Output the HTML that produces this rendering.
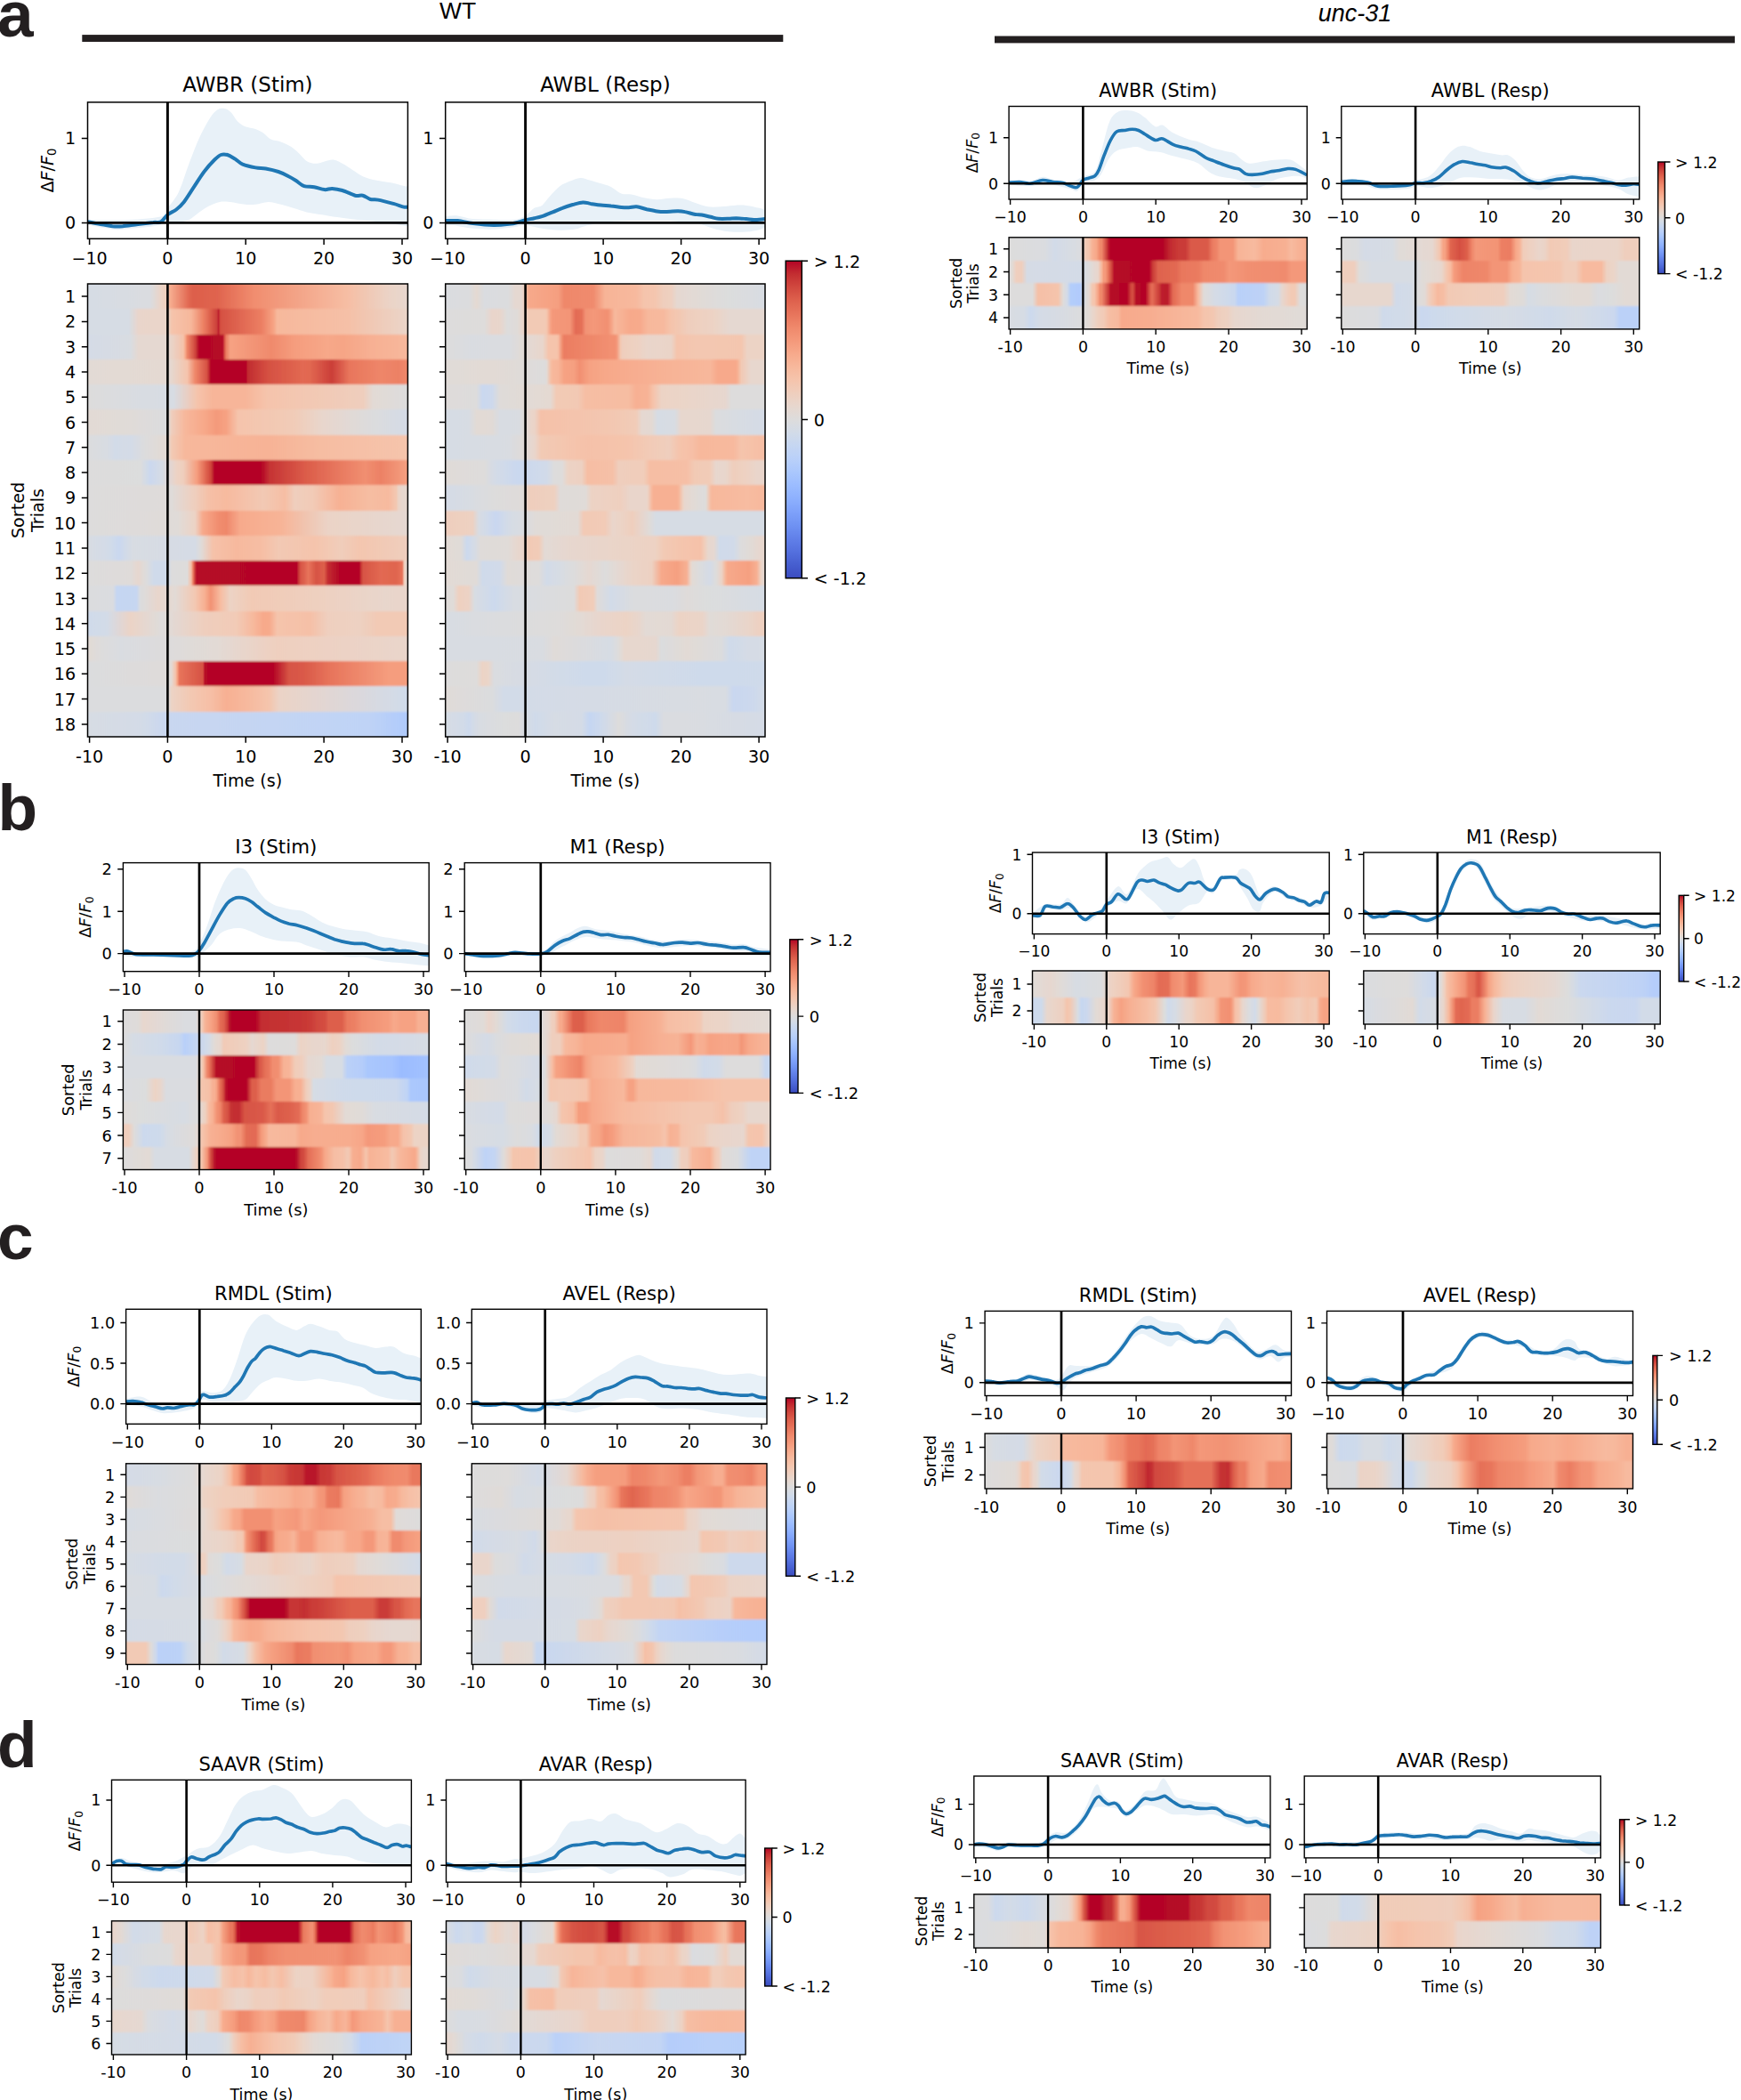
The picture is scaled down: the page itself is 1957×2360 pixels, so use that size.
<!DOCTYPE html><html><head><meta charset="utf-8"><title>Figure</title><style>html,body{margin:0;padding:0;background:#fff}svg{display:block}text{font-family:'DejaVu Sans','Liberation Sans',sans-serif;fill:#000}</style></head><body><svg width="1957" height="2360" viewBox="0 0 1957 2360"><defs><filter id="vb" x="-2%" y="-20%" width="104%" height="140%"><feGaussianBlur stdDeviation="0.7 1.2"/></filter><clipPath id="c0"><rect x="98.5" y="114.9" width="359.9" height="153.4"/></clipPath><clipPath id="h1"><rect x="98.5" y="319" width="359.9" height="509"/></clipPath><linearGradient id="g2" gradientUnits="userSpaceOnUse" x1="98.5" x2="458.4" y1="0" y2="0"><stop offset="0" stop-color="#d6dce4"/><stop offset="0.1953" stop-color="#dadce0"/><stop offset="0.2319" stop-color="#ecd3c5"/><stop offset="0.2502" stop-color="#f1cdba"/><stop offset="0.2563" stop-color="#f7af91"/><stop offset="0.3173" stop-color="#e16751"/><stop offset="0.3295" stop-color="#dd5f4b"/><stop offset="0.4089" stop-color="#e0654f"/><stop offset="0.5187" stop-color="#f18d6f"/><stop offset="0.8116" stop-color="#f6bea4"/><stop offset="0.9398" stop-color="#ebd3c6"/><stop offset="1" stop-color="#e7d7ce"/></linearGradient><linearGradient id="g3" gradientUnits="userSpaceOnUse" x1="98.5" x2="458.4" y1="0" y2="0"><stop offset="0" stop-color="#d6dce4"/><stop offset="0.1282" stop-color="#d6dce4"/><stop offset="0.1587" stop-color="#e9d5cb"/><stop offset="0.2502" stop-color="#ead5c9"/><stop offset="0.2624" stop-color="#f5c4ac"/><stop offset="0.3234" stop-color="#f7b79b"/><stop offset="0.36" stop-color="#ed8366"/><stop offset="0.3845" stop-color="#dc5d4a"/><stop offset="0.4028" stop-color="#cc403a"/><stop offset="0.4089" stop-color="#bd1f2d"/><stop offset="0.415" stop-color="#d55042"/><stop offset="0.5431" stop-color="#ec7f63"/><stop offset="0.5797" stop-color="#f6a283"/><stop offset="0.5919" stop-color="#f7b89c"/><stop offset="0.8116" stop-color="#f5c0a7"/><stop offset="1" stop-color="#ead5c9"/></linearGradient><linearGradient id="g4" gradientUnits="userSpaceOnUse" x1="98.5" x2="458.4" y1="0" y2="0"><stop offset="0" stop-color="#d4dbe6"/><stop offset="0.1343" stop-color="#d9dce1"/><stop offset="0.1587" stop-color="#e5d8d1"/><stop offset="0.2502" stop-color="#e5d8d1"/><stop offset="0.299" stop-color="#f5c2aa"/><stop offset="0.3051" stop-color="#f7a889"/><stop offset="0.3112" stop-color="#ee8669"/><stop offset="0.3356" stop-color="#d0473d"/><stop offset="0.3417" stop-color="#c12b30"/><stop offset="0.3478" stop-color="#b40426"/><stop offset="0.4211" stop-color="#b50927"/><stop offset="0.4272" stop-color="#d65244"/><stop offset="0.4333" stop-color="#ec7f63"/><stop offset="0.4455" stop-color="#f6a283"/><stop offset="0.5736" stop-color="#f08a6c"/><stop offset="0.6469" stop-color="#f59d7e"/><stop offset="0.7506" stop-color="#f7a889"/><stop offset="0.7994" stop-color="#f6a586"/><stop offset="0.8848" stop-color="#f7b093"/><stop offset="1" stop-color="#f7b89c"/></linearGradient><linearGradient id="g5" gradientUnits="userSpaceOnUse" x1="98.5" x2="458.4" y1="0" y2="0"><stop offset="0" stop-color="#e2dad5"/><stop offset="0.2563" stop-color="#e4d9d2"/><stop offset="0.3112" stop-color="#f5c4ac"/><stop offset="0.3356" stop-color="#ef886b"/><stop offset="0.3722" stop-color="#d65244"/><stop offset="0.3783" stop-color="#c53334"/><stop offset="0.3845" stop-color="#b40426"/><stop offset="0.4943" stop-color="#b40426"/><stop offset="0.5004" stop-color="#c12b30"/><stop offset="0.5614" stop-color="#d55042"/><stop offset="0.6713" stop-color="#e26952"/><stop offset="0.6957" stop-color="#e16751"/><stop offset="0.7628" stop-color="#cb3e38"/><stop offset="0.8177" stop-color="#e8765c"/><stop offset="0.9154" stop-color="#ee8669"/><stop offset="0.9703" stop-color="#ec8165"/><stop offset="1" stop-color="#ef886b"/></linearGradient><linearGradient id="g6" gradientUnits="userSpaceOnUse" x1="98.5" x2="458.4" y1="0" y2="0"><stop offset="0" stop-color="#dddcdc"/><stop offset="0.1404" stop-color="#d9dce1"/><stop offset="0.2685" stop-color="#d7dce3"/><stop offset="0.3417" stop-color="#f5c4ac"/><stop offset="0.3906" stop-color="#f7b599"/><stop offset="0.4943" stop-color="#f7b599"/><stop offset="0.5309" stop-color="#f6bea4"/><stop offset="0.5614" stop-color="#f5c4ac"/><stop offset="0.8604" stop-color="#efcebd"/><stop offset="0.8909" stop-color="#e2dad5"/><stop offset="1" stop-color="#dddcdc"/></linearGradient><linearGradient id="g7" gradientUnits="userSpaceOnUse" x1="98.5" x2="458.4" y1="0" y2="0"><stop offset="0" stop-color="#e2dad5"/><stop offset="0.1343" stop-color="#e0dbd8"/><stop offset="0.2441" stop-color="#dbdcde"/><stop offset="0.2502" stop-color="#dcdddd"/><stop offset="0.2624" stop-color="#efcebd"/><stop offset="0.3051" stop-color="#f7b79b"/><stop offset="0.3661" stop-color="#f7a889"/><stop offset="0.4028" stop-color="#f49a7b"/><stop offset="0.4333" stop-color="#f6a283"/><stop offset="0.4699" stop-color="#f5c4ac"/><stop offset="0.6469" stop-color="#f1ccb8"/><stop offset="0.7323" stop-color="#e8d6cc"/><stop offset="0.8971" stop-color="#dbdcde"/><stop offset="1" stop-color="#d4dbe6"/></linearGradient><linearGradient id="g8" gradientUnits="userSpaceOnUse" x1="98.5" x2="458.4" y1="0" y2="0"><stop offset="0" stop-color="#dbdcde"/><stop offset="0.061" stop-color="#d8dce2"/><stop offset="0.0854" stop-color="#d2dbe8"/><stop offset="0.1159" stop-color="#d4dbe6"/><stop offset="0.1343" stop-color="#d3dbe7"/><stop offset="0.1831" stop-color="#dddcdc"/><stop offset="0.2502" stop-color="#e3d9d3"/><stop offset="0.2624" stop-color="#f2cab5"/><stop offset="0.3051" stop-color="#f7b89c"/><stop offset="0.5675" stop-color="#f7b396"/><stop offset="0.7262" stop-color="#f6bda2"/><stop offset="1" stop-color="#f5c4ac"/></linearGradient><linearGradient id="g9" gradientUnits="userSpaceOnUse" x1="98.5" x2="458.4" y1="0" y2="0"><stop offset="0" stop-color="#dddcdc"/><stop offset="0.1648" stop-color="#dcdddd"/><stop offset="0.1953" stop-color="#cbd8ee"/><stop offset="0.2319" stop-color="#d5dbe5"/><stop offset="0.2807" stop-color="#edd2c3"/><stop offset="0.299" stop-color="#efcebd"/><stop offset="0.3417" stop-color="#f59d7e"/><stop offset="0.3722" stop-color="#dd5f4b"/><stop offset="0.3845" stop-color="#d0473d"/><stop offset="0.3906" stop-color="#c12b30"/><stop offset="0.3967" stop-color="#b40426"/><stop offset="0.5431" stop-color="#b40426"/><stop offset="0.5675" stop-color="#c53334"/><stop offset="0.6835" stop-color="#dc5d4a"/><stop offset="0.8665" stop-color="#f18f71"/><stop offset="0.9154" stop-color="#ec8165"/><stop offset="1" stop-color="#f5a081"/></linearGradient><linearGradient id="g10" gradientUnits="userSpaceOnUse" x1="98.5" x2="458.4" y1="0" y2="0"><stop offset="0" stop-color="#dddcdc"/><stop offset="0.2624" stop-color="#dfdbd9"/><stop offset="0.3356" stop-color="#efcebd"/><stop offset="0.3783" stop-color="#f5c0a7"/><stop offset="0.4333" stop-color="#f7ba9f"/><stop offset="0.5492" stop-color="#f2c9b4"/><stop offset="0.6163" stop-color="#f6bea4"/><stop offset="0.6469" stop-color="#efcebd"/><stop offset="0.7018" stop-color="#f2cbb7"/><stop offset="0.7872" stop-color="#f7b194"/><stop offset="0.8787" stop-color="#f6bda2"/><stop offset="0.9398" stop-color="#f7ba9f"/><stop offset="0.9642" stop-color="#f3c8b2"/><stop offset="0.9703" stop-color="#ebd3c6"/><stop offset="0.9825" stop-color="#e7d7ce"/><stop offset="1" stop-color="#e7d7ce"/></linearGradient><linearGradient id="g11" gradientUnits="userSpaceOnUse" x1="98.5" x2="458.4" y1="0" y2="0"><stop offset="0" stop-color="#dddcdc"/><stop offset="0.2807" stop-color="#e0dbd8"/><stop offset="0.3356" stop-color="#ecd3c5"/><stop offset="0.36" stop-color="#f7a98b"/><stop offset="0.4089" stop-color="#f18d6f"/><stop offset="0.4333" stop-color="#ef886b"/><stop offset="0.476" stop-color="#f7aa8c"/><stop offset="0.6041" stop-color="#f7b497"/><stop offset="0.7506" stop-color="#ebd3c6"/><stop offset="1" stop-color="#e5d8d1"/></linearGradient><linearGradient id="g12" gradientUnits="userSpaceOnUse" x1="98.5" x2="458.4" y1="0" y2="0"><stop offset="0" stop-color="#d8dce2"/><stop offset="0.0671" stop-color="#d2dbe8"/><stop offset="0.0976" stop-color="#cad8ef"/><stop offset="0.1404" stop-color="#d8dce2"/><stop offset="0.3356" stop-color="#d5dbe5"/><stop offset="0.3539" stop-color="#dfdbd9"/><stop offset="0.3906" stop-color="#f5c2aa"/><stop offset="0.4638" stop-color="#f7b99e"/><stop offset="0.5431" stop-color="#f6bea4"/><stop offset="0.598" stop-color="#f2c9b4"/><stop offset="0.7079" stop-color="#f5c4ac"/><stop offset="0.7689" stop-color="#f2cbb7"/><stop offset="0.7933" stop-color="#f0cdbb"/><stop offset="0.8482" stop-color="#f4c6af"/><stop offset="1" stop-color="#efcebd"/></linearGradient><linearGradient id="g13" gradientUnits="userSpaceOnUse" x1="98.5" x2="458.4" y1="0" y2="0"><stop offset="0" stop-color="#dddcdc"/><stop offset="0.1343" stop-color="#dfdbd9"/><stop offset="0.1587" stop-color="#e6d7cf"/><stop offset="0.1831" stop-color="#dddcdc"/><stop offset="0.2075" stop-color="#cfdaea"/><stop offset="0.2502" stop-color="#cfdaea"/><stop offset="0.2624" stop-color="#dddcdc"/><stop offset="0.3112" stop-color="#dedcdb"/><stop offset="0.3234" stop-color="#f5c0a7"/><stop offset="0.3295" stop-color="#ea7b60"/><stop offset="0.3356" stop-color="#ca3b37"/><stop offset="0.3417" stop-color="#b50927"/><stop offset="0.653" stop-color="#b40426"/><stop offset="0.6591" stop-color="#c83836"/><stop offset="0.6652" stop-color="#d75445"/><stop offset="0.6896" stop-color="#e7745b"/><stop offset="0.714" stop-color="#d75445"/><stop offset="0.7384" stop-color="#dd5f4b"/><stop offset="0.7506" stop-color="#c32e31"/><stop offset="0.7872" stop-color="#b40426"/><stop offset="0.8482" stop-color="#b40426"/><stop offset="0.8543" stop-color="#c83836"/><stop offset="0.8604" stop-color="#d75445"/><stop offset="0.9154" stop-color="#e26952"/><stop offset="0.9642" stop-color="#e0654f"/><stop offset="0.9825" stop-color="#e67259"/><stop offset="0.9886" stop-color="#f1cdba"/><stop offset="0.9947" stop-color="#e7d7ce"/><stop offset="1" stop-color="#e7d7ce"/></linearGradient><linearGradient id="g14" gradientUnits="userSpaceOnUse" x1="98.5" x2="458.4" y1="0" y2="0"><stop offset="0" stop-color="#dbdcde"/><stop offset="0.0793" stop-color="#dadce0"/><stop offset="0.0915" stop-color="#c5d6f2"/><stop offset="0.1526" stop-color="#c6d6f1"/><stop offset="0.1648" stop-color="#dbdcde"/><stop offset="0.2197" stop-color="#e8d6cc"/><stop offset="0.2746" stop-color="#e2dad5"/><stop offset="0.3356" stop-color="#f3c8b2"/><stop offset="0.3661" stop-color="#f7af91"/><stop offset="0.3845" stop-color="#f29274"/><stop offset="0.415" stop-color="#f7bca1"/><stop offset="0.4455" stop-color="#ecd3c5"/><stop offset="0.5126" stop-color="#f2cab5"/><stop offset="0.7262" stop-color="#eed0c0"/><stop offset="0.9276" stop-color="#e8d6cc"/><stop offset="1" stop-color="#e9d5cb"/></linearGradient><linearGradient id="g15" gradientUnits="userSpaceOnUse" x1="98.5" x2="458.4" y1="0" y2="0"><stop offset="0" stop-color="#cfdaea"/><stop offset="0.061" stop-color="#d3dbe7"/><stop offset="0.1343" stop-color="#ebd3c6"/><stop offset="0.2319" stop-color="#dedcdb"/><stop offset="0.3661" stop-color="#efcebd"/><stop offset="0.4638" stop-color="#f2cbb7"/><stop offset="0.5187" stop-color="#f7b89c"/><stop offset="0.5492" stop-color="#f7a98b"/><stop offset="0.5675" stop-color="#f7aa8c"/><stop offset="0.5919" stop-color="#f5c4ac"/><stop offset="0.6957" stop-color="#f5c0a7"/><stop offset="0.7506" stop-color="#efcfbf"/><stop offset="0.8482" stop-color="#edd1c2"/><stop offset="0.9032" stop-color="#f2cab5"/><stop offset="1" stop-color="#f2cab5"/></linearGradient><linearGradient id="g16" gradientUnits="userSpaceOnUse" x1="98.5" x2="458.4" y1="0" y2="0"><stop offset="0" stop-color="#e2dad5"/><stop offset="0.0427" stop-color="#dddcdc"/><stop offset="0.1037" stop-color="#d9dce1"/><stop offset="0.4028" stop-color="#e2dad5"/><stop offset="0.5919" stop-color="#efcfbf"/><stop offset="1" stop-color="#e9d5cb"/></linearGradient><linearGradient id="g17" gradientUnits="userSpaceOnUse" x1="98.5" x2="458.4" y1="0" y2="0"><stop offset="0" stop-color="#dbdcde"/><stop offset="0.2563" stop-color="#dfdbd9"/><stop offset="0.2624" stop-color="#e3d9d3"/><stop offset="0.2746" stop-color="#f5c2aa"/><stop offset="0.2807" stop-color="#f59f80"/><stop offset="0.2868" stop-color="#e7745b"/><stop offset="0.36" stop-color="#d65244"/><stop offset="0.3661" stop-color="#b70d28"/><stop offset="0.3783" stop-color="#b40426"/><stop offset="0.5797" stop-color="#b40426"/><stop offset="0.6163" stop-color="#cd423b"/><stop offset="0.6285" stop-color="#d75445"/><stop offset="0.6774" stop-color="#da5a49"/><stop offset="0.7567" stop-color="#e7745b"/><stop offset="0.9398" stop-color="#f59d7e"/><stop offset="1" stop-color="#f59d7e"/></linearGradient><linearGradient id="g18" gradientUnits="userSpaceOnUse" x1="98.5" x2="458.4" y1="0" y2="0"><stop offset="0" stop-color="#dbdcde"/><stop offset="0.2502" stop-color="#dbdcde"/><stop offset="0.2624" stop-color="#ecd3c5"/><stop offset="0.3234" stop-color="#f3c8b2"/><stop offset="0.3845" stop-color="#f6bfa6"/><stop offset="0.4333" stop-color="#f7b093"/><stop offset="0.5004" stop-color="#f7b99e"/><stop offset="0.5675" stop-color="#f4c5ad"/><stop offset="0.598" stop-color="#ebd3c6"/><stop offset="0.9764" stop-color="#d2dbe8"/><stop offset="1" stop-color="#cfdaea"/></linearGradient><linearGradient id="g19" gradientUnits="userSpaceOnUse" x1="98.5" x2="458.4" y1="0" y2="0"><stop offset="0" stop-color="#d7dce3"/><stop offset="0.1709" stop-color="#d3dbe7"/><stop offset="0.2441" stop-color="#c9d7f0"/><stop offset="0.8787" stop-color="#bfd3f6"/><stop offset="1" stop-color="#afcafc"/></linearGradient><clipPath id="c20"><rect x="500.7" y="114.9" width="359.3" height="153.4"/></clipPath><clipPath id="h21"><rect x="500.7" y="319" width="359.3" height="509"/></clipPath><linearGradient id="g22" gradientUnits="userSpaceOnUse" x1="500.7" x2="860" y1="0" y2="0"><stop offset="0" stop-color="#dadce0"/><stop offset="0.0731" stop-color="#dbdcde"/><stop offset="0.0974" stop-color="#e4d9d2"/><stop offset="0.1218" stop-color="#dadce0"/><stop offset="0.1948" stop-color="#dbdcde"/><stop offset="0.2192" stop-color="#e5d8d1"/><stop offset="0.2374" stop-color="#e5d8d1"/><stop offset="0.2435" stop-color="#ead5c9"/><stop offset="0.2557" stop-color="#f7b497"/><stop offset="0.2618" stop-color="#f7a98b"/><stop offset="0.3531" stop-color="#f59f80"/><stop offset="0.3714" stop-color="#ef886b"/><stop offset="0.4627" stop-color="#f08b6e"/><stop offset="0.4992" stop-color="#f7b497"/><stop offset="0.5966" stop-color="#f7b99e"/><stop offset="0.621" stop-color="#f5c4ac"/><stop offset="0.6575" stop-color="#f4c6af"/><stop offset="0.6819" stop-color="#efcebd"/><stop offset="0.7062" stop-color="#eed0c0"/><stop offset="0.7245" stop-color="#e5d8d1"/><stop offset="0.8828" stop-color="#dcdddd"/><stop offset="1" stop-color="#d8dce2"/></linearGradient><linearGradient id="g23" gradientUnits="userSpaceOnUse" x1="500.7" x2="860" y1="0" y2="0"><stop offset="0" stop-color="#dddcdc"/><stop offset="0.1218" stop-color="#dedcdb"/><stop offset="0.1461" stop-color="#e9d5cb"/><stop offset="0.1705" stop-color="#e8d6cc"/><stop offset="0.1948" stop-color="#dddcdc"/><stop offset="0.2253" stop-color="#e0dbd8"/><stop offset="0.2496" stop-color="#ecd3c5"/><stop offset="0.2618" stop-color="#f2cab5"/><stop offset="0.3105" stop-color="#f2cab5"/><stop offset="0.3166" stop-color="#f4c6af"/><stop offset="0.3288" stop-color="#f6a385"/><stop offset="0.3349" stop-color="#f4987a"/><stop offset="0.3896" stop-color="#f39577"/><stop offset="0.4079" stop-color="#e36b54"/><stop offset="0.4262" stop-color="#e57058"/><stop offset="0.4384" stop-color="#f29274"/><stop offset="0.4627" stop-color="#f4987a"/><stop offset="0.5053" stop-color="#f29072"/><stop offset="0.5114" stop-color="#f39577"/><stop offset="0.5297" stop-color="#f7b89c"/><stop offset="0.554" stop-color="#f7b194"/><stop offset="0.5784" stop-color="#f7a98b"/><stop offset="0.6088" stop-color="#f7aa8c"/><stop offset="0.6332" stop-color="#f7b89c"/><stop offset="0.6819" stop-color="#f7b99e"/><stop offset="0.7062" stop-color="#f5c4ac"/><stop offset="0.7367" stop-color="#f2c9b4"/><stop offset="0.761" stop-color="#efcebd"/><stop offset="0.8402" stop-color="#ecd3c5"/><stop offset="0.8889" stop-color="#e5d8d1"/><stop offset="1" stop-color="#e5d8d1"/></linearGradient><linearGradient id="g24" gradientUnits="userSpaceOnUse" x1="500.7" x2="860" y1="0" y2="0"><stop offset="0" stop-color="#dddcdc"/><stop offset="0.0791" stop-color="#d9dce1"/><stop offset="0.2009" stop-color="#dadce0"/><stop offset="0.2314" stop-color="#e0dbd8"/><stop offset="0.3044" stop-color="#e8d6cc"/><stop offset="0.3227" stop-color="#f5c4ac"/><stop offset="0.347" stop-color="#f5c4ac"/><stop offset="0.3531" stop-color="#f6bea4"/><stop offset="0.3653" stop-color="#f18d6f"/><stop offset="0.3714" stop-color="#eb7d62"/><stop offset="0.4201" stop-color="#ed8366"/><stop offset="0.5175" stop-color="#f29072"/><stop offset="0.5297" stop-color="#f29072"/><stop offset="0.5358" stop-color="#f4987a"/><stop offset="0.5479" stop-color="#f3c7b1"/><stop offset="0.554" stop-color="#efcebd"/><stop offset="0.6027" stop-color="#edd2c3"/><stop offset="0.6332" stop-color="#e9d5cb"/><stop offset="0.7062" stop-color="#ead4c8"/><stop offset="0.7245" stop-color="#f5c4ac"/><stop offset="0.7854" stop-color="#f3c7b1"/><stop offset="0.8341" stop-color="#f3c7b1"/><stop offset="0.9254" stop-color="#f4c6af"/><stop offset="0.9437" stop-color="#ecd3c5"/><stop offset="1" stop-color="#ecd3c5"/></linearGradient><linearGradient id="g25" gradientUnits="userSpaceOnUse" x1="500.7" x2="860" y1="0" y2="0"><stop offset="0" stop-color="#e0dbd8"/><stop offset="0.1279" stop-color="#e2dad5"/><stop offset="0.1826" stop-color="#e1dad6"/><stop offset="0.3105" stop-color="#dddcdc"/><stop offset="0.3166" stop-color="#e1dad6"/><stop offset="0.3288" stop-color="#f5c0a7"/><stop offset="0.3349" stop-color="#f7b89c"/><stop offset="0.3531" stop-color="#f7b599"/><stop offset="0.3714" stop-color="#f6a283"/><stop offset="0.4018" stop-color="#f5a081"/><stop offset="0.4201" stop-color="#f29072"/><stop offset="0.4505" stop-color="#f6a283"/><stop offset="0.4992" stop-color="#f7a889"/><stop offset="0.5906" stop-color="#f7ad90"/><stop offset="0.7123" stop-color="#f7b497"/><stop offset="0.828" stop-color="#f7b79b"/><stop offset="0.8524" stop-color="#f7a98b"/><stop offset="0.9071" stop-color="#f7a98b"/><stop offset="0.9132" stop-color="#f7af91"/><stop offset="0.9254" stop-color="#f2c9b4"/><stop offset="0.9559" stop-color="#e7d7ce"/><stop offset="1" stop-color="#e7d7ce"/></linearGradient><linearGradient id="g26" gradientUnits="userSpaceOnUse" x1="500.7" x2="860" y1="0" y2="0"><stop offset="0" stop-color="#dfdbd9"/><stop offset="0.0974" stop-color="#dddcdc"/><stop offset="0.1157" stop-color="#cad8ef"/><stop offset="0.1461" stop-color="#cdd9ec"/><stop offset="0.1705" stop-color="#dfdbd9"/><stop offset="0.3288" stop-color="#e4d9d2"/><stop offset="0.347" stop-color="#f2cab5"/><stop offset="0.414" stop-color="#f2c9b4"/><stop offset="0.4384" stop-color="#f6bea4"/><stop offset="0.5723" stop-color="#f6bda2"/><stop offset="0.5966" stop-color="#f7b093"/><stop offset="0.6332" stop-color="#f7b396"/><stop offset="0.6514" stop-color="#f5c4ac"/><stop offset="0.6758" stop-color="#ecd3c5"/><stop offset="0.761" stop-color="#ead5c9"/><stop offset="0.8767" stop-color="#e6d7cf"/><stop offset="0.895" stop-color="#dddcdc"/><stop offset="1" stop-color="#dddcdc"/></linearGradient><linearGradient id="g27" gradientUnits="userSpaceOnUse" x1="500.7" x2="860" y1="0" y2="0"><stop offset="0" stop-color="#d6dce4"/><stop offset="0.0731" stop-color="#d7dce3"/><stop offset="0.0974" stop-color="#e2dad5"/><stop offset="0.1461" stop-color="#e1dad6"/><stop offset="0.1705" stop-color="#d8dce2"/><stop offset="0.2314" stop-color="#d9dce1"/><stop offset="0.2496" stop-color="#e1dad6"/><stop offset="0.2679" stop-color="#e9d5cb"/><stop offset="0.2801" stop-color="#ebd3c6"/><stop offset="0.2983" stop-color="#f5c1a9"/><stop offset="0.5175" stop-color="#f3c7b1"/><stop offset="0.5966" stop-color="#f1ccb8"/><stop offset="0.6149" stop-color="#e5d8d1"/><stop offset="0.6454" stop-color="#e3d9d3"/><stop offset="0.6636" stop-color="#d6dce4"/><stop offset="0.7184" stop-color="#d8dce2"/><stop offset="0.7367" stop-color="#e7d7ce"/><stop offset="0.828" stop-color="#e6d7cf"/><stop offset="0.8463" stop-color="#dbdcde"/><stop offset="0.9071" stop-color="#d8dce2"/><stop offset="1" stop-color="#d4dbe6"/></linearGradient><linearGradient id="g28" gradientUnits="userSpaceOnUse" x1="500.7" x2="860" y1="0" y2="0"><stop offset="0" stop-color="#d6dce4"/><stop offset="0.2009" stop-color="#d9dce1"/><stop offset="0.2496" stop-color="#e1dad6"/><stop offset="0.2801" stop-color="#e9d5cb"/><stop offset="0.2983" stop-color="#f2cab5"/><stop offset="0.3714" stop-color="#f4c6af"/><stop offset="0.4444" stop-color="#f5c1a9"/><stop offset="0.5662" stop-color="#f5c4ac"/><stop offset="0.6393" stop-color="#f2cbb7"/><stop offset="0.7001" stop-color="#efcebd"/><stop offset="0.7306" stop-color="#f5c4ac"/><stop offset="0.7732" stop-color="#f6bfa6"/><stop offset="0.7976" stop-color="#f7b89c"/><stop offset="0.9011" stop-color="#f7b99e"/><stop offset="0.9254" stop-color="#f5c4ac"/><stop offset="1" stop-color="#f6bea4"/></linearGradient><linearGradient id="g29" gradientUnits="userSpaceOnUse" x1="500.7" x2="860" y1="0" y2="0"><stop offset="0" stop-color="#e0dbd8"/><stop offset="0.1218" stop-color="#dedcdb"/><stop offset="0.1522" stop-color="#d4dbe6"/><stop offset="0.2253" stop-color="#cad8ef"/><stop offset="0.3166" stop-color="#d1dae9"/><stop offset="0.3409" stop-color="#dddcdc"/><stop offset="0.3653" stop-color="#dedcdb"/><stop offset="0.3836" stop-color="#ecd3c5"/><stop offset="0.4262" stop-color="#edd1c2"/><stop offset="0.4444" stop-color="#f6bea4"/><stop offset="0.5236" stop-color="#f5c0a7"/><stop offset="0.5419" stop-color="#efcebd"/><stop offset="0.621" stop-color="#f1cdba"/><stop offset="0.6393" stop-color="#f6bea4"/><stop offset="0.7549" stop-color="#f6bfa6"/><stop offset="0.7793" stop-color="#f2cab5"/><stop offset="0.828" stop-color="#f1ccb8"/><stop offset="0.8463" stop-color="#e7d7ce"/><stop offset="0.8767" stop-color="#e8d6cc"/><stop offset="0.9011" stop-color="#efcebd"/><stop offset="0.9437" stop-color="#edd2c3"/><stop offset="0.9741" stop-color="#e9d5cb"/><stop offset="1" stop-color="#e9d5cb"/></linearGradient><linearGradient id="g30" gradientUnits="userSpaceOnUse" x1="500.7" x2="860" y1="0" y2="0"><stop offset="0" stop-color="#d4dbe6"/><stop offset="0.0791" stop-color="#d8dce2"/><stop offset="0.1522" stop-color="#dddcdc"/><stop offset="0.2435" stop-color="#dfdbd9"/><stop offset="0.2618" stop-color="#efcebd"/><stop offset="0.3409" stop-color="#eed0c0"/><stop offset="0.3592" stop-color="#dfdbd9"/><stop offset="0.4384" stop-color="#e0dbd8"/><stop offset="0.4566" stop-color="#ecd3c5"/><stop offset="0.5479" stop-color="#efcfbf"/><stop offset="0.5784" stop-color="#e9d5cb"/><stop offset="0.6271" stop-color="#e9d5cb"/><stop offset="0.6332" stop-color="#ecd3c5"/><stop offset="0.6454" stop-color="#f7b99e"/><stop offset="0.6514" stop-color="#f7b093"/><stop offset="0.7245" stop-color="#f7b093"/><stop offset="0.7306" stop-color="#f7b79b"/><stop offset="0.7428" stop-color="#edd2c3"/><stop offset="0.7489" stop-color="#e7d7ce"/><stop offset="0.7732" stop-color="#e2dad5"/><stop offset="0.8097" stop-color="#dddcdc"/><stop offset="0.8158" stop-color="#e1dad6"/><stop offset="0.828" stop-color="#f5c0a7"/><stop offset="0.8341" stop-color="#f7b89c"/><stop offset="0.9071" stop-color="#f7ba9f"/><stop offset="0.9437" stop-color="#f7bca1"/><stop offset="1" stop-color="#f7b89c"/></linearGradient><linearGradient id="g31" gradientUnits="userSpaceOnUse" x1="500.7" x2="860" y1="0" y2="0"><stop offset="0" stop-color="#efcebd"/><stop offset="0.0852" stop-color="#edd1c2"/><stop offset="0.1035" stop-color="#d8dce2"/><stop offset="0.1279" stop-color="#d1dae9"/><stop offset="0.1583" stop-color="#c9d7f0"/><stop offset="0.207" stop-color="#d6dce4"/><stop offset="0.2496" stop-color="#dadce0"/><stop offset="0.2801" stop-color="#e0dbd8"/><stop offset="0.414" stop-color="#e2dad5"/><stop offset="0.4323" stop-color="#f2cab5"/><stop offset="0.4992" stop-color="#f2cbb7"/><stop offset="0.5236" stop-color="#e9d5cb"/><stop offset="0.554" stop-color="#ecd3c5"/><stop offset="0.5845" stop-color="#efcebd"/><stop offset="0.6393" stop-color="#dfdbd9"/><stop offset="0.6575" stop-color="#d6dce4"/><stop offset="1" stop-color="#d6dce4"/></linearGradient><linearGradient id="g32" gradientUnits="userSpaceOnUse" x1="500.7" x2="860" y1="0" y2="0"><stop offset="0" stop-color="#e2dad5"/><stop offset="0.0487" stop-color="#e0dbd8"/><stop offset="0.067" stop-color="#ccd9ed"/><stop offset="0.0913" stop-color="#d5dbe5"/><stop offset="0.1096" stop-color="#dfdbd9"/><stop offset="0.1948" stop-color="#e0dbd8"/><stop offset="0.2253" stop-color="#e7d7ce"/><stop offset="0.2435" stop-color="#e9d5cb"/><stop offset="0.2618" stop-color="#f2cab5"/><stop offset="0.2922" stop-color="#f1ccb8"/><stop offset="0.3105" stop-color="#e2dad5"/><stop offset="0.3775" stop-color="#e6d7cf"/><stop offset="0.6575" stop-color="#edd2c3"/><stop offset="0.6819" stop-color="#f2cab5"/><stop offset="0.7245" stop-color="#f4c6af"/><stop offset="0.7976" stop-color="#f5c1a9"/><stop offset="0.8097" stop-color="#f1cdba"/><stop offset="0.8219" stop-color="#e7d7ce"/><stop offset="0.8402" stop-color="#e5d8d1"/><stop offset="0.8584" stop-color="#cfdaea"/><stop offset="0.9011" stop-color="#d1dae9"/><stop offset="0.9254" stop-color="#dddcdc"/><stop offset="0.9559" stop-color="#e1dad6"/><stop offset="0.9863" stop-color="#e7d7ce"/><stop offset="1" stop-color="#e7d7ce"/></linearGradient><linearGradient id="g33" gradientUnits="userSpaceOnUse" x1="500.7" x2="860" y1="0" y2="0"><stop offset="0" stop-color="#e2dad5"/><stop offset="0.0974" stop-color="#e0dbd8"/><stop offset="0.1157" stop-color="#cfdaea"/><stop offset="0.1705" stop-color="#d1dae9"/><stop offset="0.1948" stop-color="#e0dbd8"/><stop offset="0.2922" stop-color="#dedcdb"/><stop offset="0.3166" stop-color="#d2dbe8"/><stop offset="0.3592" stop-color="#d7dce3"/><stop offset="0.4018" stop-color="#dddcdc"/><stop offset="0.4505" stop-color="#e5d8d1"/><stop offset="0.4992" stop-color="#dddcdc"/><stop offset="0.5479" stop-color="#e5d8d1"/><stop offset="0.5845" stop-color="#ead4c8"/><stop offset="0.6454" stop-color="#edd1c2"/><stop offset="0.6758" stop-color="#f7a98b"/><stop offset="0.7245" stop-color="#f5a081"/><stop offset="0.7549" stop-color="#f7b093"/><stop offset="0.7671" stop-color="#ead5c9"/><stop offset="0.7732" stop-color="#e2dad5"/><stop offset="0.7976" stop-color="#dbdcde"/><stop offset="0.828" stop-color="#d4dbe6"/><stop offset="0.8463" stop-color="#dddcdc"/><stop offset="0.8645" stop-color="#ebd3c6"/><stop offset="0.8767" stop-color="#f7b497"/><stop offset="0.8828" stop-color="#f7a98b"/><stop offset="0.9498" stop-color="#f5a081"/><stop offset="0.9741" stop-color="#f7b093"/><stop offset="0.9863" stop-color="#edd1c2"/><stop offset="0.9924" stop-color="#e7d7ce"/><stop offset="1" stop-color="#e7d7ce"/></linearGradient><linearGradient id="g34" gradientUnits="userSpaceOnUse" x1="500.7" x2="860" y1="0" y2="0"><stop offset="0" stop-color="#dfdbd9"/><stop offset="0.0244" stop-color="#e0dbd8"/><stop offset="0.0426" stop-color="#eed0c0"/><stop offset="0.0731" stop-color="#ecd3c5"/><stop offset="0.0913" stop-color="#d8dce2"/><stop offset="0.1522" stop-color="#ccd9ed"/><stop offset="0.2131" stop-color="#d8dce2"/><stop offset="0.4018" stop-color="#dddcdc"/><stop offset="0.4201" stop-color="#f2cab5"/><stop offset="0.4627" stop-color="#f1cdba"/><stop offset="0.4749" stop-color="#dfdbd9"/><stop offset="0.5175" stop-color="#d2dbe8"/><stop offset="0.5906" stop-color="#dbdcde"/><stop offset="0.7123" stop-color="#dadce0"/><stop offset="0.7549" stop-color="#dfdbd9"/><stop offset="0.8097" stop-color="#dcdddd"/><stop offset="1" stop-color="#d6dce4"/></linearGradient><linearGradient id="g35" gradientUnits="userSpaceOnUse" x1="500.7" x2="860" y1="0" y2="0"><stop offset="0" stop-color="#d8dce2"/><stop offset="0.3531" stop-color="#dedcdb"/><stop offset="0.4201" stop-color="#e2dad5"/><stop offset="0.4931" stop-color="#e9d5cb"/><stop offset="0.5662" stop-color="#ecd3c5"/><stop offset="0.6027" stop-color="#e8d6cc"/><stop offset="0.6271" stop-color="#e2dad5"/><stop offset="0.7062" stop-color="#e3d9d3"/><stop offset="0.7306" stop-color="#ecd3c5"/><stop offset="0.8036" stop-color="#ead4c8"/><stop offset="0.828" stop-color="#e0dbd8"/><stop offset="0.8828" stop-color="#e3d9d3"/><stop offset="0.9559" stop-color="#ead4c8"/><stop offset="0.9863" stop-color="#eed0c0"/><stop offset="1" stop-color="#eed0c0"/></linearGradient><linearGradient id="g36" gradientUnits="userSpaceOnUse" x1="500.7" x2="860" y1="0" y2="0"><stop offset="0" stop-color="#d8dce2"/><stop offset="0.3044" stop-color="#d9dce1"/><stop offset="0.3409" stop-color="#e0dbd8"/><stop offset="0.5175" stop-color="#d6dce4"/><stop offset="0.5419" stop-color="#dedcdb"/><stop offset="0.5601" stop-color="#e7d7ce"/><stop offset="0.6575" stop-color="#e6d7cf"/><stop offset="0.6758" stop-color="#dbdcde"/><stop offset="0.7549" stop-color="#e2dad5"/><stop offset="0.8645" stop-color="#dbdcde"/><stop offset="0.8889" stop-color="#cfdaea"/><stop offset="0.9498" stop-color="#d5dbe5"/><stop offset="1" stop-color="#d6dce4"/></linearGradient><linearGradient id="g37" gradientUnits="userSpaceOnUse" x1="500.7" x2="860" y1="0" y2="0"><stop offset="0" stop-color="#dddcdc"/><stop offset="0.0974" stop-color="#dedcdb"/><stop offset="0.1157" stop-color="#ecd3c5"/><stop offset="0.1339" stop-color="#ead5c9"/><stop offset="0.1522" stop-color="#dadce0"/><stop offset="0.4444" stop-color="#cedaeb"/><stop offset="0.4931" stop-color="#cedaeb"/><stop offset="0.5662" stop-color="#d4dbe6"/><stop offset="0.8097" stop-color="#cedaeb"/><stop offset="1" stop-color="#cfdaea"/></linearGradient><linearGradient id="g38" gradientUnits="userSpaceOnUse" x1="500.7" x2="860" y1="0" y2="0"><stop offset="0" stop-color="#e0dbd8"/><stop offset="0.1461" stop-color="#dbdcde"/><stop offset="0.1826" stop-color="#d2dbe8"/><stop offset="0.7915" stop-color="#d9dce1"/><stop offset="0.8767" stop-color="#d8dce2"/><stop offset="0.9011" stop-color="#c9d7f0"/><stop offset="0.968" stop-color="#cdd9ec"/><stop offset="1" stop-color="#d4dbe6"/></linearGradient><linearGradient id="g39" gradientUnits="userSpaceOnUse" x1="500.7" x2="860" y1="0" y2="0"><stop offset="0" stop-color="#d6dce4"/><stop offset="0.0548" stop-color="#d2dbe8"/><stop offset="0.0731" stop-color="#cdd9ec"/><stop offset="0.1035" stop-color="#d8dce2"/><stop offset="0.1887" stop-color="#dcdddd"/><stop offset="0.2253" stop-color="#dddcdc"/><stop offset="0.2801" stop-color="#cfdaea"/><stop offset="0.3409" stop-color="#d6dce4"/><stop offset="0.4262" stop-color="#d4dbe6"/><stop offset="0.4505" stop-color="#c5d6f2"/><stop offset="0.481" stop-color="#ccd9ed"/><stop offset="0.5419" stop-color="#dddcdc"/><stop offset="0.5845" stop-color="#d4dbe6"/><stop offset="0.6575" stop-color="#cedaeb"/><stop offset="0.6819" stop-color="#dadce0"/><stop offset="0.8097" stop-color="#d9dce1"/><stop offset="1" stop-color="#d4dbe6"/></linearGradient><clipPath id="c40"><rect x="1134.1" y="119.5" width="335.1" height="104.5"/></clipPath><clipPath id="h41"><rect x="1134.1" y="266.8" width="335.1" height="103.1"/></clipPath><linearGradient id="g42" gradientUnits="userSpaceOnUse" x1="1134.1" x2="1469.2" y1="0" y2="0"><stop offset="0" stop-color="#dddcdc"/><stop offset="0.1221" stop-color="#dadce0"/><stop offset="0.1527" stop-color="#d2dbe8"/><stop offset="0.2015" stop-color="#d7dce3"/><stop offset="0.2381" stop-color="#dadce0"/><stop offset="0.2565" stop-color="#f2cbb7"/><stop offset="0.2687" stop-color="#f4c5ad"/><stop offset="0.2809" stop-color="#f7b194"/><stop offset="0.2931" stop-color="#f7a889"/><stop offset="0.3053" stop-color="#f08a6c"/><stop offset="0.3114" stop-color="#ef886b"/><stop offset="0.3297" stop-color="#c83836"/><stop offset="0.3359" stop-color="#b8122a"/><stop offset="0.342" stop-color="#b40426"/><stop offset="0.519" stop-color="#b40426"/><stop offset="0.5374" stop-color="#c0282f"/><stop offset="0.5679" stop-color="#ca3b37"/><stop offset="0.5923" stop-color="#ca3b37"/><stop offset="0.6106" stop-color="#da5a49"/><stop offset="0.6656" stop-color="#da5a49"/><stop offset="0.6839" stop-color="#eb7d62"/><stop offset="0.6961" stop-color="#ee8468"/><stop offset="0.7083" stop-color="#f39577"/><stop offset="0.7511" stop-color="#f39577"/><stop offset="0.7694" stop-color="#f7b497"/><stop offset="0.8244" stop-color="#f7ba9f"/><stop offset="0.8549" stop-color="#f7ac8e"/><stop offset="0.9282" stop-color="#f7b093"/><stop offset="0.9465" stop-color="#f7ba9f"/><stop offset="0.9709" stop-color="#f7b396"/><stop offset="1" stop-color="#f7ac8e"/></linearGradient><linearGradient id="g43" gradientUnits="userSpaceOnUse" x1="1134.1" x2="1469.2" y1="0" y2="0"><stop offset="0" stop-color="#dddcdc"/><stop offset="0.0122" stop-color="#e2dad5"/><stop offset="0.0244" stop-color="#efcfbf"/><stop offset="0.0427" stop-color="#efcebd"/><stop offset="0.0611" stop-color="#d5dbe5"/><stop offset="0.2443" stop-color="#d3dbe7"/><stop offset="0.2687" stop-color="#dddcdc"/><stop offset="0.2992" stop-color="#e9d5cb"/><stop offset="0.3114" stop-color="#f7b79b"/><stop offset="0.3175" stop-color="#f59c7d"/><stop offset="0.3236" stop-color="#f4987a"/><stop offset="0.3297" stop-color="#ee8669"/><stop offset="0.342" stop-color="#d55042"/><stop offset="0.3481" stop-color="#c53334"/><stop offset="0.3542" stop-color="#b50927"/><stop offset="0.4702" stop-color="#b40426"/><stop offset="0.4824" stop-color="#ca3b37"/><stop offset="0.5007" stop-color="#df634e"/><stop offset="0.5618" stop-color="#e26952"/><stop offset="0.5801" stop-color="#e9785d"/><stop offset="0.6351" stop-color="#ea7b60"/><stop offset="0.6534" stop-color="#ef886b"/><stop offset="0.7206" stop-color="#f08b6e"/><stop offset="0.7389" stop-color="#f4987a"/><stop offset="0.806" stop-color="#f18f71"/><stop offset="0.9282" stop-color="#f08b6e"/><stop offset="0.9465" stop-color="#f4987a"/><stop offset="1" stop-color="#f4987a"/></linearGradient><linearGradient id="g44" gradientUnits="userSpaceOnUse" x1="1134.1" x2="1469.2" y1="0" y2="0"><stop offset="0" stop-color="#dddcdc"/><stop offset="0.0794" stop-color="#dddcdc"/><stop offset="0.0977" stop-color="#f5c0a7"/><stop offset="0.1282" stop-color="#f5c1a9"/><stop offset="0.1649" stop-color="#f5c4ac"/><stop offset="0.1832" stop-color="#dedcdb"/><stop offset="0.1954" stop-color="#d3dbe7"/><stop offset="0.2076" stop-color="#b3cdfb"/><stop offset="0.2381" stop-color="#b1cbfc"/><stop offset="0.2565" stop-color="#dbdcde"/><stop offset="0.2687" stop-color="#e4d9d2"/><stop offset="0.2809" stop-color="#f4c6af"/><stop offset="0.287" stop-color="#f5c4ac"/><stop offset="0.2992" stop-color="#f6a385"/><stop offset="0.3053" stop-color="#f08a6c"/><stop offset="0.3114" stop-color="#ef886b"/><stop offset="0.3359" stop-color="#c32e31"/><stop offset="0.342" stop-color="#b50927"/><stop offset="0.3969" stop-color="#b40426"/><stop offset="0.4091" stop-color="#cf453c"/><stop offset="0.4152" stop-color="#d55042"/><stop offset="0.4213" stop-color="#c53334"/><stop offset="0.4274" stop-color="#b50927"/><stop offset="0.458" stop-color="#b40426"/><stop offset="0.4702" stop-color="#d24b40"/><stop offset="0.4763" stop-color="#e16751"/><stop offset="0.4824" stop-color="#e36b54"/><stop offset="0.5068" stop-color="#c73635"/><stop offset="0.5129" stop-color="#bd1f2d"/><stop offset="0.5313" stop-color="#bb1b2c"/><stop offset="0.5496" stop-color="#e26952"/><stop offset="0.5679" stop-color="#ea7b60"/><stop offset="0.5801" stop-color="#ef886b"/><stop offset="0.6167" stop-color="#ef886b"/><stop offset="0.6351" stop-color="#f7bca1"/><stop offset="0.6534" stop-color="#e0dbd8"/><stop offset="0.69" stop-color="#d5dbe5"/><stop offset="0.7267" stop-color="#cfdaea"/><stop offset="0.7572" stop-color="#cad8ef"/><stop offset="0.7694" stop-color="#b9d0f9"/><stop offset="0.8549" stop-color="#bed2f6"/><stop offset="0.8732" stop-color="#cfdaea"/><stop offset="0.9037" stop-color="#d5dbe5"/><stop offset="0.916" stop-color="#e6d7cf"/><stop offset="0.9343" stop-color="#efcfbf"/><stop offset="0.9465" stop-color="#f2cab5"/><stop offset="0.9587" stop-color="#f2cab5"/><stop offset="0.977" stop-color="#dedcdb"/><stop offset="1" stop-color="#dddcdc"/></linearGradient><linearGradient id="g45" gradientUnits="userSpaceOnUse" x1="1134.1" x2="1469.2" y1="0" y2="0"><stop offset="0" stop-color="#d9dce1"/><stop offset="0.0489" stop-color="#d6dce4"/><stop offset="0.0733" stop-color="#ccd9ed"/><stop offset="0.1038" stop-color="#d4dbe6"/><stop offset="0.2443" stop-color="#dbdcde"/><stop offset="0.2687" stop-color="#e2dad5"/><stop offset="0.287" stop-color="#ead4c8"/><stop offset="0.2992" stop-color="#efcebd"/><stop offset="0.3175" stop-color="#f2cbb7"/><stop offset="0.3359" stop-color="#f6bea4"/><stop offset="0.3664" stop-color="#f7b99e"/><stop offset="0.3786" stop-color="#f7aa8c"/><stop offset="0.4702" stop-color="#f7ad90"/><stop offset="0.5679" stop-color="#f7b599"/><stop offset="0.6351" stop-color="#f7ba9f"/><stop offset="0.6534" stop-color="#f5c4ac"/><stop offset="0.6839" stop-color="#f3c7b1"/><stop offset="0.7022" stop-color="#efcebd"/><stop offset="0.7328" stop-color="#edd1c2"/><stop offset="0.7572" stop-color="#e7d7ce"/><stop offset="0.8366" stop-color="#e3d9d3"/><stop offset="1" stop-color="#e0dbd8"/></linearGradient><clipPath id="c46"><rect x="1507.8" y="119.5" width="334.9" height="104.5"/></clipPath><clipPath id="h47"><rect x="1507.8" y="266.8" width="334.9" height="103.1"/></clipPath><linearGradient id="g48" gradientUnits="userSpaceOnUse" x1="1507.8" x2="1842.7" y1="0" y2="0"><stop offset="0" stop-color="#dddcdc"/><stop offset="0.0488" stop-color="#dbdcde"/><stop offset="0.0793" stop-color="#d4dbe6"/><stop offset="0.1709" stop-color="#d7dce3"/><stop offset="0.1953" stop-color="#e0dbd8"/><stop offset="0.3051" stop-color="#e5d8d1"/><stop offset="0.3295" stop-color="#f3c7b1"/><stop offset="0.3417" stop-color="#f6a586"/><stop offset="0.3478" stop-color="#f6a283"/><stop offset="0.3601" stop-color="#eb7d62"/><stop offset="0.3662" stop-color="#e0654f"/><stop offset="0.3967" stop-color="#d55042"/><stop offset="0.4211" stop-color="#dd5f4b"/><stop offset="0.4394" stop-color="#ef886b"/><stop offset="0.4516" stop-color="#f4987a"/><stop offset="0.5248" stop-color="#f39475"/><stop offset="0.537" stop-color="#ec7f63"/><stop offset="0.5675" stop-color="#eb7d62"/><stop offset="0.5858" stop-color="#f7a889"/><stop offset="0.5981" stop-color="#f7b396"/><stop offset="0.6103" stop-color="#f1cdba"/><stop offset="0.6652" stop-color="#e9d5cb"/><stop offset="0.6835" stop-color="#ebd3c6"/><stop offset="0.7018" stop-color="#f2cab5"/><stop offset="0.7567" stop-color="#f1cdba"/><stop offset="0.775" stop-color="#e9d5cb"/><stop offset="0.9276" stop-color="#ead5c9"/><stop offset="0.952" stop-color="#efcebd"/><stop offset="1" stop-color="#efcebd"/></linearGradient><linearGradient id="g49" gradientUnits="userSpaceOnUse" x1="1507.8" x2="1842.7" y1="0" y2="0"><stop offset="0" stop-color="#efcebd"/><stop offset="0.0427" stop-color="#efcebd"/><stop offset="0.061" stop-color="#dedcdb"/><stop offset="0.1037" stop-color="#d7dce3"/><stop offset="0.2441" stop-color="#d7dce3"/><stop offset="0.2685" stop-color="#e0dbd8"/><stop offset="0.3112" stop-color="#e4d9d2"/><stop offset="0.3356" stop-color="#e7d7ce"/><stop offset="0.3539" stop-color="#f4c6af"/><stop offset="0.3662" stop-color="#f7bca1"/><stop offset="0.3784" stop-color="#f59c7d"/><stop offset="0.4089" stop-color="#ee8468"/><stop offset="0.4882" stop-color="#ef886b"/><stop offset="0.5065" stop-color="#f39577"/><stop offset="0.5553" stop-color="#f39577"/><stop offset="0.5736" stop-color="#f7af91"/><stop offset="0.5981" stop-color="#f7b599"/><stop offset="0.6103" stop-color="#f5c4ac"/><stop offset="0.7323" stop-color="#f4c6af"/><stop offset="0.7506" stop-color="#f1cdba"/><stop offset="0.7872" stop-color="#f1cdba"/><stop offset="0.8116" stop-color="#f7ba9f"/><stop offset="0.8727" stop-color="#f7ba9f"/><stop offset="0.891" stop-color="#edd2c3"/><stop offset="0.9154" stop-color="#ead5c9"/><stop offset="0.9337" stop-color="#e2dad5"/><stop offset="1" stop-color="#e2dad5"/></linearGradient><linearGradient id="g50" gradientUnits="userSpaceOnUse" x1="1507.8" x2="1842.7" y1="0" y2="0"><stop offset="0" stop-color="#e7d7ce"/><stop offset="0.1648" stop-color="#e7d7ce"/><stop offset="0.1831" stop-color="#d1dae9"/><stop offset="0.2319" stop-color="#d3dbe7"/><stop offset="0.2563" stop-color="#dddcdc"/><stop offset="0.2807" stop-color="#e1dad6"/><stop offset="0.2929" stop-color="#efcfbf"/><stop offset="0.3112" stop-color="#f5c4ac"/><stop offset="0.3234" stop-color="#f7ba9f"/><stop offset="0.3417" stop-color="#f6bea4"/><stop offset="0.3601" stop-color="#f2cab5"/><stop offset="0.4455" stop-color="#f1cdba"/><stop offset="0.5431" stop-color="#efcebd"/><stop offset="0.5675" stop-color="#e2dad5"/><stop offset="0.6103" stop-color="#dfdbd9"/><stop offset="0.6286" stop-color="#d6dce4"/><stop offset="0.6774" stop-color="#dbdcde"/><stop offset="0.7872" stop-color="#e2dad5"/><stop offset="0.8299" stop-color="#e2dad5"/><stop offset="0.8605" stop-color="#dadce0"/><stop offset="0.9032" stop-color="#dcdddd"/><stop offset="0.952" stop-color="#e2dad5"/><stop offset="1" stop-color="#e2dad5"/></linearGradient><linearGradient id="g51" gradientUnits="userSpaceOnUse" x1="1507.8" x2="1842.7" y1="0" y2="0"><stop offset="0" stop-color="#dddcdc"/><stop offset="0.1221" stop-color="#dadce0"/><stop offset="0.1404" stop-color="#cfdaea"/><stop offset="0.2197" stop-color="#d2dbe8"/><stop offset="0.2441" stop-color="#d5dbe5"/><stop offset="0.2685" stop-color="#cad8ef"/><stop offset="0.3234" stop-color="#cedaeb"/><stop offset="0.5492" stop-color="#d6dce4"/><stop offset="0.7018" stop-color="#cfdaea"/><stop offset="0.7872" stop-color="#d6dce4"/><stop offset="0.9154" stop-color="#cbd8ee"/><stop offset="0.9337" stop-color="#bbd1f8"/><stop offset="1" stop-color="#bbd1f8"/></linearGradient><clipPath id="c52"><rect x="138.4" y="969.6" width="343.8" height="122.1"/></clipPath><clipPath id="h53"><rect x="138.4" y="1135" width="343.8" height="179.5"/></clipPath><linearGradient id="g54" gradientUnits="userSpaceOnUse" x1="138.4" x2="482.2" y1="0" y2="0"><stop offset="0" stop-color="#dddcdc"/><stop offset="0.0489" stop-color="#dfdbd9"/><stop offset="0.0672" stop-color="#e7d7ce"/><stop offset="0.2016" stop-color="#dadce0"/><stop offset="0.2382" stop-color="#dadce0"/><stop offset="0.2565" stop-color="#f0cdbb"/><stop offset="0.2688" stop-color="#f7b396"/><stop offset="0.2871" stop-color="#f6a385"/><stop offset="0.3054" stop-color="#f18f71"/><stop offset="0.3176" stop-color="#e36c55"/><stop offset="0.3298" stop-color="#de614d"/><stop offset="0.3421" stop-color="#c83836"/><stop offset="0.3482" stop-color="#b8122a"/><stop offset="0.3543" stop-color="#b40426"/><stop offset="0.4337" stop-color="#b40426"/><stop offset="0.452" stop-color="#c32e31"/><stop offset="0.5803" stop-color="#c73635"/><stop offset="0.6108" stop-color="#ca3b37"/><stop offset="0.6353" stop-color="#d1493f"/><stop offset="0.6597" stop-color="#d44e41"/><stop offset="0.6719" stop-color="#dd5f4b"/><stop offset="0.7147" stop-color="#dd5f4b"/><stop offset="0.733" stop-color="#ea7b60"/><stop offset="0.7574" stop-color="#ec8165"/><stop offset="0.7818" stop-color="#f18f71"/><stop offset="0.8674" stop-color="#f59d7e"/><stop offset="0.8857" stop-color="#f7a98b"/><stop offset="0.9101" stop-color="#f6a283"/><stop offset="0.9529" stop-color="#f6a283"/><stop offset="0.9651" stop-color="#f7b093"/><stop offset="1" stop-color="#f7b093"/></linearGradient><linearGradient id="g55" gradientUnits="userSpaceOnUse" x1="138.4" x2="482.2" y1="0" y2="0"><stop offset="0" stop-color="#dddcdc"/><stop offset="0.0305" stop-color="#d6dce4"/><stop offset="0.1283" stop-color="#cfdaea"/><stop offset="0.1832" stop-color="#c7d7f0"/><stop offset="0.2016" stop-color="#b9d0f9"/><stop offset="0.226" stop-color="#c0d4f5"/><stop offset="0.281" stop-color="#d4dbe6"/><stop offset="0.2993" stop-color="#e2dad5"/><stop offset="0.3176" stop-color="#e7d7ce"/><stop offset="0.3298" stop-color="#f2cbb7"/><stop offset="0.4031" stop-color="#edd1c2"/><stop offset="0.4215" stop-color="#e5d8d1"/><stop offset="0.4581" stop-color="#ecd3c5"/><stop offset="0.4764" stop-color="#dddcdc"/><stop offset="0.562" stop-color="#dedcdb"/><stop offset="0.5803" stop-color="#ecd3c5"/><stop offset="0.6169" stop-color="#e8d6cc"/><stop offset="0.6597" stop-color="#e7d7ce"/><stop offset="0.6841" stop-color="#eed0c0"/><stop offset="0.7086" stop-color="#ecd3c5"/><stop offset="0.7269" stop-color="#e2dad5"/><stop offset="0.7513" stop-color="#dcdddd"/><stop offset="0.8368" stop-color="#d3dbe7"/><stop offset="0.8979" stop-color="#d4dbe6"/><stop offset="1" stop-color="#d7dce3"/></linearGradient><linearGradient id="g56" gradientUnits="userSpaceOnUse" x1="138.4" x2="482.2" y1="0" y2="0"><stop offset="0" stop-color="#d9dce1"/><stop offset="0.2382" stop-color="#d9dce1"/><stop offset="0.2565" stop-color="#efcebd"/><stop offset="0.2627" stop-color="#f5c0a7"/><stop offset="0.2749" stop-color="#ef886b"/><stop offset="0.281" stop-color="#e9785d"/><stop offset="0.2993" stop-color="#c32e31"/><stop offset="0.3054" stop-color="#b50927"/><stop offset="0.4276" stop-color="#b40426"/><stop offset="0.4337" stop-color="#c12b30"/><stop offset="0.4459" stop-color="#d85646"/><stop offset="0.4642" stop-color="#e57058"/><stop offset="0.4764" stop-color="#e9785d"/><stop offset="0.4887" stop-color="#f18d6f"/><stop offset="0.507" stop-color="#f18f71"/><stop offset="0.5253" stop-color="#f7b396"/><stop offset="0.5436" stop-color="#f7b599"/><stop offset="0.562" stop-color="#f1ccb8"/><stop offset="0.5864" stop-color="#efcfbf"/><stop offset="0.6047" stop-color="#e5d8d1"/><stop offset="0.6475" stop-color="#e2dad5"/><stop offset="0.6658" stop-color="#d7dce3"/><stop offset="0.7147" stop-color="#d7dce3"/><stop offset="0.733" stop-color="#bad0f8"/><stop offset="0.7818" stop-color="#b5cdfa"/><stop offset="0.8002" stop-color="#aac7fd"/><stop offset="0.8796" stop-color="#a6c4fe"/><stop offset="0.9101" stop-color="#9bbcff"/><stop offset="1" stop-color="#a3c2fe"/></linearGradient><linearGradient id="g57" gradientUnits="userSpaceOnUse" x1="138.4" x2="482.2" y1="0" y2="0"><stop offset="0" stop-color="#dadce0"/><stop offset="0.0733" stop-color="#dcdddd"/><stop offset="0.1038" stop-color="#ecd3c5"/><stop offset="0.1222" stop-color="#e8d6cc"/><stop offset="0.1405" stop-color="#dadce0"/><stop offset="0.2382" stop-color="#dadce0"/><stop offset="0.2504" stop-color="#edd2c3"/><stop offset="0.2565" stop-color="#f4c6af"/><stop offset="0.281" stop-color="#f5c0a7"/><stop offset="0.2932" stop-color="#f7b194"/><stop offset="0.2993" stop-color="#f7b093"/><stop offset="0.3054" stop-color="#f6a385"/><stop offset="0.3176" stop-color="#e46e56"/><stop offset="0.3237" stop-color="#dd5f4b"/><stop offset="0.3298" stop-color="#cd423b"/><stop offset="0.336" stop-color="#ba162b"/><stop offset="0.3421" stop-color="#b40426"/><stop offset="0.4031" stop-color="#b40426"/><stop offset="0.4154" stop-color="#d1493f"/><stop offset="0.4215" stop-color="#dd5f4b"/><stop offset="0.4337" stop-color="#dd5f4b"/><stop offset="0.452" stop-color="#ea7b60"/><stop offset="0.4825" stop-color="#ea7b60"/><stop offset="0.5009" stop-color="#f39577"/><stop offset="0.5436" stop-color="#f39577"/><stop offset="0.562" stop-color="#f7af91"/><stop offset="0.5803" stop-color="#f7b093"/><stop offset="0.5986" stop-color="#f0cdbb"/><stop offset="0.6108" stop-color="#ead4c8"/><stop offset="0.623" stop-color="#d6dce4"/><stop offset="0.7147" stop-color="#cfdaea"/><stop offset="0.8918" stop-color="#cdd9ec"/><stop offset="0.9284" stop-color="#bfd3f6"/><stop offset="0.9407" stop-color="#abc8fd"/><stop offset="1" stop-color="#aac7fd"/></linearGradient><linearGradient id="g58" gradientUnits="userSpaceOnUse" x1="138.4" x2="482.2" y1="0" y2="0"><stop offset="0" stop-color="#e0dbd8"/><stop offset="0.055" stop-color="#dcdddd"/><stop offset="0.2016" stop-color="#d7dce3"/><stop offset="0.2443" stop-color="#dddcdc"/><stop offset="0.2688" stop-color="#eed0c0"/><stop offset="0.281" stop-color="#f7ba9f"/><stop offset="0.2932" stop-color="#f7b093"/><stop offset="0.3054" stop-color="#f39475"/><stop offset="0.3176" stop-color="#ee8669"/><stop offset="0.3298" stop-color="#dd5f4b"/><stop offset="0.3421" stop-color="#d65244"/><stop offset="0.3543" stop-color="#c43032"/><stop offset="0.3787" stop-color="#c32e31"/><stop offset="0.397" stop-color="#d75445"/><stop offset="0.4581" stop-color="#da5a49"/><stop offset="0.4825" stop-color="#e57058"/><stop offset="0.507" stop-color="#da5a49"/><stop offset="0.5436" stop-color="#de614d"/><stop offset="0.5742" stop-color="#e36c55"/><stop offset="0.5864" stop-color="#ee8669"/><stop offset="0.5986" stop-color="#f29274"/><stop offset="0.6108" stop-color="#f7af91"/><stop offset="0.6475" stop-color="#f7b599"/><stop offset="0.6597" stop-color="#f5c4ac"/><stop offset="0.6841" stop-color="#f3c7b1"/><stop offset="0.7269" stop-color="#e2dad5"/><stop offset="0.7818" stop-color="#e0dbd8"/><stop offset="0.8185" stop-color="#d9dce1"/><stop offset="1" stop-color="#d4dbe6"/></linearGradient><linearGradient id="g59" gradientUnits="userSpaceOnUse" x1="138.4" x2="482.2" y1="0" y2="0"><stop offset="0" stop-color="#efcebd"/><stop offset="0.0183" stop-color="#efcebd"/><stop offset="0.0366" stop-color="#dedcdb"/><stop offset="0.0672" stop-color="#ccd9ed"/><stop offset="0.1222" stop-color="#cedaeb"/><stop offset="0.1466" stop-color="#d7dce3"/><stop offset="0.2321" stop-color="#dfdbd9"/><stop offset="0.2443" stop-color="#e5d8d1"/><stop offset="0.2565" stop-color="#f4c6af"/><stop offset="0.2749" stop-color="#f7b99e"/><stop offset="0.2871" stop-color="#f7b093"/><stop offset="0.3237" stop-color="#f7aa8c"/><stop offset="0.3543" stop-color="#f6a283"/><stop offset="0.3726" stop-color="#f29274"/><stop offset="0.3848" stop-color="#f29274"/><stop offset="0.4031" stop-color="#e36c55"/><stop offset="0.4337" stop-color="#e36b54"/><stop offset="0.452" stop-color="#f49a7b"/><stop offset="0.4703" stop-color="#f7af91"/><stop offset="0.4764" stop-color="#f7b99e"/><stop offset="0.562" stop-color="#f7b79b"/><stop offset="0.5803" stop-color="#f7a98b"/><stop offset="0.6291" stop-color="#f7ad90"/><stop offset="0.7391" stop-color="#f7ac8e"/><stop offset="0.7818" stop-color="#f7a688"/><stop offset="0.8002" stop-color="#f4987a"/><stop offset="0.8551" stop-color="#f59d7e"/><stop offset="0.8735" stop-color="#f7a98b"/><stop offset="0.8979" stop-color="#f7a98b"/><stop offset="0.9162" stop-color="#f5c2aa"/><stop offset="0.9407" stop-color="#f3c8b2"/><stop offset="0.9529" stop-color="#ecd3c5"/><stop offset="1" stop-color="#ecd3c5"/></linearGradient><linearGradient id="g60" gradientUnits="userSpaceOnUse" x1="138.4" x2="482.2" y1="0" y2="0"><stop offset="0" stop-color="#dddcdc"/><stop offset="0.0672" stop-color="#e1dad6"/><stop offset="0.0855" stop-color="#e2dad5"/><stop offset="0.1038" stop-color="#d7dce3"/><stop offset="0.2138" stop-color="#d7dce3"/><stop offset="0.2382" stop-color="#ecd3c5"/><stop offset="0.2565" stop-color="#f4c5ad"/><stop offset="0.2749" stop-color="#f39577"/><stop offset="0.2871" stop-color="#d1493f"/><stop offset="0.2932" stop-color="#c53334"/><stop offset="0.2993" stop-color="#b8122a"/><stop offset="0.3054" stop-color="#b40426"/><stop offset="0.562" stop-color="#b40426"/><stop offset="0.5681" stop-color="#b8122a"/><stop offset="0.5803" stop-color="#cd423b"/><stop offset="0.5925" stop-color="#d55042"/><stop offset="0.6047" stop-color="#e46e56"/><stop offset="0.6475" stop-color="#f29072"/><stop offset="0.6597" stop-color="#f7a889"/><stop offset="0.6902" stop-color="#f6bea4"/><stop offset="0.7208" stop-color="#f5c1a9"/><stop offset="0.733" stop-color="#f2c9b4"/><stop offset="0.7391" stop-color="#f4c6af"/><stop offset="0.7513" stop-color="#f7af91"/><stop offset="0.7757" stop-color="#f7a98b"/><stop offset="0.7941" stop-color="#f5c4ac"/><stop offset="0.8063" stop-color="#f7b396"/><stop offset="0.8674" stop-color="#f7bca1"/><stop offset="0.8796" stop-color="#f2c9b4"/><stop offset="0.904" stop-color="#f7b89c"/><stop offset="0.9529" stop-color="#f7a98b"/><stop offset="0.959" stop-color="#f7b396"/><stop offset="0.9712" stop-color="#ecd3c5"/><stop offset="0.9834" stop-color="#e7d7ce"/><stop offset="1" stop-color="#e7d7ce"/></linearGradient><clipPath id="c61"><rect x="522.2" y="969.6" width="343.8" height="122.1"/></clipPath><clipPath id="h62"><rect x="522.2" y="1135" width="343.8" height="179.5"/></clipPath><linearGradient id="g63" gradientUnits="userSpaceOnUse" x1="522.2" x2="866" y1="0" y2="0"><stop offset="0" stop-color="#dddcdc"/><stop offset="0.0612" stop-color="#e0dbd8"/><stop offset="0.0795" stop-color="#e9d5cb"/><stop offset="0.104" stop-color="#e2dad5"/><stop offset="0.1407" stop-color="#d2dbe8"/><stop offset="0.1773" stop-color="#ccd9ed"/><stop offset="0.2385" stop-color="#c7d7f0"/><stop offset="0.2568" stop-color="#e1dad6"/><stop offset="0.2752" stop-color="#e7d7ce"/><stop offset="0.2874" stop-color="#efcebd"/><stop offset="0.2935" stop-color="#efcebd"/><stop offset="0.3119" stop-color="#f7a98b"/><stop offset="0.318" stop-color="#f7a98b"/><stop offset="0.3486" stop-color="#e57058"/><stop offset="0.3547" stop-color="#de614d"/><stop offset="0.3853" stop-color="#dd5f4b"/><stop offset="0.4036" stop-color="#e9785d"/><stop offset="0.4464" stop-color="#ef886b"/><stop offset="0.5198" stop-color="#ee8468"/><stop offset="0.5382" stop-color="#f5a081"/><stop offset="0.636" stop-color="#f7b093"/><stop offset="0.6666" stop-color="#f6bea4"/><stop offset="0.7461" stop-color="#f5c4ac"/><stop offset="0.7705" stop-color="#f3c8b2"/><stop offset="0.7828" stop-color="#ecd3c5"/><stop offset="0.8562" stop-color="#ead4c8"/><stop offset="0.8806" stop-color="#e5d8d1"/><stop offset="1" stop-color="#e2dad5"/></linearGradient><linearGradient id="g64" gradientUnits="userSpaceOnUse" x1="522.2" x2="866" y1="0" y2="0"><stop offset="0" stop-color="#dddcdc"/><stop offset="0.0734" stop-color="#d4dbe6"/><stop offset="0.104" stop-color="#dadce0"/><stop offset="0.1468" stop-color="#dfdbd9"/><stop offset="0.263" stop-color="#e2dad5"/><stop offset="0.2874" stop-color="#efcebd"/><stop offset="0.3119" stop-color="#efcebd"/><stop offset="0.3302" stop-color="#f7b99e"/><stop offset="0.3669" stop-color="#f7b497"/><stop offset="0.3914" stop-color="#f7a98b"/><stop offset="0.5259" stop-color="#f7ad90"/><stop offset="0.5443" stop-color="#f6a283"/><stop offset="0.6421" stop-color="#f7b093"/><stop offset="0.6972" stop-color="#f7b396"/><stop offset="0.74" stop-color="#f4987a"/><stop offset="0.7583" stop-color="#f7b093"/><stop offset="0.7828" stop-color="#f7ad90"/><stop offset="0.8011" stop-color="#f6a283"/><stop offset="0.8501" stop-color="#f7a688"/><stop offset="0.8929" stop-color="#f6a586"/><stop offset="0.9051" stop-color="#f39778"/><stop offset="0.9296" stop-color="#f7a98b"/><stop offset="0.9601" stop-color="#f7b093"/><stop offset="1" stop-color="#f7b599"/></linearGradient><linearGradient id="g65" gradientUnits="userSpaceOnUse" x1="522.2" x2="866" y1="0" y2="0"><stop offset="0" stop-color="#cfdaea"/><stop offset="0.0978" stop-color="#d3dbe7"/><stop offset="0.1223" stop-color="#dddcdc"/><stop offset="0.1712" stop-color="#dadce0"/><stop offset="0.2385" stop-color="#d4dbe6"/><stop offset="0.263" stop-color="#dddcdc"/><stop offset="0.2874" stop-color="#f7bca1"/><stop offset="0.2997" stop-color="#f6a283"/><stop offset="0.318" stop-color="#f59d7e"/><stop offset="0.3425" stop-color="#f29072"/><stop offset="0.3792" stop-color="#ee8468"/><stop offset="0.3975" stop-color="#f6a283"/><stop offset="0.422" stop-color="#f7b093"/><stop offset="0.4954" stop-color="#f7ba9f"/><stop offset="0.5504" stop-color="#edd2c3"/><stop offset="0.5626" stop-color="#e2dad5"/><stop offset="0.7339" stop-color="#dddcdc"/><stop offset="0.7583" stop-color="#d9dce1"/><stop offset="0.7828" stop-color="#cfdaea"/><stop offset="0.8317" stop-color="#d3dbe7"/><stop offset="0.8562" stop-color="#dddcdc"/><stop offset="0.9601" stop-color="#dddcdc"/><stop offset="0.9846" stop-color="#c7d7f0"/><stop offset="1" stop-color="#c7d7f0"/></linearGradient><linearGradient id="g66" gradientUnits="userSpaceOnUse" x1="522.2" x2="866" y1="0" y2="0"><stop offset="0" stop-color="#e2dad5"/><stop offset="0.1712" stop-color="#dadce0"/><stop offset="0.2018" stop-color="#d2dbe8"/><stop offset="0.2507" stop-color="#d8dce2"/><stop offset="0.2691" stop-color="#e4d9d2"/><stop offset="0.2813" stop-color="#f4c6af"/><stop offset="0.3119" stop-color="#f3c8b2"/><stop offset="0.3608" stop-color="#f3c7b1"/><stop offset="0.3975" stop-color="#f5c4ac"/><stop offset="0.4159" stop-color="#f7aa8c"/><stop offset="0.4831" stop-color="#f7b599"/><stop offset="0.5198" stop-color="#f7b89c"/><stop offset="0.5382" stop-color="#f6a283"/><stop offset="0.5504" stop-color="#f6a283"/><stop offset="0.5687" stop-color="#f7b89c"/><stop offset="0.7216" stop-color="#f7b99e"/><stop offset="0.8501" stop-color="#f5c4ac"/><stop offset="1" stop-color="#f5c4ac"/></linearGradient><linearGradient id="g67" gradientUnits="userSpaceOnUse" x1="522.2" x2="866" y1="0" y2="0"><stop offset="0" stop-color="#d9dce1"/><stop offset="0.0795" stop-color="#d4dbe6"/><stop offset="0.1223" stop-color="#d3dbe7"/><stop offset="0.1468" stop-color="#dddcdc"/><stop offset="0.2691" stop-color="#dfdbd9"/><stop offset="0.2997" stop-color="#e5d8d1"/><stop offset="0.318" stop-color="#f4c5ad"/><stop offset="0.3547" stop-color="#f6bea4"/><stop offset="0.3669" stop-color="#f7ac8e"/><stop offset="0.373" stop-color="#f59d7e"/><stop offset="0.3975" stop-color="#f59c7d"/><stop offset="0.4159" stop-color="#f7a98b"/><stop offset="0.5137" stop-color="#f7ba9f"/><stop offset="0.74" stop-color="#f3c8b2"/><stop offset="0.8072" stop-color="#f3c8b2"/><stop offset="0.8439" stop-color="#f5c1a9"/><stop offset="0.8745" stop-color="#efcebd"/><stop offset="0.9051" stop-color="#edd1c2"/><stop offset="0.9296" stop-color="#e7d7ce"/><stop offset="1" stop-color="#e7d7ce"/></linearGradient><linearGradient id="g68" gradientUnits="userSpaceOnUse" x1="522.2" x2="866" y1="0" y2="0"><stop offset="0" stop-color="#dadce0"/><stop offset="0.1223" stop-color="#d6dce4"/><stop offset="0.1712" stop-color="#dddcdc"/><stop offset="0.2202" stop-color="#d9dce1"/><stop offset="0.2446" stop-color="#cfdaea"/><stop offset="0.2813" stop-color="#d6dce4"/><stop offset="0.2997" stop-color="#e2dad5"/><stop offset="0.3669" stop-color="#ecd3c5"/><stop offset="0.3792" stop-color="#f2cab5"/><stop offset="0.3975" stop-color="#f2cab5"/><stop offset="0.4159" stop-color="#f7aa8c"/><stop offset="0.4403" stop-color="#f6a586"/><stop offset="0.4587" stop-color="#f39577"/><stop offset="0.4831" stop-color="#f59d7e"/><stop offset="0.5198" stop-color="#f7b599"/><stop offset="0.636" stop-color="#f6bda2"/><stop offset="0.6544" stop-color="#f5c4ac"/><stop offset="0.6727" stop-color="#f7b194"/><stop offset="0.6972" stop-color="#f7b599"/><stop offset="0.7094" stop-color="#f5c4ac"/><stop offset="0.7828" stop-color="#f1ccb8"/><stop offset="0.8011" stop-color="#ecd3c5"/><stop offset="0.8501" stop-color="#e9d5cb"/><stop offset="0.9112" stop-color="#e7d7ce"/><stop offset="0.9296" stop-color="#f4c5ad"/><stop offset="0.9724" stop-color="#f5c4ac"/><stop offset="0.9907" stop-color="#ecd3c5"/><stop offset="1" stop-color="#ecd3c5"/></linearGradient><linearGradient id="g69" gradientUnits="userSpaceOnUse" x1="522.2" x2="866" y1="0" y2="0"><stop offset="0" stop-color="#dddcdc"/><stop offset="0.0245" stop-color="#d9dce1"/><stop offset="0.0673" stop-color="#bfd3f6"/><stop offset="0.0978" stop-color="#c4d5f3"/><stop offset="0.1284" stop-color="#dfdbd9"/><stop offset="0.1529" stop-color="#f1cdba"/><stop offset="0.159" stop-color="#f4c5ad"/><stop offset="0.2263" stop-color="#f5c4ac"/><stop offset="0.263" stop-color="#e7d7ce"/><stop offset="0.2997" stop-color="#eed0c0"/><stop offset="0.3547" stop-color="#f2cab5"/><stop offset="0.4097" stop-color="#f5c4ac"/><stop offset="0.4281" stop-color="#ecd3c5"/><stop offset="0.4525" stop-color="#e9d5cb"/><stop offset="0.4648" stop-color="#dddcdc"/><stop offset="0.5749" stop-color="#dfdbd9"/><stop offset="0.6054" stop-color="#e5d8d1"/><stop offset="0.6238" stop-color="#d1dae9"/><stop offset="0.6727" stop-color="#d3dbe7"/><stop offset="0.6972" stop-color="#e2dad5"/><stop offset="0.7094" stop-color="#efcfbf"/><stop offset="0.7277" stop-color="#efcebd"/><stop offset="0.7461" stop-color="#f7b99e"/><stop offset="0.795" stop-color="#f7b093"/><stop offset="0.8011" stop-color="#f7af91"/><stop offset="0.8195" stop-color="#f2c9b4"/><stop offset="0.8317" stop-color="#efcfbf"/><stop offset="0.8439" stop-color="#e0dbd8"/><stop offset="0.8929" stop-color="#dbdcde"/><stop offset="0.9357" stop-color="#bfd3f6"/><stop offset="1" stop-color="#bfd3f6"/></linearGradient><clipPath id="c70"><rect x="1160.5" y="958" width="333.7" height="91.6"/></clipPath><clipPath id="h71"><rect x="1160.5" y="1091" width="333.7" height="60"/></clipPath><linearGradient id="g72" gradientUnits="userSpaceOnUse" x1="1160.5" x2="1494.2" y1="0" y2="0"><stop offset="0" stop-color="#e0dbd8"/><stop offset="0.061" stop-color="#e6d7cf"/><stop offset="0.0976" stop-color="#e0dbd8"/><stop offset="0.1464" stop-color="#d7dce3"/><stop offset="0.2317" stop-color="#dbdcde"/><stop offset="0.2622" stop-color="#ecd3c5"/><stop offset="0.3232" stop-color="#f3c7b1"/><stop offset="0.3415" stop-color="#f7a98b"/><stop offset="0.3537" stop-color="#f59f80"/><stop offset="0.372" stop-color="#f29072"/><stop offset="0.4086" stop-color="#ee8468"/><stop offset="0.4269" stop-color="#e36c55"/><stop offset="0.4574" stop-color="#e46e56"/><stop offset="0.4696" stop-color="#f08a6c"/><stop offset="0.5062" stop-color="#f4987a"/><stop offset="0.5184" stop-color="#ee8669"/><stop offset="0.5306" stop-color="#e7745b"/><stop offset="0.5488" stop-color="#ea7b60"/><stop offset="0.561" stop-color="#f39577"/><stop offset="0.5793" stop-color="#f7a98b"/><stop offset="0.5976" stop-color="#f7b599"/><stop offset="0.6586" stop-color="#f7b599"/><stop offset="0.7013" stop-color="#f39577"/><stop offset="0.7196" stop-color="#f4987a"/><stop offset="0.7379" stop-color="#f7a98b"/><stop offset="0.7867" stop-color="#f7b599"/><stop offset="0.8416" stop-color="#f7b194"/><stop offset="0.9086" stop-color="#f5c1a9"/><stop offset="0.9452" stop-color="#f6bda2"/><stop offset="1" stop-color="#f7b89c"/></linearGradient><linearGradient id="g73" gradientUnits="userSpaceOnUse" x1="1160.5" x2="1494.2" y1="0" y2="0"><stop offset="0" stop-color="#ccd9ed"/><stop offset="0.0305" stop-color="#cedaeb"/><stop offset="0.0488" stop-color="#e7d7ce"/><stop offset="0.1037" stop-color="#eed0c0"/><stop offset="0.1159" stop-color="#f4c5ad"/><stop offset="0.1281" stop-color="#f2c9b4"/><stop offset="0.1525" stop-color="#d9dce1"/><stop offset="0.1647" stop-color="#c7d7f0"/><stop offset="0.1829" stop-color="#cbd8ee"/><stop offset="0.2134" stop-color="#e1dad6"/><stop offset="0.2378" stop-color="#e7d7ce"/><stop offset="0.2561" stop-color="#ebd3c6"/><stop offset="0.2744" stop-color="#f7b396"/><stop offset="0.2988" stop-color="#f6a283"/><stop offset="0.3293" stop-color="#f7b093"/><stop offset="0.3842" stop-color="#f6bea4"/><stop offset="0.4147" stop-color="#f3c8b2"/><stop offset="0.4452" stop-color="#dcdddd"/><stop offset="0.4574" stop-color="#cfdaea"/><stop offset="0.4818" stop-color="#d6dce4"/><stop offset="0.5184" stop-color="#e9d5cb"/><stop offset="0.5366" stop-color="#ebd3c6"/><stop offset="0.5549" stop-color="#f2cab5"/><stop offset="0.6098" stop-color="#f5c0a7"/><stop offset="0.6281" stop-color="#f6a586"/><stop offset="0.6342" stop-color="#f39577"/><stop offset="0.6647" stop-color="#f29072"/><stop offset="0.6708" stop-color="#f49a7b"/><stop offset="0.683" stop-color="#f6bfa6"/><stop offset="0.6952" stop-color="#f3c8b2"/><stop offset="0.7074" stop-color="#e8d6cc"/><stop offset="0.7318" stop-color="#dadce0"/><stop offset="0.7501" stop-color="#d2dbe8"/><stop offset="0.7623" stop-color="#e0dbd8"/><stop offset="0.7867" stop-color="#f3c7b1"/><stop offset="0.7928" stop-color="#f7bca1"/><stop offset="0.8294" stop-color="#f7ba9f"/><stop offset="0.8538" stop-color="#f5c4ac"/><stop offset="0.8964" stop-color="#f1cdba"/><stop offset="0.9269" stop-color="#f4c5ad"/><stop offset="0.9513" stop-color="#f2cab5"/><stop offset="0.9574" stop-color="#f3c7b1"/><stop offset="0.9696" stop-color="#f7aa8c"/><stop offset="0.9818" stop-color="#f6a283"/><stop offset="1" stop-color="#f6a283"/></linearGradient><clipPath id="c74"><rect x="1532.8" y="958" width="333.4" height="91.6"/></clipPath><clipPath id="h75"><rect x="1532.8" y="1091" width="333.4" height="60"/></clipPath><linearGradient id="g76" gradientUnits="userSpaceOnUse" x1="1532.8" x2="1866.2" y1="0" y2="0"><stop offset="0" stop-color="#dadce0"/><stop offset="0.0793" stop-color="#dddcdc"/><stop offset="0.1465" stop-color="#dedcdb"/><stop offset="0.2014" stop-color="#d1dae9"/><stop offset="0.238" stop-color="#cad8ef"/><stop offset="0.2625" stop-color="#e2dad5"/><stop offset="0.2747" stop-color="#f1cdba"/><stop offset="0.2808" stop-color="#f5c0a7"/><stop offset="0.2991" stop-color="#f7b396"/><stop offset="0.3113" stop-color="#f7a98b"/><stop offset="0.3418" stop-color="#f29274"/><stop offset="0.354" stop-color="#e9785d"/><stop offset="0.3723" stop-color="#e57058"/><stop offset="0.3845" stop-color="#d95847"/><stop offset="0.3906" stop-color="#da5a49"/><stop offset="0.4151" stop-color="#f29274"/><stop offset="0.4212" stop-color="#f6a283"/><stop offset="0.4395" stop-color="#f7b79b"/><stop offset="0.4578" stop-color="#f5c2aa"/><stop offset="0.47" stop-color="#f2cab5"/><stop offset="0.4944" stop-color="#efcfbf"/><stop offset="0.531" stop-color="#ecd3c5"/><stop offset="0.6409" stop-color="#e5d8d1"/><stop offset="0.6897" stop-color="#dcdddd"/><stop offset="0.7325" stop-color="#cad8ef"/><stop offset="0.94" stop-color="#bed2f6"/><stop offset="0.9766" stop-color="#b5cdfa"/><stop offset="1" stop-color="#b5cdfa"/></linearGradient><linearGradient id="g77" gradientUnits="userSpaceOnUse" x1="1532.8" x2="1866.2" y1="0" y2="0"><stop offset="0" stop-color="#d6dce4"/><stop offset="0.1648" stop-color="#e2dad5"/><stop offset="0.1892" stop-color="#d2dbe8"/><stop offset="0.2442" stop-color="#d8dce2"/><stop offset="0.2686" stop-color="#e8d6cc"/><stop offset="0.2869" stop-color="#f7b99e"/><stop offset="0.3052" stop-color="#ed8366"/><stop offset="0.3113" stop-color="#e36c55"/><stop offset="0.3296" stop-color="#e0654f"/><stop offset="0.354" stop-color="#e36b54"/><stop offset="0.3662" stop-color="#eb7d62"/><stop offset="0.3845" stop-color="#eb7d62"/><stop offset="0.409" stop-color="#f7b194"/><stop offset="0.4395" stop-color="#e9d5cb"/><stop offset="0.47" stop-color="#d8dce2"/><stop offset="0.5432" stop-color="#d7dce3"/><stop offset="0.5921" stop-color="#e2dad5"/><stop offset="0.6897" stop-color="#dcdddd"/><stop offset="0.8362" stop-color="#cad8ef"/><stop offset="0.9156" stop-color="#c9d7f0"/><stop offset="0.94" stop-color="#d2dbe8"/><stop offset="1" stop-color="#d2dbe8"/></linearGradient><clipPath id="c78"><rect x="141.6" y="1471.3" width="331.7" height="129"/></clipPath><clipPath id="h79"><rect x="141.6" y="1644.8" width="331.7" height="225.7"/></clipPath><linearGradient id="g80" gradientUnits="userSpaceOnUse" x1="141.6" x2="473.3" y1="0" y2="0"><stop offset="0" stop-color="#d4dbe6"/><stop offset="0.1038" stop-color="#d7dce3"/><stop offset="0.2259" stop-color="#dddcdc"/><stop offset="0.2686" stop-color="#e7d7ce"/><stop offset="0.3236" stop-color="#ecd3c5"/><stop offset="0.3541" stop-color="#f6bea4"/><stop offset="0.3663" stop-color="#f6a586"/><stop offset="0.3785" stop-color="#f59c7d"/><stop offset="0.4029" stop-color="#e16751"/><stop offset="0.409" stop-color="#d65244"/><stop offset="0.4212" stop-color="#d1493f"/><stop offset="0.4518" stop-color="#d44e41"/><stop offset="0.464" stop-color="#dd5f4b"/><stop offset="0.5067" stop-color="#da5a49"/><stop offset="0.5372" stop-color="#d55042"/><stop offset="0.5555" stop-color="#ca3b37"/><stop offset="0.5983" stop-color="#c73635"/><stop offset="0.6105" stop-color="#ba162b"/><stop offset="0.641" stop-color="#b8122a"/><stop offset="0.6593" stop-color="#c83836"/><stop offset="0.6899" stop-color="#ca3b37"/><stop offset="0.7143" stop-color="#d75445"/><stop offset="0.7692" stop-color="#dd5f4b"/><stop offset="0.8181" stop-color="#e36b54"/><stop offset="0.8364" stop-color="#e8765c"/><stop offset="0.8791" stop-color="#ee8468"/><stop offset="0.9096" stop-color="#f08a6c"/><stop offset="0.9524" stop-color="#f08b6e"/><stop offset="0.9707" stop-color="#e9785d"/><stop offset="1" stop-color="#e9785d"/></linearGradient><linearGradient id="g81" gradientUnits="userSpaceOnUse" x1="141.6" x2="473.3" y1="0" y2="0"><stop offset="0" stop-color="#e0dbd8"/><stop offset="0.1099" stop-color="#dadce0"/><stop offset="0.2442" stop-color="#dedcdb"/><stop offset="0.2625" stop-color="#ecd3c5"/><stop offset="0.3297" stop-color="#f1cdba"/><stop offset="0.4273" stop-color="#f2cab5"/><stop offset="0.4457" stop-color="#f6bea4"/><stop offset="0.4823" stop-color="#f7b99e"/><stop offset="0.5494" stop-color="#f7b396"/><stop offset="0.5739" stop-color="#f7a98b"/><stop offset="0.6288" stop-color="#f7b093"/><stop offset="0.6532" stop-color="#f4987a"/><stop offset="0.6715" stop-color="#f39475"/><stop offset="0.6838" stop-color="#ea7b60"/><stop offset="0.7204" stop-color="#e9785d"/><stop offset="0.7387" stop-color="#f5a081"/><stop offset="0.7631" stop-color="#f7aa8c"/><stop offset="0.7814" stop-color="#f7b093"/><stop offset="0.8058" stop-color="#f7b497"/><stop offset="0.8303" stop-color="#f6bea4"/><stop offset="0.8669" stop-color="#f7ba9f"/><stop offset="0.8852" stop-color="#f7a98b"/><stop offset="0.9157" stop-color="#f7ac8e"/><stop offset="0.9341" stop-color="#f7b89c"/><stop offset="0.9585" stop-color="#f6bfa6"/><stop offset="0.9951" stop-color="#f5c4ac"/><stop offset="1" stop-color="#f5c4ac"/></linearGradient><linearGradient id="g82" gradientUnits="userSpaceOnUse" x1="141.6" x2="473.3" y1="0" y2="0"><stop offset="0" stop-color="#d7dce3"/><stop offset="0.1282" stop-color="#dadce0"/><stop offset="0.2442" stop-color="#dfdbd9"/><stop offset="0.2686" stop-color="#e7d7ce"/><stop offset="0.3052" stop-color="#efcebd"/><stop offset="0.3236" stop-color="#f4c6af"/><stop offset="0.348" stop-color="#f7bca1"/><stop offset="0.3663" stop-color="#f7a98b"/><stop offset="0.3846" stop-color="#f7a688"/><stop offset="0.4029" stop-color="#f29072"/><stop offset="0.4884" stop-color="#f29072"/><stop offset="0.5067" stop-color="#f6a283"/><stop offset="0.58" stop-color="#f4987a"/><stop offset="0.6044" stop-color="#f7a98b"/><stop offset="0.6288" stop-color="#f5a081"/><stop offset="0.6593" stop-color="#f4987a"/><stop offset="0.7265" stop-color="#f6a385"/><stop offset="0.8303" stop-color="#f7b093"/><stop offset="0.8669" stop-color="#f6bea4"/><stop offset="0.8974" stop-color="#f6bea4"/><stop offset="0.9157" stop-color="#e0dbd8"/><stop offset="1" stop-color="#dddcdc"/></linearGradient><linearGradient id="g83" gradientUnits="userSpaceOnUse" x1="141.6" x2="473.3" y1="0" y2="0"><stop offset="0" stop-color="#d9dce1"/><stop offset="0.2442" stop-color="#dcdddd"/><stop offset="0.2625" stop-color="#e7d7ce"/><stop offset="0.3236" stop-color="#ead5c9"/><stop offset="0.3602" stop-color="#edd1c2"/><stop offset="0.3785" stop-color="#f2cab5"/><stop offset="0.3907" stop-color="#f2cab5"/><stop offset="0.3968" stop-color="#f5c4ac"/><stop offset="0.409" stop-color="#f39475"/><stop offset="0.4334" stop-color="#e46e56"/><stop offset="0.4518" stop-color="#d85646"/><stop offset="0.4579" stop-color="#d1493f"/><stop offset="0.4701" stop-color="#d55042"/><stop offset="0.4823" stop-color="#e46e56"/><stop offset="0.4945" stop-color="#ea7b60"/><stop offset="0.5067" stop-color="#f6a283"/><stop offset="0.5189" stop-color="#f7a98b"/><stop offset="0.5494" stop-color="#f7ac8e"/><stop offset="0.5678" stop-color="#f7b599"/><stop offset="0.5922" stop-color="#f4987a"/><stop offset="0.6288" stop-color="#f4987a"/><stop offset="0.6532" stop-color="#f7b093"/><stop offset="0.7143" stop-color="#f7ba9f"/><stop offset="0.7326" stop-color="#f7b79b"/><stop offset="0.7509" stop-color="#f7a98b"/><stop offset="0.7936" stop-color="#f7a688"/><stop offset="0.812" stop-color="#f4987a"/><stop offset="0.8364" stop-color="#f4987a"/><stop offset="0.8547" stop-color="#f7b396"/><stop offset="0.8852" stop-color="#f7b599"/><stop offset="0.8974" stop-color="#f59d7e"/><stop offset="0.9035" stop-color="#f08b6e"/><stop offset="0.9279" stop-color="#f08b6e"/><stop offset="0.9463" stop-color="#f4987a"/><stop offset="1" stop-color="#f6a283"/></linearGradient><linearGradient id="g84" gradientUnits="userSpaceOnUse" x1="141.6" x2="473.3" y1="0" y2="0"><stop offset="0" stop-color="#d7dce3"/><stop offset="0.1038" stop-color="#d3dbe7"/><stop offset="0.1954" stop-color="#d2dbe8"/><stop offset="0.2381" stop-color="#dadce0"/><stop offset="0.2564" stop-color="#eed0c0"/><stop offset="0.2686" stop-color="#edd2c3"/><stop offset="0.2808" stop-color="#e0dbd8"/><stop offset="0.3175" stop-color="#dcdddd"/><stop offset="0.3419" stop-color="#d2dbe8"/><stop offset="0.3907" stop-color="#d7dce3"/><stop offset="0.409" stop-color="#e9d5cb"/><stop offset="0.4762" stop-color="#ead4c8"/><stop offset="0.5067" stop-color="#efcebd"/><stop offset="0.6227" stop-color="#e8d6cc"/><stop offset="0.641" stop-color="#ecd3c5"/><stop offset="0.6715" stop-color="#efcebd"/><stop offset="0.7692" stop-color="#edd1c2"/><stop offset="0.7875" stop-color="#e5d8d1"/><stop offset="0.8669" stop-color="#dfdbd9"/><stop offset="1" stop-color="#d2dbe8"/></linearGradient><linearGradient id="g85" gradientUnits="userSpaceOnUse" x1="141.6" x2="473.3" y1="0" y2="0"><stop offset="0" stop-color="#d9dce1"/><stop offset="0.0977" stop-color="#d7dce3"/><stop offset="0.1221" stop-color="#ccd9ed"/><stop offset="0.177" stop-color="#d2dbe8"/><stop offset="0.3236" stop-color="#dddcdc"/><stop offset="0.4701" stop-color="#e5d8d1"/><stop offset="0.5433" stop-color="#ead5c9"/><stop offset="0.696" stop-color="#f1cdba"/><stop offset="0.7143" stop-color="#f5c4ac"/><stop offset="0.812" stop-color="#f3c7b1"/><stop offset="1" stop-color="#f1cdba"/></linearGradient><linearGradient id="g86" gradientUnits="userSpaceOnUse" x1="141.6" x2="473.3" y1="0" y2="0"><stop offset="0" stop-color="#d7dce3"/><stop offset="0.2442" stop-color="#d7dce3"/><stop offset="0.2625" stop-color="#e2dad5"/><stop offset="0.293" stop-color="#e5d8d1"/><stop offset="0.3114" stop-color="#efcebd"/><stop offset="0.3236" stop-color="#f1ccb8"/><stop offset="0.3419" stop-color="#f7b89c"/><stop offset="0.3541" stop-color="#f7b396"/><stop offset="0.3663" stop-color="#f59c7d"/><stop offset="0.3785" stop-color="#f29072"/><stop offset="0.4029" stop-color="#d44e41"/><stop offset="0.4151" stop-color="#be242e"/><stop offset="0.4212" stop-color="#b40426"/><stop offset="0.5372" stop-color="#b40426"/><stop offset="0.5433" stop-color="#b70d28"/><stop offset="0.5555" stop-color="#c73635"/><stop offset="0.58" stop-color="#c73635"/><stop offset="0.6044" stop-color="#c32e31"/><stop offset="0.6288" stop-color="#ca3b37"/><stop offset="0.6654" stop-color="#cd423b"/><stop offset="0.7204" stop-color="#d75445"/><stop offset="0.7631" stop-color="#dd5f4b"/><stop offset="0.8364" stop-color="#dd5f4b"/><stop offset="0.8608" stop-color="#ca3b37"/><stop offset="0.8852" stop-color="#ca3b37"/><stop offset="0.9096" stop-color="#d75445"/><stop offset="0.9279" stop-color="#d95847"/><stop offset="0.9463" stop-color="#e26952"/><stop offset="0.9768" stop-color="#e7745b"/><stop offset="1" stop-color="#e7745b"/></linearGradient><linearGradient id="g87" gradientUnits="userSpaceOnUse" x1="141.6" x2="473.3" y1="0" y2="0"><stop offset="0" stop-color="#d4dbe6"/><stop offset="0.2503" stop-color="#d7dce3"/><stop offset="0.3114" stop-color="#dfdbd9"/><stop offset="0.3358" stop-color="#ead4c8"/><stop offset="0.3541" stop-color="#f2cbb7"/><stop offset="0.3663" stop-color="#f7ba9f"/><stop offset="0.3968" stop-color="#f7b093"/><stop offset="0.4212" stop-color="#f7a98b"/><stop offset="0.4518" stop-color="#f7ac8e"/><stop offset="0.4823" stop-color="#f7b599"/><stop offset="0.5189" stop-color="#f7ba9f"/><stop offset="0.6227" stop-color="#f5c4ac"/><stop offset="0.7326" stop-color="#f3c7b1"/><stop offset="0.757" stop-color="#efcebd"/><stop offset="0.8058" stop-color="#eed0c0"/><stop offset="0.8364" stop-color="#e9d5cb"/><stop offset="0.8974" stop-color="#e5d8d1"/><stop offset="0.9585" stop-color="#e5d8d1"/><stop offset="1" stop-color="#e7d7ce"/></linearGradient><linearGradient id="g88" gradientUnits="userSpaceOnUse" x1="141.6" x2="473.3" y1="0" y2="0"><stop offset="0" stop-color="#f2cab5"/><stop offset="0.0672" stop-color="#f2cab5"/><stop offset="0.0855" stop-color="#dfdbd9"/><stop offset="0.1038" stop-color="#cad8ef"/><stop offset="0.1099" stop-color="#bbd1f8"/><stop offset="0.1831" stop-color="#bcd2f7"/><stop offset="0.2076" stop-color="#cedaeb"/><stop offset="0.2747" stop-color="#dfdbd9"/><stop offset="0.3052" stop-color="#dcdddd"/><stop offset="0.3297" stop-color="#d2dbe8"/><stop offset="0.3968" stop-color="#d7dce3"/><stop offset="0.4212" stop-color="#ecd3c5"/><stop offset="0.4396" stop-color="#f5c0a7"/><stop offset="0.4701" stop-color="#f7a98b"/><stop offset="0.4945" stop-color="#f5a081"/><stop offset="0.5617" stop-color="#f08b6e"/><stop offset="0.58" stop-color="#e9785d"/><stop offset="0.6227" stop-color="#eb7d62"/><stop offset="0.6349" stop-color="#f18f71"/><stop offset="0.7204" stop-color="#f39778"/><stop offset="0.7509" stop-color="#f29072"/><stop offset="0.7753" stop-color="#f6a283"/><stop offset="0.8486" stop-color="#f7a98b"/><stop offset="0.873" stop-color="#f4987a"/><stop offset="0.8974" stop-color="#f4987a"/><stop offset="0.9218" stop-color="#f7b093"/><stop offset="0.9524" stop-color="#f7b497"/><stop offset="0.9768" stop-color="#f6bea4"/><stop offset="1" stop-color="#f6bea4"/></linearGradient><clipPath id="c89"><rect x="530.3" y="1471.3" width="331.7" height="129"/></clipPath><clipPath id="h90"><rect x="530.3" y="1644.8" width="331.7" height="225.7"/></clipPath><linearGradient id="g91" gradientUnits="userSpaceOnUse" x1="530.3" x2="862" y1="0" y2="0"><stop offset="0" stop-color="#dddcdc"/><stop offset="0.1222" stop-color="#dedcdb"/><stop offset="0.2262" stop-color="#d3dbe7"/><stop offset="0.324" stop-color="#e5d8d1"/><stop offset="0.379" stop-color="#f7b79b"/><stop offset="0.3912" stop-color="#f7ad90"/><stop offset="0.4218" stop-color="#f59f80"/><stop offset="0.4951" stop-color="#f59d7e"/><stop offset="0.5196" stop-color="#f59c7d"/><stop offset="0.544" stop-color="#ee8468"/><stop offset="0.5868" stop-color="#ef886b"/><stop offset="0.6418" stop-color="#f39778"/><stop offset="0.6968" stop-color="#f18d6f"/><stop offset="0.7213" stop-color="#ec7f63"/><stop offset="0.7396" stop-color="#ec7f63"/><stop offset="0.7641" stop-color="#f39778"/><stop offset="0.8068" stop-color="#f6a283"/><stop offset="0.8252" stop-color="#f7ad90"/><stop offset="0.8496" stop-color="#f7ad90"/><stop offset="0.868" stop-color="#f18f71"/><stop offset="0.9169" stop-color="#f08b6e"/><stop offset="0.9474" stop-color="#ee8468"/><stop offset="0.9719" stop-color="#f59c7d"/><stop offset="1" stop-color="#f59c7d"/></linearGradient><linearGradient id="g92" gradientUnits="userSpaceOnUse" x1="530.3" x2="862" y1="0" y2="0"><stop offset="0" stop-color="#dddcdc"/><stop offset="0.0978" stop-color="#e0dbd8"/><stop offset="0.1528" stop-color="#d7dce3"/><stop offset="0.3301" stop-color="#dcdddd"/><stop offset="0.3729" stop-color="#dddcdc"/><stop offset="0.3973" stop-color="#ebd3c6"/><stop offset="0.4156" stop-color="#efcfbf"/><stop offset="0.4279" stop-color="#f5c0a7"/><stop offset="0.4462" stop-color="#f6bda2"/><stop offset="0.4645" stop-color="#f7ad90"/><stop offset="0.4951" stop-color="#f29072"/><stop offset="0.5073" stop-color="#e8765c"/><stop offset="0.544" stop-color="#e0654f"/><stop offset="0.5685" stop-color="#e46e56"/><stop offset="0.599" stop-color="#e9785d"/><stop offset="0.6174" stop-color="#ee8468"/><stop offset="0.6601" stop-color="#ef886b"/><stop offset="0.6968" stop-color="#f29274"/><stop offset="0.7152" stop-color="#f59f80"/><stop offset="0.7274" stop-color="#f7a688"/><stop offset="0.8252" stop-color="#f39577"/><stop offset="0.8435" stop-color="#f39778"/><stop offset="0.8557" stop-color="#f7a688"/><stop offset="0.8802" stop-color="#f7aa8c"/><stop offset="0.8985" stop-color="#f7b497"/><stop offset="1" stop-color="#f5c0a7"/></linearGradient><linearGradient id="g93" gradientUnits="userSpaceOnUse" x1="530.3" x2="862" y1="0" y2="0"><stop offset="0" stop-color="#d8dce2"/><stop offset="0.2934" stop-color="#e1dad6"/><stop offset="0.324" stop-color="#e7d7ce"/><stop offset="0.3362" stop-color="#e7d7ce"/><stop offset="0.3545" stop-color="#f4c6af"/><stop offset="0.434" stop-color="#f5c0a7"/><stop offset="0.6174" stop-color="#f5c4ac"/><stop offset="0.7152" stop-color="#f4c6af"/><stop offset="0.7335" stop-color="#ebd3c6"/><stop offset="0.7579" stop-color="#e9d5cb"/><stop offset="0.7824" stop-color="#e2dad5"/><stop offset="0.8557" stop-color="#e0dbd8"/><stop offset="1" stop-color="#dddcdc"/></linearGradient><linearGradient id="g94" gradientUnits="userSpaceOnUse" x1="530.3" x2="862" y1="0" y2="0"><stop offset="0" stop-color="#d1dae9"/><stop offset="0.1528" stop-color="#d8dce2"/><stop offset="0.2139" stop-color="#d1dae9"/><stop offset="0.2445" stop-color="#dddcdc"/><stop offset="0.2628" stop-color="#e9d5cb"/><stop offset="0.324" stop-color="#ebd3c6"/><stop offset="0.5318" stop-color="#edd1c2"/><stop offset="0.7641" stop-color="#e7d7ce"/><stop offset="0.7824" stop-color="#f4c6af"/><stop offset="0.8557" stop-color="#f2c9b4"/><stop offset="0.8741" stop-color="#efcfbf"/><stop offset="0.9474" stop-color="#f2cbb7"/><stop offset="0.9963" stop-color="#efcfbf"/><stop offset="1" stop-color="#efcfbf"/></linearGradient><linearGradient id="g95" gradientUnits="userSpaceOnUse" x1="530.3" x2="862" y1="0" y2="0"><stop offset="0" stop-color="#e9d5cb"/><stop offset="0.055" stop-color="#e9d5cb"/><stop offset="0.0795" stop-color="#dddcdc"/><stop offset="0.1467" stop-color="#d9dce1"/><stop offset="0.1773" stop-color="#d1dae9"/><stop offset="0.2506" stop-color="#d6dce4"/><stop offset="0.3423" stop-color="#d3dbe7"/><stop offset="0.4095" stop-color="#cdd9ec"/><stop offset="0.4401" stop-color="#d8dce2"/><stop offset="0.4523" stop-color="#dedcdb"/><stop offset="0.4707" stop-color="#ebd3c6"/><stop offset="0.489" stop-color="#eed0c0"/><stop offset="0.5012" stop-color="#f4c6af"/><stop offset="0.5623" stop-color="#f3c8b2"/><stop offset="0.5868" stop-color="#f0cdbb"/><stop offset="0.6235" stop-color="#eed0c0"/><stop offset="0.6418" stop-color="#e9d5cb"/><stop offset="0.7579" stop-color="#e2dad5"/><stop offset="0.8007" stop-color="#dddcdc"/><stop offset="0.8557" stop-color="#d9dce1"/><stop offset="0.8741" stop-color="#cdd9ec"/><stop offset="1" stop-color="#cdd9ec"/></linearGradient><linearGradient id="g96" gradientUnits="userSpaceOnUse" x1="530.3" x2="862" y1="0" y2="0"><stop offset="0" stop-color="#dbdcde"/><stop offset="0.1284" stop-color="#d7dce3"/><stop offset="0.4951" stop-color="#dadce0"/><stop offset="0.5196" stop-color="#e7d7ce"/><stop offset="0.5318" stop-color="#e7d7ce"/><stop offset="0.5501" stop-color="#f3c8b2"/><stop offset="0.5929" stop-color="#f3c8b2"/><stop offset="0.6174" stop-color="#dcdddd"/><stop offset="0.6296" stop-color="#d3dbe7"/><stop offset="0.709" stop-color="#d7dce3"/><stop offset="0.7335" stop-color="#e8d6cc"/><stop offset="0.7457" stop-color="#f4c6af"/><stop offset="0.813" stop-color="#f2c9b4"/><stop offset="0.8557" stop-color="#f0cdbb"/><stop offset="0.8741" stop-color="#ebd3c6"/><stop offset="1" stop-color="#e9d5cb"/></linearGradient><linearGradient id="g97" gradientUnits="userSpaceOnUse" x1="530.3" x2="862" y1="0" y2="0"><stop offset="0" stop-color="#efcfbf"/><stop offset="0.0428" stop-color="#efcfbf"/><stop offset="0.0611" stop-color="#e2dad5"/><stop offset="0.0917" stop-color="#d1dae9"/><stop offset="0.2751" stop-color="#d5dbe5"/><stop offset="0.3912" stop-color="#d8dce2"/><stop offset="0.4279" stop-color="#dfdbd9"/><stop offset="0.4401" stop-color="#e3d9d3"/><stop offset="0.4523" stop-color="#eed0c0"/><stop offset="0.489" stop-color="#f0cdbb"/><stop offset="0.5134" stop-color="#f3c8b2"/><stop offset="0.5929" stop-color="#f3c8b2"/><stop offset="0.6418" stop-color="#f2c9b4"/><stop offset="0.6846" stop-color="#f3c8b2"/><stop offset="0.7029" stop-color="#f5c0a7"/><stop offset="0.7824" stop-color="#f2c9b4"/><stop offset="0.8007" stop-color="#efcfbf"/><stop offset="0.8741" stop-color="#ebd3c6"/><stop offset="0.8924" stop-color="#f7b89c"/><stop offset="0.9474" stop-color="#f7b396"/><stop offset="1" stop-color="#f7b093"/></linearGradient><linearGradient id="g98" gradientUnits="userSpaceOnUse" x1="530.3" x2="862" y1="0" y2="0"><stop offset="0" stop-color="#dddcdc"/><stop offset="0.0795" stop-color="#d5dbe5"/><stop offset="0.3484" stop-color="#d6dce4"/><stop offset="0.3667" stop-color="#e8d6cc"/><stop offset="0.434" stop-color="#edd1c2"/><stop offset="0.4645" stop-color="#e7d7ce"/><stop offset="0.5379" stop-color="#dfdbd9"/><stop offset="0.5746" stop-color="#d8dce2"/><stop offset="0.6112" stop-color="#ccd9ed"/><stop offset="0.6357" stop-color="#c3d5f4"/><stop offset="0.8619" stop-color="#b6cefa"/><stop offset="1" stop-color="#b3cdfb"/></linearGradient><linearGradient id="g99" gradientUnits="userSpaceOnUse" x1="530.3" x2="862" y1="0" y2="0"><stop offset="0" stop-color="#d8dce2"/><stop offset="0.0917" stop-color="#d6dce4"/><stop offset="0.1161" stop-color="#e7d7ce"/><stop offset="0.2017" stop-color="#e2dad5"/><stop offset="0.22" stop-color="#c7d7f0"/><stop offset="0.4768" stop-color="#d5dbe5"/><stop offset="0.544" stop-color="#dadce0"/><stop offset="0.5807" stop-color="#f2c9b4"/><stop offset="0.5868" stop-color="#f5c0a7"/><stop offset="0.6112" stop-color="#f4c5ad"/><stop offset="0.6235" stop-color="#efcfbf"/><stop offset="0.6418" stop-color="#e7d7ce"/><stop offset="0.6601" stop-color="#e2dad5"/><stop offset="0.6907" stop-color="#dddcdc"/><stop offset="0.9169" stop-color="#d9dce1"/><stop offset="1" stop-color="#d3dbe7"/></linearGradient><clipPath id="c100"><rect x="1107.1" y="1473.4" width="344.4" height="95.1"/></clipPath><clipPath id="h101"><rect x="1107.1" y="1611" width="344.4" height="62"/></clipPath><linearGradient id="g102" gradientUnits="userSpaceOnUse" x1="1107.1" x2="1451.5" y1="0" y2="0"><stop offset="0" stop-color="#dddcdc"/><stop offset="0.0305" stop-color="#d7dce3"/><stop offset="0.1221" stop-color="#d4dbe6"/><stop offset="0.1526" stop-color="#e5d8d1"/><stop offset="0.1709" stop-color="#ecd3c5"/><stop offset="0.2442" stop-color="#f2cbb7"/><stop offset="0.2564" stop-color="#f7ba9f"/><stop offset="0.3846" stop-color="#f7b599"/><stop offset="0.409" stop-color="#f4987a"/><stop offset="0.4518" stop-color="#f08b6e"/><stop offset="0.4701" stop-color="#e9785d"/><stop offset="0.5006" stop-color="#e8765c"/><stop offset="0.525" stop-color="#e36b54"/><stop offset="0.5494" stop-color="#e57058"/><stop offset="0.5677" stop-color="#ee8468"/><stop offset="0.5983" stop-color="#ef886b"/><stop offset="0.6166" stop-color="#f39577"/><stop offset="0.6532" stop-color="#f18f71"/><stop offset="0.6776" stop-color="#ef886b"/><stop offset="0.7021" stop-color="#f4987a"/><stop offset="0.7814" stop-color="#f29274"/><stop offset="0.9218" stop-color="#f7a98b"/><stop offset="0.9646" stop-color="#f7ad90"/><stop offset="0.989" stop-color="#f6a283"/><stop offset="1" stop-color="#f6a283"/></linearGradient><linearGradient id="g103" gradientUnits="userSpaceOnUse" x1="1107.1" x2="1451.5" y1="0" y2="0"><stop offset="0" stop-color="#dddcdc"/><stop offset="0.0977" stop-color="#e1dad6"/><stop offset="0.1099" stop-color="#e8d6cc"/><stop offset="0.1221" stop-color="#f3c7b1"/><stop offset="0.1404" stop-color="#f5c4ac"/><stop offset="0.1587" stop-color="#e9d5cb"/><stop offset="0.1709" stop-color="#e3d9d3"/><stop offset="0.1831" stop-color="#d2dbe8"/><stop offset="0.2503" stop-color="#cad8ef"/><stop offset="0.2808" stop-color="#d2dbe8"/><stop offset="0.293" stop-color="#e5d8d1"/><stop offset="0.3052" stop-color="#ead4c8"/><stop offset="0.3175" stop-color="#f4c6af"/><stop offset="0.4151" stop-color="#f4c5ad"/><stop offset="0.4395" stop-color="#f7b497"/><stop offset="0.4579" stop-color="#f18d6f"/><stop offset="0.4701" stop-color="#de614d"/><stop offset="0.4945" stop-color="#d75445"/><stop offset="0.5067" stop-color="#d1493f"/><stop offset="0.5189" stop-color="#cc403a"/><stop offset="0.5311" stop-color="#c0282f"/><stop offset="0.5433" stop-color="#c32e31"/><stop offset="0.5555" stop-color="#d1493f"/><stop offset="0.6166" stop-color="#d75445"/><stop offset="0.6532" stop-color="#e57058"/><stop offset="0.7143" stop-color="#e57058"/><stop offset="0.7387" stop-color="#e57058"/><stop offset="0.7692" stop-color="#c53334"/><stop offset="0.7936" stop-color="#c32e31"/><stop offset="0.8119" stop-color="#dd5f4b"/><stop offset="0.8303" stop-color="#ea7b60"/><stop offset="0.8486" stop-color="#eb7d62"/><stop offset="0.8669" stop-color="#f59f80"/><stop offset="0.9096" stop-color="#f7a98b"/><stop offset="0.9279" stop-color="#f08b6e"/><stop offset="0.9585" stop-color="#f18d6f"/><stop offset="1" stop-color="#f29072"/></linearGradient><clipPath id="c104"><rect x="1491.5" y="1473.4" width="344" height="95.1"/></clipPath><clipPath id="h105"><rect x="1491.5" y="1611" width="344" height="62"/></clipPath><linearGradient id="g106" gradientUnits="userSpaceOnUse" x1="1491.5" x2="1835.5" y1="0" y2="0"><stop offset="0" stop-color="#dfdbd9"/><stop offset="0.0183" stop-color="#dfdbd9"/><stop offset="0.0428" stop-color="#ccd9ed"/><stop offset="0.0978" stop-color="#cedaeb"/><stop offset="0.1222" stop-color="#d7dce3"/><stop offset="0.1711" stop-color="#d7dce3"/><stop offset="0.2017" stop-color="#cfdaea"/><stop offset="0.2445" stop-color="#d4dbe6"/><stop offset="0.2628" stop-color="#e2dad5"/><stop offset="0.33" stop-color="#ebd3c6"/><stop offset="0.3545" stop-color="#efcebd"/><stop offset="0.3789" stop-color="#f1ccb8"/><stop offset="0.4034" stop-color="#f6bea4"/><stop offset="0.4156" stop-color="#f7aa8c"/><stop offset="0.4584" stop-color="#ef886b"/><stop offset="0.4706" stop-color="#eb7d62"/><stop offset="0.5073" stop-color="#ee8468"/><stop offset="0.5562" stop-color="#f29072"/><stop offset="0.6479" stop-color="#f59d7e"/><stop offset="0.6662" stop-color="#f7a98b"/><stop offset="0.7395" stop-color="#f7b093"/><stop offset="0.7884" stop-color="#f7a98b"/><stop offset="0.9107" stop-color="#f7ba9f"/><stop offset="0.9412" stop-color="#f7b89c"/><stop offset="0.9779" stop-color="#f7b093"/><stop offset="1" stop-color="#f7b093"/></linearGradient><linearGradient id="g107" gradientUnits="userSpaceOnUse" x1="1491.5" x2="1835.5" y1="0" y2="0"><stop offset="0" stop-color="#dddcdc"/><stop offset="0.0917" stop-color="#dadce0"/><stop offset="0.11" stop-color="#ebd3c6"/><stop offset="0.1589" stop-color="#ead4c8"/><stop offset="0.1834" stop-color="#e5d8d1"/><stop offset="0.22" stop-color="#d5dbe5"/><stop offset="0.275" stop-color="#ccd9ed"/><stop offset="0.2995" stop-color="#d9dce1"/><stop offset="0.3178" stop-color="#dddcdc"/><stop offset="0.3362" stop-color="#e7d7ce"/><stop offset="0.4034" stop-color="#edd1c2"/><stop offset="0.4278" stop-color="#f5c4ac"/><stop offset="0.4523" stop-color="#f6a586"/><stop offset="0.5012" stop-color="#e57058"/><stop offset="0.5378" stop-color="#e8765c"/><stop offset="0.5623" stop-color="#ee8669"/><stop offset="0.6356" stop-color="#f18f71"/><stop offset="0.6601" stop-color="#f4987a"/><stop offset="0.7395" stop-color="#f7a98b"/><stop offset="0.7579" stop-color="#f08b6e"/><stop offset="0.7945" stop-color="#eb7d62"/><stop offset="0.8312" stop-color="#f29274"/><stop offset="0.8618" stop-color="#f39577"/><stop offset="0.8862" stop-color="#f7a98b"/><stop offset="0.9535" stop-color="#f7b396"/><stop offset="0.9779" stop-color="#f7ba9f"/><stop offset="1" stop-color="#f7ba9f"/></linearGradient><clipPath id="c108"><rect x="125.5" y="2000.3" width="336.9" height="114.9"/></clipPath><clipPath id="h109"><rect x="125.5" y="2158.8" width="336.9" height="150.2"/></clipPath><linearGradient id="g110" gradientUnits="userSpaceOnUse" x1="125.5" x2="462.4" y1="0" y2="0"><stop offset="0" stop-color="#e9d5cb"/><stop offset="0.0305" stop-color="#e3d9d3"/><stop offset="0.0732" stop-color="#d2dbe8"/><stop offset="0.1585" stop-color="#d6dce4"/><stop offset="0.1768" stop-color="#e7d7ce"/><stop offset="0.2438" stop-color="#e8d6cc"/><stop offset="0.2621" stop-color="#f2cab5"/><stop offset="0.2865" stop-color="#efcebd"/><stop offset="0.3048" stop-color="#ecd3c5"/><stop offset="0.3231" stop-color="#f6bfa6"/><stop offset="0.3536" stop-color="#f5c4ac"/><stop offset="0.3597" stop-color="#f5c0a7"/><stop offset="0.3719" stop-color="#f5a081"/><stop offset="0.3962" stop-color="#e9785d"/><stop offset="0.4023" stop-color="#e9785d"/><stop offset="0.4084" stop-color="#e0654f"/><stop offset="0.4145" stop-color="#cd423b"/><stop offset="0.4206" stop-color="#b70d28"/><stop offset="0.4328" stop-color="#b40426"/><stop offset="0.6218" stop-color="#b40426"/><stop offset="0.634" stop-color="#d95847"/><stop offset="0.6401" stop-color="#e97a5f"/><stop offset="0.6645" stop-color="#f29072"/><stop offset="0.6706" stop-color="#f29072"/><stop offset="0.6767" stop-color="#e97a5f"/><stop offset="0.6828" stop-color="#d55042"/><stop offset="0.6889" stop-color="#b8122a"/><stop offset="0.6949" stop-color="#b40426"/><stop offset="0.7925" stop-color="#b40426"/><stop offset="0.8047" stop-color="#d65244"/><stop offset="0.8108" stop-color="#e57058"/><stop offset="0.8352" stop-color="#f08b6e"/><stop offset="0.8595" stop-color="#ee8468"/><stop offset="0.8717" stop-color="#ea7b60"/><stop offset="0.89" stop-color="#f39475"/><stop offset="0.9327" stop-color="#ee8468"/><stop offset="0.9449" stop-color="#ea7b60"/><stop offset="0.9693" stop-color="#f39475"/><stop offset="0.9815" stop-color="#f7b79b"/><stop offset="0.9937" stop-color="#f6bea4"/><stop offset="1" stop-color="#f6bea4"/></linearGradient><linearGradient id="g111" gradientUnits="userSpaceOnUse" x1="125.5" x2="462.4" y1="0" y2="0"><stop offset="0" stop-color="#d2dbe8"/><stop offset="0.128" stop-color="#dbdcde"/><stop offset="0.1951" stop-color="#dddcdc"/><stop offset="0.2134" stop-color="#e7d7ce"/><stop offset="0.2743" stop-color="#edd1c2"/><stop offset="0.2987" stop-color="#edd1c2"/><stop offset="0.3292" stop-color="#edd1c2"/><stop offset="0.3475" stop-color="#f5c4ac"/><stop offset="0.3597" stop-color="#f6bfa6"/><stop offset="0.3719" stop-color="#f7ad90"/><stop offset="0.3962" stop-color="#f6a385"/><stop offset="0.4145" stop-color="#f4987a"/><stop offset="0.445" stop-color="#f39778"/><stop offset="0.4633" stop-color="#e7745b"/><stop offset="0.4999" stop-color="#e9785d"/><stop offset="0.5243" stop-color="#ee8468"/><stop offset="0.5791" stop-color="#f18f71"/><stop offset="0.7498" stop-color="#f29274"/><stop offset="0.7864" stop-color="#ee8468"/><stop offset="0.8413" stop-color="#f29274"/><stop offset="0.8656" stop-color="#f6a283"/><stop offset="0.951" stop-color="#f7a889"/><stop offset="1" stop-color="#f6a283"/></linearGradient><linearGradient id="g112" gradientUnits="userSpaceOnUse" x1="125.5" x2="462.4" y1="0" y2="0"><stop offset="0" stop-color="#e2dad5"/><stop offset="0.0427" stop-color="#dddcdc"/><stop offset="0.1036" stop-color="#d2dbe8"/><stop offset="0.1646" stop-color="#ccd9ed"/><stop offset="0.3353" stop-color="#d1dae9"/><stop offset="0.3597" stop-color="#e3d9d3"/><stop offset="0.3719" stop-color="#f2cbb7"/><stop offset="0.4084" stop-color="#f6bea4"/><stop offset="0.4389" stop-color="#f5c2aa"/><stop offset="0.4572" stop-color="#f7b89c"/><stop offset="0.4816" stop-color="#f5c4ac"/><stop offset="0.5121" stop-color="#f6bda2"/><stop offset="0.5364" stop-color="#f3c7b1"/><stop offset="0.5669" stop-color="#f6bea4"/><stop offset="0.6157" stop-color="#ecd3c5"/><stop offset="0.6706" stop-color="#edd2c3"/><stop offset="0.7315" stop-color="#f7b396"/><stop offset="0.7437" stop-color="#f7a98b"/><stop offset="0.7742" stop-color="#f6a283"/><stop offset="0.7986" stop-color="#f7b89c"/><stop offset="0.8291" stop-color="#f5c4ac"/><stop offset="0.8717" stop-color="#f7b89c"/><stop offset="0.9022" stop-color="#f5c4ac"/><stop offset="0.9205" stop-color="#f6bea4"/><stop offset="0.9449" stop-color="#efcebd"/><stop offset="0.9754" stop-color="#f5c4ac"/><stop offset="1" stop-color="#f5c4ac"/></linearGradient><linearGradient id="g113" gradientUnits="userSpaceOnUse" x1="125.5" x2="462.4" y1="0" y2="0"><stop offset="0" stop-color="#dddcdc"/><stop offset="0.2377" stop-color="#e0dbd8"/><stop offset="0.2621" stop-color="#f2cab5"/><stop offset="0.3475" stop-color="#f5c4ac"/><stop offset="0.378" stop-color="#efcebd"/><stop offset="0.4206" stop-color="#e9d5cb"/><stop offset="0.4511" stop-color="#ead4c8"/><stop offset="0.4816" stop-color="#efcebd"/><stop offset="0.5364" stop-color="#efcfbf"/><stop offset="0.573" stop-color="#f2cab5"/><stop offset="0.6767" stop-color="#ecd3c5"/><stop offset="0.7132" stop-color="#f1cdba"/><stop offset="0.762" stop-color="#f1cdba"/><stop offset="0.8413" stop-color="#efcebd"/><stop offset="0.8595" stop-color="#f5c1a9"/><stop offset="0.9205" stop-color="#efcebd"/><stop offset="0.9815" stop-color="#e5d8d1"/><stop offset="1" stop-color="#e5d8d1"/></linearGradient><linearGradient id="g114" gradientUnits="userSpaceOnUse" x1="125.5" x2="462.4" y1="0" y2="0"><stop offset="0" stop-color="#e7d7ce"/><stop offset="0.0975" stop-color="#e5d8d1"/><stop offset="0.1219" stop-color="#dadce0"/><stop offset="0.2073" stop-color="#d3dbe7"/><stop offset="0.2438" stop-color="#d8dce2"/><stop offset="0.2621" stop-color="#e7d7ce"/><stop offset="0.2865" stop-color="#e2dad5"/><stop offset="0.3048" stop-color="#dfdbd9"/><stop offset="0.3231" stop-color="#ecd3c5"/><stop offset="0.3536" stop-color="#efcebd"/><stop offset="0.3658" stop-color="#f7ba9f"/><stop offset="0.3719" stop-color="#f7ac8e"/><stop offset="0.4084" stop-color="#f59c7d"/><stop offset="0.4267" stop-color="#ef886b"/><stop offset="0.4572" stop-color="#f08b6e"/><stop offset="0.4755" stop-color="#f4987a"/><stop offset="0.5121" stop-color="#f7a98b"/><stop offset="0.5425" stop-color="#f5a081"/><stop offset="0.5608" stop-color="#f08b6e"/><stop offset="0.6401" stop-color="#ee8669"/><stop offset="0.6584" stop-color="#f6a283"/><stop offset="0.6889" stop-color="#f7b599"/><stop offset="0.7254" stop-color="#f6bea4"/><stop offset="0.7498" stop-color="#f7a98b"/><stop offset="0.7803" stop-color="#f7b599"/><stop offset="0.7925" stop-color="#f7a98b"/><stop offset="0.8047" stop-color="#f4987a"/><stop offset="0.8352" stop-color="#f7a98b"/><stop offset="0.9022" stop-color="#f7b497"/><stop offset="0.9205" stop-color="#f5c4ac"/><stop offset="0.9449" stop-color="#f7b093"/><stop offset="1" stop-color="#f7b093"/></linearGradient><linearGradient id="g115" gradientUnits="userSpaceOnUse" x1="125.5" x2="462.4" y1="0" y2="0"><stop offset="0" stop-color="#d6dce4"/><stop offset="0.3475" stop-color="#d2dbe8"/><stop offset="0.3901" stop-color="#dedcdb"/><stop offset="0.4084" stop-color="#efcebd"/><stop offset="0.4328" stop-color="#f6bea4"/><stop offset="0.4633" stop-color="#f7b093"/><stop offset="0.5425" stop-color="#f5c4ac"/><stop offset="0.6096" stop-color="#f1ccb8"/><stop offset="0.634" stop-color="#ecd3c5"/><stop offset="0.6767" stop-color="#e2dad5"/><stop offset="0.762" stop-color="#dbdcde"/><stop offset="0.7986" stop-color="#d2dbe8"/><stop offset="0.8352" stop-color="#bbd1f8"/><stop offset="1" stop-color="#c0d4f5"/></linearGradient><clipPath id="c116"><rect x="501.5" y="2000.3" width="336.6" height="114.9"/></clipPath><clipPath id="h117"><rect x="501.5" y="2158.8" width="336.6" height="150.2"/></clipPath><linearGradient id="g118" gradientUnits="userSpaceOnUse" x1="501.5" x2="838.1" y1="0" y2="0"><stop offset="0" stop-color="#dadce0"/><stop offset="0.0366" stop-color="#ccd9ed"/><stop offset="0.0732" stop-color="#d2dbe8"/><stop offset="0.1037" stop-color="#c9d7f0"/><stop offset="0.122" stop-color="#cdd9ec"/><stop offset="0.1403" stop-color="#e2dad5"/><stop offset="0.1647" stop-color="#ecd3c5"/><stop offset="0.1891" stop-color="#e7d7ce"/><stop offset="0.2074" stop-color="#e3d9d3"/><stop offset="0.238" stop-color="#e9d5cb"/><stop offset="0.2563" stop-color="#d4dbe6"/><stop offset="0.2929" stop-color="#dadce0"/><stop offset="0.3234" stop-color="#e0dbd8"/><stop offset="0.3478" stop-color="#e3d9d3"/><stop offset="0.3539" stop-color="#e2dad5"/><stop offset="0.36" stop-color="#eed0c0"/><stop offset="0.3661" stop-color="#f7b99e"/><stop offset="0.3722" stop-color="#f5a081"/><stop offset="0.3844" stop-color="#e8765c"/><stop offset="0.3905" stop-color="#e36b54"/><stop offset="0.4088" stop-color="#dd5f4b"/><stop offset="0.421" stop-color="#d75445"/><stop offset="0.4576" stop-color="#d44e41"/><stop offset="0.4881" stop-color="#d24b40"/><stop offset="0.5125" stop-color="#d75445"/><stop offset="0.5247" stop-color="#d75445"/><stop offset="0.5369" stop-color="#c43032"/><stop offset="0.543" stop-color="#b70d28"/><stop offset="0.5735" stop-color="#b70d28"/><stop offset="0.5918" stop-color="#d0473d"/><stop offset="0.6101" stop-color="#d44e41"/><stop offset="0.6223" stop-color="#dd5f4b"/><stop offset="0.6529" stop-color="#e7745b"/><stop offset="0.6712" stop-color="#e9785d"/><stop offset="0.6895" stop-color="#ef886b"/><stop offset="0.7078" stop-color="#ee8468"/><stop offset="0.7261" stop-color="#e7745b"/><stop offset="0.7383" stop-color="#e57058"/><stop offset="0.7566" stop-color="#d75445"/><stop offset="0.7871" stop-color="#d95847"/><stop offset="0.7993" stop-color="#e57058"/><stop offset="0.8176" stop-color="#e97a5f"/><stop offset="0.8298" stop-color="#f18f71"/><stop offset="0.8847" stop-color="#f4987a"/><stop offset="0.9091" stop-color="#f7b093"/><stop offset="0.9274" stop-color="#f6bda2"/><stop offset="0.9335" stop-color="#f7ba9f"/><stop offset="0.964" stop-color="#e9785d"/><stop offset="1" stop-color="#e7745b"/></linearGradient><linearGradient id="g119" gradientUnits="userSpaceOnUse" x1="501.5" x2="838.1" y1="0" y2="0"><stop offset="0" stop-color="#e0dbd8"/><stop offset="0.1281" stop-color="#dddcdc"/><stop offset="0.2929" stop-color="#e5d8d1"/><stop offset="0.3112" stop-color="#efcebd"/><stop offset="0.4393" stop-color="#f4c5ad"/><stop offset="0.4881" stop-color="#f4c5ad"/><stop offset="0.5125" stop-color="#f7ba9f"/><stop offset="0.543" stop-color="#f5c0a7"/><stop offset="0.5674" stop-color="#f5c1a9"/><stop offset="0.5979" stop-color="#f6bea4"/><stop offset="0.6162" stop-color="#ecd3c5"/><stop offset="0.6346" stop-color="#eed0c0"/><stop offset="0.6529" stop-color="#f5c1a9"/><stop offset="0.6895" stop-color="#f4c6af"/><stop offset="0.72" stop-color="#f3c8b2"/><stop offset="0.7566" stop-color="#f5c1a9"/><stop offset="0.7749" stop-color="#f1ccb8"/><stop offset="0.7871" stop-color="#ecd3c5"/><stop offset="0.8054" stop-color="#e9d5cb"/><stop offset="0.8237" stop-color="#dadce0"/><stop offset="0.8908" stop-color="#dddcdc"/><stop offset="0.9335" stop-color="#eed0c0"/><stop offset="0.9518" stop-color="#e2dad5"/><stop offset="1" stop-color="#e2dad5"/></linearGradient><linearGradient id="g120" gradientUnits="userSpaceOnUse" x1="501.5" x2="838.1" y1="0" y2="0"><stop offset="0" stop-color="#dddcdc"/><stop offset="0.0488" stop-color="#dadce0"/><stop offset="0.0793" stop-color="#cfdaea"/><stop offset="0.1586" stop-color="#d8dce2"/><stop offset="0.3295" stop-color="#d7dce3"/><stop offset="0.3722" stop-color="#e2dad5"/><stop offset="0.3844" stop-color="#f2c9b4"/><stop offset="0.421" stop-color="#f7b599"/><stop offset="0.4576" stop-color="#f7ba9f"/><stop offset="0.5247" stop-color="#f5c1a9"/><stop offset="0.5491" stop-color="#f7b89c"/><stop offset="0.6101" stop-color="#f7b89c"/><stop offset="0.6346" stop-color="#f7ac8e"/><stop offset="0.6529" stop-color="#f7b093"/><stop offset="0.6712" stop-color="#f7ba9f"/><stop offset="0.7017" stop-color="#f5c0a7"/><stop offset="0.7749" stop-color="#f5c1a9"/><stop offset="0.8054" stop-color="#f7b599"/><stop offset="0.8725" stop-color="#f7b89c"/><stop offset="0.8908" stop-color="#f1cdba"/><stop offset="0.9152" stop-color="#f1cdba"/><stop offset="0.9396" stop-color="#f3c7b1"/><stop offset="1" stop-color="#f5c4ac"/></linearGradient><linearGradient id="g121" gradientUnits="userSpaceOnUse" x1="501.5" x2="838.1" y1="0" y2="0"><stop offset="0" stop-color="#e2dad5"/><stop offset="0.0976" stop-color="#e0dbd8"/><stop offset="0.2197" stop-color="#d8dce2"/><stop offset="0.2441" stop-color="#dcdddd"/><stop offset="0.2624" stop-color="#ecd3c5"/><stop offset="0.2807" stop-color="#f5c0a7"/><stop offset="0.3539" stop-color="#f6bea4"/><stop offset="0.3722" stop-color="#f1cdba"/><stop offset="0.4698" stop-color="#efcebd"/><stop offset="0.5003" stop-color="#efcfbf"/><stop offset="0.5186" stop-color="#e5d8d1"/><stop offset="0.6223" stop-color="#eed0c0"/><stop offset="0.6468" stop-color="#f1cdba"/><stop offset="0.6712" stop-color="#e9d5cb"/><stop offset="0.6956" stop-color="#e2dad5"/><stop offset="0.72" stop-color="#dbdcde"/><stop offset="1" stop-color="#dfdbd9"/></linearGradient><linearGradient id="g122" gradientUnits="userSpaceOnUse" x1="501.5" x2="838.1" y1="0" y2="0"><stop offset="0" stop-color="#dddcdc"/><stop offset="0.0427" stop-color="#d8dce2"/><stop offset="0.1281" stop-color="#d9dce1"/><stop offset="0.2502" stop-color="#e1dad6"/><stop offset="0.4393" stop-color="#e9d5cb"/><stop offset="0.482" stop-color="#efcebd"/><stop offset="0.5552" stop-color="#efcebd"/><stop offset="0.5979" stop-color="#efcfbf"/><stop offset="0.6346" stop-color="#f2cab5"/><stop offset="0.6956" stop-color="#eed0c0"/><stop offset="0.7566" stop-color="#e2dad5"/><stop offset="0.7871" stop-color="#edd1c2"/><stop offset="0.8054" stop-color="#f6bea4"/><stop offset="0.8603" stop-color="#f7b99e"/><stop offset="0.9213" stop-color="#f7b89c"/><stop offset="1" stop-color="#f7ba9f"/></linearGradient><linearGradient id="g123" gradientUnits="userSpaceOnUse" x1="501.5" x2="838.1" y1="0" y2="0"><stop offset="0" stop-color="#e7d7ce"/><stop offset="0.0305" stop-color="#e1dad6"/><stop offset="0.0671" stop-color="#d5dbe5"/><stop offset="0.1159" stop-color="#cfdaea"/><stop offset="0.1769" stop-color="#d5dbe5"/><stop offset="0.2136" stop-color="#cdd9ec"/><stop offset="0.3356" stop-color="#cad8ef"/><stop offset="0.3661" stop-color="#bbd1f8"/><stop offset="0.5064" stop-color="#c9d7f0"/><stop offset="0.7139" stop-color="#c3d5f4"/><stop offset="0.7444" stop-color="#b5cdfa"/><stop offset="0.8847" stop-color="#b9d0f9"/><stop offset="1" stop-color="#b7cff9"/></linearGradient><clipPath id="c124"><rect x="1094.8" y="1996" width="333.1" height="91.9"/></clipPath><clipPath id="h125"><rect x="1094.8" y="2128.8" width="333.1" height="60.3"/></clipPath><linearGradient id="g126" gradientUnits="userSpaceOnUse" x1="1094.8" x2="1427.9" y1="0" y2="0"><stop offset="0" stop-color="#dddcdc"/><stop offset="0.0488" stop-color="#dadce0"/><stop offset="0.0732" stop-color="#ccd9ed"/><stop offset="0.122" stop-color="#d3dbe7"/><stop offset="0.177" stop-color="#ccd9ed"/><stop offset="0.2502" stop-color="#dadce0"/><stop offset="0.2807" stop-color="#e0dbd8"/><stop offset="0.3173" stop-color="#e6d7cf"/><stop offset="0.3295" stop-color="#efcfbf"/><stop offset="0.3478" stop-color="#f7b497"/><stop offset="0.36" stop-color="#f39475"/><stop offset="0.3722" stop-color="#d75445"/><stop offset="0.3783" stop-color="#cc403a"/><stop offset="0.3905" stop-color="#b40426"/><stop offset="0.4271" stop-color="#b40426"/><stop offset="0.4454" stop-color="#c12b30"/><stop offset="0.4637" stop-color="#c32e31"/><stop offset="0.482" stop-color="#e46e56"/><stop offset="0.4942" stop-color="#f7ac8e"/><stop offset="0.5064" stop-color="#f7ad90"/><stop offset="0.5248" stop-color="#f4987a"/><stop offset="0.537" stop-color="#e36b54"/><stop offset="0.5492" stop-color="#cd423b"/><stop offset="0.5614" stop-color="#b40426"/><stop offset="0.72" stop-color="#b50927"/><stop offset="0.7322" stop-color="#c43032"/><stop offset="0.7688" stop-color="#c83836"/><stop offset="0.7871" stop-color="#d1493f"/><stop offset="0.8176" stop-color="#d24b40"/><stop offset="0.8359" stop-color="#dd5f4b"/><stop offset="0.8665" stop-color="#df634e"/><stop offset="0.8848" stop-color="#e7745b"/><stop offset="0.9031" stop-color="#e9785d"/><stop offset="0.9275" stop-color="#ef886b"/><stop offset="1" stop-color="#ee8468"/></linearGradient><linearGradient id="g127" gradientUnits="userSpaceOnUse" x1="1094.8" x2="1427.9" y1="0" y2="0"><stop offset="0" stop-color="#dadce0"/><stop offset="0.1037" stop-color="#dedcdb"/><stop offset="0.1708" stop-color="#e2dad5"/><stop offset="0.238" stop-color="#e0dbd8"/><stop offset="0.2441" stop-color="#e5d8d1"/><stop offset="0.2563" stop-color="#f5c4ac"/><stop offset="0.2868" stop-color="#f7b89c"/><stop offset="0.3661" stop-color="#f7b396"/><stop offset="0.3905" stop-color="#f7a688"/><stop offset="0.4149" stop-color="#f08a6c"/><stop offset="0.4332" stop-color="#eb7d62"/><stop offset="0.537" stop-color="#e57058"/><stop offset="0.5553" stop-color="#d85646"/><stop offset="0.7383" stop-color="#e0654f"/><stop offset="0.7932" stop-color="#e36c55"/><stop offset="0.8115" stop-color="#ec8165"/><stop offset="0.842" stop-color="#f29274"/><stop offset="0.9153" stop-color="#f59d7e"/><stop offset="0.9458" stop-color="#f6a586"/><stop offset="0.9763" stop-color="#f7ac8e"/><stop offset="1" stop-color="#f7ac8e"/></linearGradient><clipPath id="c128"><rect x="1466.2" y="1996" width="333.1" height="91.9"/></clipPath><clipPath id="h129"><rect x="1466.2" y="2128.8" width="333.1" height="60.3"/></clipPath><linearGradient id="g130" gradientUnits="userSpaceOnUse" x1="1466.2" x2="1799.3" y1="0" y2="0"><stop offset="0" stop-color="#dddcdc"/><stop offset="0.1098" stop-color="#dcdddd"/><stop offset="0.1281" stop-color="#cfdaea"/><stop offset="0.1831" stop-color="#d2dbe8"/><stop offset="0.2441" stop-color="#e4d9d2"/><stop offset="0.2563" stop-color="#f1ccb8"/><stop offset="0.4393" stop-color="#f0cdbb"/><stop offset="0.4942" stop-color="#efcebd"/><stop offset="0.5309" stop-color="#f3c8b2"/><stop offset="0.5553" stop-color="#f5c0a7"/><stop offset="0.5858" stop-color="#f6a283"/><stop offset="0.6285" stop-color="#f7a889"/><stop offset="0.6773" stop-color="#f7b599"/><stop offset="0.7139" stop-color="#f6bda2"/><stop offset="0.7383" stop-color="#f7b093"/><stop offset="0.8481" stop-color="#f7ba9f"/><stop offset="0.9214" stop-color="#f7ba9f"/><stop offset="1" stop-color="#f7b89c"/></linearGradient><linearGradient id="g131" gradientUnits="userSpaceOnUse" x1="1466.2" x2="1799.3" y1="0" y2="0"><stop offset="0" stop-color="#dadce0"/><stop offset="0.0732" stop-color="#dddcdc"/><stop offset="0.0915" stop-color="#e7d7ce"/><stop offset="0.2441" stop-color="#ebd3c6"/><stop offset="0.2624" stop-color="#f2cab5"/><stop offset="0.2868" stop-color="#f5c4ac"/><stop offset="0.3173" stop-color="#f6bea4"/><stop offset="0.3783" stop-color="#f5c4ac"/><stop offset="0.4576" stop-color="#f3c7b1"/><stop offset="0.5003" stop-color="#f1cdba"/><stop offset="0.5187" stop-color="#e9d5cb"/><stop offset="0.6163" stop-color="#e4d9d2"/><stop offset="0.8054" stop-color="#dadce0"/><stop offset="0.8542" stop-color="#d2dbe8"/><stop offset="0.9153" stop-color="#cfdaea"/><stop offset="0.9641" stop-color="#bed2f6"/><stop offset="1" stop-color="#bed2f6"/></linearGradient><linearGradient id="cb132" x1="0" y1="0" x2="0" y2="1"><stop offset="0.0000" stop-color="#b40426"/><stop offset="0.0417" stop-color="#c32e31"/><stop offset="0.0833" stop-color="#d1493f"/><stop offset="0.1250" stop-color="#de614d"/><stop offset="0.1667" stop-color="#e7745b"/><stop offset="0.2083" stop-color="#ef886b"/><stop offset="0.2500" stop-color="#f4987a"/><stop offset="0.2917" stop-color="#f7a98b"/><stop offset="0.3333" stop-color="#f7b89c"/><stop offset="0.3750" stop-color="#f5c4ac"/><stop offset="0.4167" stop-color="#efcebd"/><stop offset="0.4583" stop-color="#e7d7ce"/><stop offset="0.5000" stop-color="#dddcdc"/><stop offset="0.5417" stop-color="#d2dbe8"/><stop offset="0.5833" stop-color="#c5d6f2"/><stop offset="0.6250" stop-color="#b9d0f9"/><stop offset="0.6667" stop-color="#aac7fd"/><stop offset="0.7083" stop-color="#9bbcff"/><stop offset="0.7500" stop-color="#8db0fe"/><stop offset="0.7917" stop-color="#7ea1fa"/><stop offset="0.8333" stop-color="#6f92f3"/><stop offset="0.8750" stop-color="#6180e9"/><stop offset="0.9167" stop-color="#5470de"/><stop offset="0.9583" stop-color="#465ecf"/><stop offset="1.0000" stop-color="#3b4cc0"/></linearGradient><linearGradient id="cb133" x1="0" y1="0" x2="0" y2="1"><stop offset="0.0000" stop-color="#b40426"/><stop offset="0.0417" stop-color="#c32e31"/><stop offset="0.0833" stop-color="#d1493f"/><stop offset="0.1250" stop-color="#de614d"/><stop offset="0.1667" stop-color="#e7745b"/><stop offset="0.2083" stop-color="#ef886b"/><stop offset="0.2500" stop-color="#f4987a"/><stop offset="0.2917" stop-color="#f7a98b"/><stop offset="0.3333" stop-color="#f7b89c"/><stop offset="0.3750" stop-color="#f5c4ac"/><stop offset="0.4167" stop-color="#efcebd"/><stop offset="0.4583" stop-color="#e7d7ce"/><stop offset="0.5000" stop-color="#dddcdc"/><stop offset="0.5417" stop-color="#d2dbe8"/><stop offset="0.5833" stop-color="#c5d6f2"/><stop offset="0.6250" stop-color="#b9d0f9"/><stop offset="0.6667" stop-color="#aac7fd"/><stop offset="0.7083" stop-color="#9bbcff"/><stop offset="0.7500" stop-color="#8db0fe"/><stop offset="0.7917" stop-color="#7ea1fa"/><stop offset="0.8333" stop-color="#6f92f3"/><stop offset="0.8750" stop-color="#6180e9"/><stop offset="0.9167" stop-color="#5470de"/><stop offset="0.9583" stop-color="#465ecf"/><stop offset="1.0000" stop-color="#3b4cc0"/></linearGradient><linearGradient id="cb134" x1="0" y1="0" x2="0" y2="1"><stop offset="0.0000" stop-color="#b40426"/><stop offset="0.0417" stop-color="#c32e31"/><stop offset="0.0833" stop-color="#d1493f"/><stop offset="0.1250" stop-color="#de614d"/><stop offset="0.1667" stop-color="#e7745b"/><stop offset="0.2083" stop-color="#ef886b"/><stop offset="0.2500" stop-color="#f4987a"/><stop offset="0.2917" stop-color="#f7a98b"/><stop offset="0.3333" stop-color="#f7b89c"/><stop offset="0.3750" stop-color="#f5c4ac"/><stop offset="0.4167" stop-color="#efcebd"/><stop offset="0.4583" stop-color="#e7d7ce"/><stop offset="0.5000" stop-color="#dddcdc"/><stop offset="0.5417" stop-color="#d2dbe8"/><stop offset="0.5833" stop-color="#c5d6f2"/><stop offset="0.6250" stop-color="#b9d0f9"/><stop offset="0.6667" stop-color="#aac7fd"/><stop offset="0.7083" stop-color="#9bbcff"/><stop offset="0.7500" stop-color="#8db0fe"/><stop offset="0.7917" stop-color="#7ea1fa"/><stop offset="0.8333" stop-color="#6f92f3"/><stop offset="0.8750" stop-color="#6180e9"/><stop offset="0.9167" stop-color="#5470de"/><stop offset="0.9583" stop-color="#465ecf"/><stop offset="1.0000" stop-color="#3b4cc0"/></linearGradient><linearGradient id="cb135" x1="0" y1="0" x2="0" y2="1"><stop offset="0.0000" stop-color="#b40426"/><stop offset="0.0417" stop-color="#c32e31"/><stop offset="0.0833" stop-color="#d1493f"/><stop offset="0.1250" stop-color="#de614d"/><stop offset="0.1667" stop-color="#e7745b"/><stop offset="0.2083" stop-color="#ef886b"/><stop offset="0.2500" stop-color="#f4987a"/><stop offset="0.2917" stop-color="#f7a98b"/><stop offset="0.3333" stop-color="#f7b89c"/><stop offset="0.3750" stop-color="#f5c4ac"/><stop offset="0.4167" stop-color="#efcebd"/><stop offset="0.4583" stop-color="#e7d7ce"/><stop offset="0.5000" stop-color="#dddcdc"/><stop offset="0.5417" stop-color="#d2dbe8"/><stop offset="0.5833" stop-color="#c5d6f2"/><stop offset="0.6250" stop-color="#b9d0f9"/><stop offset="0.6667" stop-color="#aac7fd"/><stop offset="0.7083" stop-color="#9bbcff"/><stop offset="0.7500" stop-color="#8db0fe"/><stop offset="0.7917" stop-color="#7ea1fa"/><stop offset="0.8333" stop-color="#6f92f3"/><stop offset="0.8750" stop-color="#6180e9"/><stop offset="0.9167" stop-color="#5470de"/><stop offset="0.9583" stop-color="#465ecf"/><stop offset="1.0000" stop-color="#3b4cc0"/></linearGradient><linearGradient id="cb136" x1="0" y1="0" x2="0" y2="1"><stop offset="0.0000" stop-color="#b40426"/><stop offset="0.0417" stop-color="#c32e31"/><stop offset="0.0833" stop-color="#d1493f"/><stop offset="0.1250" stop-color="#de614d"/><stop offset="0.1667" stop-color="#e7745b"/><stop offset="0.2083" stop-color="#ef886b"/><stop offset="0.2500" stop-color="#f4987a"/><stop offset="0.2917" stop-color="#f7a98b"/><stop offset="0.3333" stop-color="#f7b89c"/><stop offset="0.3750" stop-color="#f5c4ac"/><stop offset="0.4167" stop-color="#efcebd"/><stop offset="0.4583" stop-color="#e7d7ce"/><stop offset="0.5000" stop-color="#dddcdc"/><stop offset="0.5417" stop-color="#d2dbe8"/><stop offset="0.5833" stop-color="#c5d6f2"/><stop offset="0.6250" stop-color="#b9d0f9"/><stop offset="0.6667" stop-color="#aac7fd"/><stop offset="0.7083" stop-color="#9bbcff"/><stop offset="0.7500" stop-color="#8db0fe"/><stop offset="0.7917" stop-color="#7ea1fa"/><stop offset="0.8333" stop-color="#6f92f3"/><stop offset="0.8750" stop-color="#6180e9"/><stop offset="0.9167" stop-color="#5470de"/><stop offset="0.9583" stop-color="#465ecf"/><stop offset="1.0000" stop-color="#3b4cc0"/></linearGradient><linearGradient id="cb137" x1="0" y1="0" x2="0" y2="1"><stop offset="0.0000" stop-color="#b40426"/><stop offset="0.0417" stop-color="#c32e31"/><stop offset="0.0833" stop-color="#d1493f"/><stop offset="0.1250" stop-color="#de614d"/><stop offset="0.1667" stop-color="#e7745b"/><stop offset="0.2083" stop-color="#ef886b"/><stop offset="0.2500" stop-color="#f4987a"/><stop offset="0.2917" stop-color="#f7a98b"/><stop offset="0.3333" stop-color="#f7b89c"/><stop offset="0.3750" stop-color="#f5c4ac"/><stop offset="0.4167" stop-color="#efcebd"/><stop offset="0.4583" stop-color="#e7d7ce"/><stop offset="0.5000" stop-color="#dddcdc"/><stop offset="0.5417" stop-color="#d2dbe8"/><stop offset="0.5833" stop-color="#c5d6f2"/><stop offset="0.6250" stop-color="#b9d0f9"/><stop offset="0.6667" stop-color="#aac7fd"/><stop offset="0.7083" stop-color="#9bbcff"/><stop offset="0.7500" stop-color="#8db0fe"/><stop offset="0.7917" stop-color="#7ea1fa"/><stop offset="0.8333" stop-color="#6f92f3"/><stop offset="0.8750" stop-color="#6180e9"/><stop offset="0.9167" stop-color="#5470de"/><stop offset="0.9583" stop-color="#465ecf"/><stop offset="1.0000" stop-color="#3b4cc0"/></linearGradient><linearGradient id="cb138" x1="0" y1="0" x2="0" y2="1"><stop offset="0.0000" stop-color="#b40426"/><stop offset="0.0417" stop-color="#c32e31"/><stop offset="0.0833" stop-color="#d1493f"/><stop offset="0.1250" stop-color="#de614d"/><stop offset="0.1667" stop-color="#e7745b"/><stop offset="0.2083" stop-color="#ef886b"/><stop offset="0.2500" stop-color="#f4987a"/><stop offset="0.2917" stop-color="#f7a98b"/><stop offset="0.3333" stop-color="#f7b89c"/><stop offset="0.3750" stop-color="#f5c4ac"/><stop offset="0.4167" stop-color="#efcebd"/><stop offset="0.4583" stop-color="#e7d7ce"/><stop offset="0.5000" stop-color="#dddcdc"/><stop offset="0.5417" stop-color="#d2dbe8"/><stop offset="0.5833" stop-color="#c5d6f2"/><stop offset="0.6250" stop-color="#b9d0f9"/><stop offset="0.6667" stop-color="#aac7fd"/><stop offset="0.7083" stop-color="#9bbcff"/><stop offset="0.7500" stop-color="#8db0fe"/><stop offset="0.7917" stop-color="#7ea1fa"/><stop offset="0.8333" stop-color="#6f92f3"/><stop offset="0.8750" stop-color="#6180e9"/><stop offset="0.9167" stop-color="#5470de"/><stop offset="0.9583" stop-color="#465ecf"/><stop offset="1.0000" stop-color="#3b4cc0"/></linearGradient><linearGradient id="cb139" x1="0" y1="0" x2="0" y2="1"><stop offset="0.0000" stop-color="#b40426"/><stop offset="0.0417" stop-color="#c32e31"/><stop offset="0.0833" stop-color="#d1493f"/><stop offset="0.1250" stop-color="#de614d"/><stop offset="0.1667" stop-color="#e7745b"/><stop offset="0.2083" stop-color="#ef886b"/><stop offset="0.2500" stop-color="#f4987a"/><stop offset="0.2917" stop-color="#f7a98b"/><stop offset="0.3333" stop-color="#f7b89c"/><stop offset="0.3750" stop-color="#f5c4ac"/><stop offset="0.4167" stop-color="#efcebd"/><stop offset="0.4583" stop-color="#e7d7ce"/><stop offset="0.5000" stop-color="#dddcdc"/><stop offset="0.5417" stop-color="#d2dbe8"/><stop offset="0.5833" stop-color="#c5d6f2"/><stop offset="0.6250" stop-color="#b9d0f9"/><stop offset="0.6667" stop-color="#aac7fd"/><stop offset="0.7083" stop-color="#9bbcff"/><stop offset="0.7500" stop-color="#8db0fe"/><stop offset="0.7917" stop-color="#7ea1fa"/><stop offset="0.8333" stop-color="#6f92f3"/><stop offset="0.8750" stop-color="#6180e9"/><stop offset="0.9167" stop-color="#5470de"/><stop offset="0.9583" stop-color="#465ecf"/><stop offset="1.0000" stop-color="#3b4cc0"/></linearGradient></defs><rect width="1957" height="2360" fill="#fff"/><g clip-path="url(#c0)"><path d="M98.5 247C106 247 129.4 247.7 143.6 247C157.8 246.3 176.1 245.1 183.8 242.7C191.5 240.3 186.7 237.2 189.5 232.6C192.4 228.1 197.2 223.5 201 215.4C204.9 207.3 208.7 193.9 212.5 183.8C216.4 173.8 220.2 163.5 224 155.1C227.8 146.7 232.1 138.8 235.5 133.5C238.8 128.3 241.2 125.4 244.1 123.5C247 121.6 250.1 121.6 252.7 122.1C255.4 122.5 257.5 124 259.9 126.4C262.3 128.8 264.5 133.8 267.1 136.4C269.7 139 272.4 140.7 275.7 142.2C279.1 143.6 283.8 143.8 287.2 145C290.5 146.2 292.9 147.4 295.8 149.3C298.7 151.3 301.1 154.8 304.4 156.5C307.8 158.2 312.1 158 315.9 159.4C319.7 160.8 324 163 327.4 165.1C330.7 167.3 333.1 169.7 336 172.3C338.9 174.9 341.3 179 344.6 180.9C348 182.8 351.3 184 356.1 183.8C360.9 183.6 368.6 179.5 373.3 179.5C378.1 179.5 381 181.9 384.8 183.8C388.7 185.7 392.5 188.6 396.3 191C400.2 193.4 403.5 196.2 407.8 198.2C412.1 200.1 416.9 201.3 422.2 202.5C427.4 203.7 434.6 204.4 439.4 205.3C444.2 206.3 447.7 207.5 450.9 208.2C454 208.9 457.1 209.4 458.4 209.6L458.4 254.2C453.8 253.4 440.2 251.1 430.8 249.9C421.4 248.7 410.7 247.9 402.1 247C393.5 246 385.8 245.1 379.1 244.1C372.4 243.2 367.6 242.2 361.9 241.2C356.1 240.3 349.9 239.6 344.6 238.4C339.4 237.2 335.1 235.5 330.3 234.1C325.5 232.6 320.7 230.9 315.9 229.8C311.1 228.6 306.3 226.9 301.6 226.9C296.8 226.9 291.5 229.3 287.2 229.8C282.9 230.2 280.5 230.2 275.7 229.8C270.9 229.3 263.3 227.4 258.5 226.9C253.7 226.4 250.8 226.2 247 226.9C243.2 227.6 239.3 229.3 235.5 231.2C231.7 233.1 227.8 235.7 224 238.4C220.2 241 216.4 245.2 212.5 247C208.7 248.8 205.1 248.8 201 249.3C197 249.8 193.2 249 188.4 249.9C183.6 250.7 179.8 253 172.3 254.2C164.8 255.4 150.8 256.4 143.6 257C136.4 257.7 136.8 258.6 129.2 257.9C121.7 257.2 103.6 253.6 98.5 252.7Z" fill="#e8f1f8"/><path d="M98.5 249.3C101.2 249.8 110.2 251.3 114.9 252.2C119.5 253 122.5 253.8 126.4 254.2C130.2 254.5 133.1 254.5 137.9 254.2C142.6 253.8 149.3 252.6 155.1 251.9C160.8 251.1 168 250.3 172.3 249.9C176.6 249.4 178.3 250.7 180.9 249.3C183.6 247.8 185.5 243.5 188.4 241.2C191.3 238.9 195.1 237.9 198.2 235.5C201.2 233.1 203.4 231.2 206.8 226.9C210.1 222.6 214.4 215.4 218.3 209.6C222.1 203.9 225.9 197.4 229.8 192.4C233.6 187.4 238.1 182.6 241.2 179.5C244.4 176.4 246 174.9 248.4 174C250.8 173.1 253 173.3 255.6 174C258.2 174.8 261.3 176.9 264.2 178.6C267.1 180.4 269 183 272.8 184.7C276.7 186.3 282.9 187.6 287.2 188.4C291.5 189.2 294.4 188.8 298.7 189.5C303 190.3 308.7 191.6 313 193C317.3 194.4 321.2 196.4 324.5 198.2C327.9 199.9 330.3 201.5 333.1 203.3C336 205.2 338.4 207.9 341.8 209.1C345.1 210.2 349.4 209.6 353.2 210.2C357.1 210.9 361.4 212.8 364.7 213.1C368.1 213.4 370 211.8 373.3 211.9C376.7 212.1 380.5 212.7 384.8 214C389.1 215.2 395.4 218.7 399.2 219.7C403 220.7 404.9 219 407.8 219.7C410.7 220.4 413.6 223.2 416.4 224C419.3 224.8 420.7 223.8 425 224.6C429.4 225.4 437.5 227.6 442.3 228.9C447.1 230.2 451.1 232 453.8 232.6C456.4 233.2 457.6 232.6 458.4 232.6" fill="none" stroke="#1f77b4" stroke-width="4" stroke-linejoin="round" stroke-linecap="butt"/></g>
<path d="M98.5 250.4H458.4 M188.4 114.9V268.3" stroke="#000" stroke-width="2.9" fill="none"/>
<rect x="98.5" y="114.9" width="359.9" height="153.4" fill="none" stroke="#000" stroke-width="1.5"/>
<path d="M100.6 268.3v6.7M188.4 268.3v6.7M276.2 268.3v6.7M364.1 268.3v6.7M452 268.3v6.7M98.5 250.4h-6.7M98.5 155.4h-6.7" stroke="#000" stroke-width="1.5" fill="none"/>
<text x="100.6" y="296.8" font-size="19.13" text-anchor="middle">−10</text>
<text x="188.4" y="296.8" font-size="19.13" text-anchor="middle">0</text>
<text x="276.2" y="296.8" font-size="19.13" text-anchor="middle">10</text>
<text x="364.1" y="296.8" font-size="19.13" text-anchor="middle">20</text>
<text x="452" y="296.8" font-size="19.13" text-anchor="middle">30</text>
<text x="85.1" y="257.4" font-size="19.13" text-anchor="end">0</text>
<text x="85.1" y="162.4" font-size="19.13" text-anchor="end">1</text>
<text x="278.4" y="103.4" font-size="22.96" text-anchor="middle">AWBR (Stim)</text>
<text transform="translate(59.5 191.6) rotate(-90)" font-size="19.13" text-anchor="middle">Δ<tspan font-style="italic">F</tspan>/<tspan font-style="italic">F</tspan><tspan font-size="13.39" dy="3.1">0</tspan></text>
<g clip-path="url(#h1)"><g filter="url(#vb)">
<rect x="92.5" y="313" width="371.9" height="34" fill="url(#g2)"/>
<rect x="92.5" y="347" width="371.9" height="29" fill="url(#g3)"/>
<rect x="92.5" y="376" width="371.9" height="28" fill="url(#g4)"/>
<rect x="92.5" y="404" width="371.9" height="28" fill="url(#g5)"/>
<rect x="92.5" y="432" width="371.9" height="28" fill="url(#g6)"/>
<rect x="92.5" y="460" width="371.9" height="29" fill="url(#g7)"/>
<rect x="92.5" y="489" width="371.9" height="28" fill="url(#g8)"/>
<rect x="92.5" y="517" width="371.9" height="28" fill="url(#g9)"/>
<rect x="92.5" y="545" width="371.9" height="29" fill="url(#g10)"/>
<rect x="92.5" y="574" width="371.9" height="28" fill="url(#g11)"/>
<rect x="92.5" y="602" width="371.9" height="28" fill="url(#g12)"/>
<rect x="92.5" y="630" width="371.9" height="28" fill="url(#g13)"/>
<rect x="92.5" y="658" width="371.9" height="29" fill="url(#g14)"/>
<rect x="92.5" y="687" width="371.9" height="28" fill="url(#g15)"/>
<rect x="92.5" y="715" width="371.9" height="28" fill="url(#g16)"/>
<rect x="92.5" y="743" width="371.9" height="28" fill="url(#g17)"/>
<rect x="92.5" y="771" width="371.9" height="29" fill="url(#g18)"/>
<rect x="92.5" y="800" width="371.9" height="34" fill="url(#g19)"/>
</g></g>
<path d="M188.4 319V828" stroke="#000" stroke-width="2.6" fill="none"/>
<rect x="98.5" y="319" width="359.9" height="509" fill="none" stroke="#000" stroke-width="1.5"/>
<path d="M100.6 828v6.7M188.4 828v6.7M276.2 828v6.7M364.1 828v6.7M452 828v6.7M98.5 333.1h-6.7M98.5 361.4h-6.7M98.5 389.7h-6.7M98.5 418h-6.7M98.5 446.2h-6.7M98.5 474.5h-6.7M98.5 502.8h-6.7M98.5 531.1h-6.7M98.5 559.4h-6.7M98.5 587.6h-6.7M98.5 615.9h-6.7M98.5 644.2h-6.7M98.5 672.5h-6.7M98.5 700.8h-6.7M98.5 729h-6.7M98.5 757.3h-6.7M98.5 785.6h-6.7M98.5 813.9h-6.7" stroke="#000" stroke-width="1.5" fill="none"/>
<text x="100.6" y="856.9" font-size="19.13" text-anchor="middle">-10</text>
<text x="188.4" y="856.9" font-size="19.13" text-anchor="middle">0</text>
<text x="276.2" y="856.9" font-size="19.13" text-anchor="middle">10</text>
<text x="364.1" y="856.9" font-size="19.13" text-anchor="middle">20</text>
<text x="452" y="856.9" font-size="19.13" text-anchor="middle">30</text>
<text x="278.4" y="883.5" font-size="19.13" text-anchor="middle">Time (s)</text>
<text x="85.1" y="340.1" font-size="19.13" text-anchor="end">1</text>
<text x="85.1" y="368.4" font-size="19.13" text-anchor="end">2</text>
<text x="85.1" y="396.7" font-size="19.13" text-anchor="end">3</text>
<text x="85.1" y="425" font-size="19.13" text-anchor="end">4</text>
<text x="85.1" y="453.2" font-size="19.13" text-anchor="end">5</text>
<text x="85.1" y="481.5" font-size="19.13" text-anchor="end">6</text>
<text x="85.1" y="509.8" font-size="19.13" text-anchor="end">7</text>
<text x="85.1" y="538.1" font-size="19.13" text-anchor="end">8</text>
<text x="85.1" y="566.3" font-size="19.13" text-anchor="end">9</text>
<text x="85.1" y="594.6" font-size="19.13" text-anchor="end">10</text>
<text x="85.1" y="622.9" font-size="19.13" text-anchor="end">11</text>
<text x="85.1" y="651.2" font-size="19.13" text-anchor="end">12</text>
<text x="85.1" y="679.5" font-size="19.13" text-anchor="end">13</text>
<text x="85.1" y="707.7" font-size="19.13" text-anchor="end">14</text>
<text x="85.1" y="736" font-size="19.13" text-anchor="end">15</text>
<text x="85.1" y="764.3" font-size="19.13" text-anchor="end">16</text>
<text x="85.1" y="792.6" font-size="19.13" text-anchor="end">17</text>
<text x="85.1" y="820.8" font-size="19.13" text-anchor="end">18</text>
<text transform="translate(48.6 573.5) rotate(-90)" font-size="19.13" text-anchor="middle"><tspan x="0" y="-21.4">Sorted</tspan><tspan x="0" y="0">Trials</tspan></text>
<g clip-path="url(#c20)"><path d="M500.7 243.2C503 243.1 509.3 241.9 514.5 242.4C519.6 242.8 525 245.4 531.7 246.1C538.4 246.8 547 246.6 554.7 246.7C562.3 246.8 571.7 247.4 577.6 246.7C583.6 246 586.7 244.5 590.6 242.4C594.4 240.2 597.5 235.7 600.6 233.8C603.7 231.8 606.4 233 609.2 230.9C612.1 228.7 614.5 224.4 617.9 220.8C621.2 217.2 625.5 212.2 629.3 209.3C633.2 206.5 637 205.2 640.8 203.6C644.7 202 648.5 200 652.3 199.9C656.1 199.7 659.5 201.5 663.8 202.7C668.1 203.9 674.3 205.8 678.2 207C682 208.2 683.4 208.2 686.8 209.9C690.1 211.6 694.4 215.9 698.3 217.4C702.1 218.8 705.4 217.7 709.8 218.5C714.1 219.3 719.3 221.3 724.1 222.3C728.9 223.2 733.7 224.2 738.5 224.3C743.3 224.4 748 223 752.8 222.8C757.6 222.6 762.4 222.3 767.2 223.1C772 224 776.8 226.5 781.6 228C786.3 229.5 791.1 231.6 795.9 232.3C800.7 233 805.5 232.6 810.3 232.3C815.1 232.1 819.8 231.1 824.6 230.9C829.4 230.6 834.2 230.4 839 230.9C843.8 231.4 849.9 232.9 853.3 233.8C856.8 234.6 858.9 235.4 860 235.8L860 255.3C858.9 255.8 856.8 257.3 853.3 258.2C849.9 259 844.7 260.1 839 260.5C833.2 260.8 825.1 260.8 818.9 260.2C812.7 259.6 807.4 258.3 801.7 256.7C795.9 255.2 790.2 252.2 784.4 251C778.7 249.8 772.5 250 767.2 249.5C761.9 249.1 759.5 248.3 752.8 248.1C746.1 247.9 734.2 248.1 727 248.1C719.8 248.1 717.4 247.9 709.8 248.1C702.1 248.3 689.6 248.6 681 249.5C672.4 250.5 663.8 252.5 658.1 253.9C652.3 255.2 651.4 256.8 646.6 257.6C641.8 258.4 635.6 258.9 629.3 258.7C623.1 258.6 615.7 257.7 609.2 256.7C602.8 255.8 595.8 253.2 590.6 253C585.3 252.8 583.6 254.5 577.6 255.3C571.7 256.1 562.3 257.3 554.7 257.6C547 257.8 538.4 257.3 531.7 256.7C525 256.1 519.6 254.6 514.5 253.9C509.3 253.1 503 252.7 500.7 252.4Z" fill="#e8f1f8"/><path d="M500.7 248.1C503 248.1 509.3 247.6 514.5 248.1C519.6 248.6 525 250.2 531.7 251C538.4 251.8 548 252.8 554.7 253C561.4 253.1 567.1 252.4 571.9 251.8C576.7 251.3 580.3 250.3 583.4 249.5C586.5 248.8 587.7 248 590.6 247.2C593.4 246.5 597.5 245.9 600.6 245.2C603.7 244.6 605.9 244.3 609.2 243.2C612.6 242.1 616.9 240.2 620.7 238.6C624.6 237.1 628.4 235.2 632.2 233.8C636 232.3 639.9 231.1 643.7 230C647.5 229 651.8 227.6 655.2 227.4C658.5 227.2 660.5 228.3 663.8 228.9C667.2 229.4 671.5 230.2 675.3 230.6C679.1 231 682.9 231.1 686.8 231.5C690.6 231.8 694.9 232.6 698.3 232.9C701.6 233.2 704 233.3 706.9 233.2C709.8 233.1 712.1 232 715.5 232.3C718.8 232.6 723.2 234.3 727 235.2C730.8 236 735.1 237 738.5 237.5C741.8 238 743.3 238.1 747.1 238.1C750.9 238 757.6 237.2 761.4 237.2C765.3 237.2 766.7 237.4 770.1 238.1C773.4 238.7 778.4 240.4 781.6 240.9C784.7 241.5 785.9 241 788.7 241.5C791.6 242 795.7 243.1 798.8 243.8C801.9 244.5 804 245.5 807.4 245.8C810.7 246.1 815.5 245.9 818.9 245.8C822.2 245.7 824.2 245.2 827.5 245.2C830.9 245.3 835.6 245.8 839 246.1C842.3 246.4 844.1 247 847.6 247C851.1 247 857.9 246.2 860 246.1" fill="none" stroke="#1f77b4" stroke-width="4" stroke-linejoin="round" stroke-linecap="butt"/></g>
<path d="M500.7 250.4H860 M590.6 114.9V268.3" stroke="#000" stroke-width="2.9" fill="none"/>
<rect x="500.7" y="114.9" width="359.3" height="153.4" fill="none" stroke="#000" stroke-width="1.5"/>
<path d="M503.1 268.3v6.7M590.6 268.3v6.7M678.1 268.3v6.7M765.6 268.3v6.7M853.1 268.3v6.7M500.7 250.4h-6.7M500.7 155.4h-6.7" stroke="#000" stroke-width="1.5" fill="none"/>
<text x="503.1" y="296.8" font-size="19.13" text-anchor="middle">−10</text>
<text x="590.6" y="296.8" font-size="19.13" text-anchor="middle">0</text>
<text x="678.1" y="296.8" font-size="19.13" text-anchor="middle">10</text>
<text x="765.6" y="296.8" font-size="19.13" text-anchor="middle">20</text>
<text x="853.1" y="296.8" font-size="19.13" text-anchor="middle">30</text>
<text x="487.3" y="257.4" font-size="19.13" text-anchor="end">0</text>
<text x="487.3" y="162.4" font-size="19.13" text-anchor="end">1</text>
<text x="680.4" y="103.4" font-size="22.96" text-anchor="middle">AWBL (Resp)</text>
<g clip-path="url(#h21)"><g filter="url(#vb)">
<rect x="494.7" y="313" width="371.3" height="34" fill="url(#g22)"/>
<rect x="494.7" y="347" width="371.3" height="29" fill="url(#g23)"/>
<rect x="494.7" y="376" width="371.3" height="28" fill="url(#g24)"/>
<rect x="494.7" y="404" width="371.3" height="28" fill="url(#g25)"/>
<rect x="494.7" y="432" width="371.3" height="28" fill="url(#g26)"/>
<rect x="494.7" y="460" width="371.3" height="29" fill="url(#g27)"/>
<rect x="494.7" y="489" width="371.3" height="28" fill="url(#g28)"/>
<rect x="494.7" y="517" width="371.3" height="28" fill="url(#g29)"/>
<rect x="494.7" y="545" width="371.3" height="29" fill="url(#g30)"/>
<rect x="494.7" y="574" width="371.3" height="28" fill="url(#g31)"/>
<rect x="494.7" y="602" width="371.3" height="28" fill="url(#g32)"/>
<rect x="494.7" y="630" width="371.3" height="28" fill="url(#g33)"/>
<rect x="494.7" y="658" width="371.3" height="29" fill="url(#g34)"/>
<rect x="494.7" y="687" width="371.3" height="28" fill="url(#g35)"/>
<rect x="494.7" y="715" width="371.3" height="28" fill="url(#g36)"/>
<rect x="494.7" y="743" width="371.3" height="28" fill="url(#g37)"/>
<rect x="494.7" y="771" width="371.3" height="29" fill="url(#g38)"/>
<rect x="494.7" y="800" width="371.3" height="34" fill="url(#g39)"/>
</g></g>
<path d="M590.6 319V828" stroke="#000" stroke-width="2.6" fill="none"/>
<rect x="500.7" y="319" width="359.3" height="509" fill="none" stroke="#000" stroke-width="1.5"/>
<path d="M503.1 828v6.7M590.6 828v6.7M678.1 828v6.7M765.6 828v6.7M853.1 828v6.7M500.7 333.1h-6.7M500.7 361.4h-6.7M500.7 389.7h-6.7M500.7 418h-6.7M500.7 446.2h-6.7M500.7 474.5h-6.7M500.7 502.8h-6.7M500.7 531.1h-6.7M500.7 559.4h-6.7M500.7 587.6h-6.7M500.7 615.9h-6.7M500.7 644.2h-6.7M500.7 672.5h-6.7M500.7 700.8h-6.7M500.7 729h-6.7M500.7 757.3h-6.7M500.7 785.6h-6.7M500.7 813.9h-6.7" stroke="#000" stroke-width="1.5" fill="none"/>
<text x="503.1" y="856.9" font-size="19.13" text-anchor="middle">-10</text>
<text x="590.6" y="856.9" font-size="19.13" text-anchor="middle">0</text>
<text x="678.1" y="856.9" font-size="19.13" text-anchor="middle">10</text>
<text x="765.6" y="856.9" font-size="19.13" text-anchor="middle">20</text>
<text x="853.1" y="856.9" font-size="19.13" text-anchor="middle">30</text>
<text x="680.4" y="883.5" font-size="19.13" text-anchor="middle">Time (s)</text>
<g clip-path="url(#c40)"><path d="M1134.1 202.8C1138 202.9 1151.3 204 1157.6 203.3C1164 202.7 1167.7 199 1172 198.7C1176.3 198.4 1178.2 200.7 1183.5 201.6C1188.8 202.6 1197.9 205.1 1203.6 204.5C1209.2 203.9 1212.8 200.2 1217.4 198.2C1221.9 196.2 1227.4 197.2 1230.9 192.4C1234.3 187.6 1235.4 178.5 1238.1 169.4C1240.7 160.3 1243.8 145 1246.7 137.9C1249.5 130.7 1251.9 128.7 1255.3 126.4C1258.6 124.1 1262.9 124.1 1266.8 124.1C1270.6 124.1 1274.9 125 1278.3 126.4C1281.6 127.7 1283.5 129.5 1286.9 132.1C1290.2 134.7 1295 140.7 1298.4 142.2C1301.7 143.6 1303.6 139.5 1307 140.7C1310.3 141.9 1313.7 146.7 1318.5 149.3C1323.3 152 1330.9 154.8 1335.7 156.5C1340.5 158.2 1342.4 157.7 1347.2 159.4C1352 161.1 1359.6 164.9 1364.4 166.6C1369.2 168.2 1372.1 168.5 1375.9 169.4C1379.7 170.4 1384 170.6 1387.4 172.3C1390.7 174 1393.1 177.6 1396 179.5C1398.9 181.4 1400.8 183.5 1404.6 183.8C1408.5 184.1 1413.7 182.2 1419 181.5C1424.3 180.8 1431 179.8 1436.2 179.5C1441.5 179.2 1446.3 178.3 1450.6 179.5C1454.9 180.7 1459 184.5 1462.1 186.7C1465.2 188.8 1468.1 191.5 1469.2 192.4L1469.2 201C1468.1 200.6 1465.2 198.6 1462.1 198.2C1459 197.7 1454.9 197.7 1450.6 198.2C1446.3 198.6 1441 199.4 1436.2 201C1431.4 202.7 1426.2 206.5 1421.9 208.2C1417.6 209.9 1414.2 211.7 1410.4 211.1C1406.5 210.5 1402.7 206.2 1398.9 204.5C1395.1 202.8 1392.2 202.1 1387.4 201C1382.6 200 1375 199.5 1370.2 198.2C1365.4 196.8 1362.5 195.4 1358.7 193C1354.8 190.6 1351 186.1 1347.2 183.8C1343.4 181.6 1340.5 180.9 1335.7 179.5C1330.9 178.1 1323.7 176.6 1318.5 175.2C1313.2 173.8 1308.9 171.8 1304.1 170.9C1299.3 169.9 1294.1 170.4 1289.8 169.4C1285.4 168.5 1282.1 165.6 1278.3 165.1C1274.4 164.7 1270.6 165.9 1266.8 166.6C1262.9 167.3 1258.6 167.5 1255.3 169.4C1251.9 171.4 1249.5 173.8 1246.7 178.1C1243.8 182.4 1240.7 191.2 1238.1 195.3C1235.4 199.4 1234.3 200.6 1230.9 202.5C1227.4 204.4 1220.7 204.7 1217.4 206.8C1214 208.8 1213.1 213.9 1210.8 214.8C1208.5 215.8 1208.1 213.8 1203.6 212.5C1199 211.3 1188.8 208.4 1183.5 207.4C1178.2 206.3 1176.3 205.9 1172 206.2C1167.7 206.5 1164 208.9 1157.6 209.1C1151.3 209.3 1138 207.6 1134.1 207.4Z" fill="#e8f1f8"/><path d="M1134.1 205.1C1136.1 205 1142.2 204.3 1146.2 204.5C1150.1 204.7 1153.3 206.5 1157.6 206.2C1162 205.9 1167.7 202.8 1172 202.5C1176.3 202.2 1179.7 204 1183.5 204.5C1187.3 205 1191.6 204.9 1195 205.6C1198.3 206.4 1201 208.3 1203.6 209.1C1206.2 209.9 1208.5 211.6 1210.8 210.5C1213.1 209.4 1215.2 204.2 1217.4 202.5C1219.5 200.7 1221.4 201 1223.7 200.2C1225.9 199.4 1229 199.1 1230.9 197.6C1232.8 196.1 1233.5 194.7 1235.2 191C1236.9 187.2 1238.8 180.7 1240.9 175.2C1243.1 169.7 1245.7 162.5 1248.1 158C1250.5 153.4 1252.7 149.8 1255.3 147.9C1257.9 146 1261 146.9 1263.9 146.5C1266.8 146 1269.9 145.3 1272.5 145.3C1275.2 145.3 1277.3 145.6 1279.7 146.5C1282.1 147.4 1283.8 149 1286.9 150.8C1290 152.6 1295.3 156.6 1298.4 157.4C1301.5 158.2 1303.6 155.7 1305.5 155.7C1307.5 155.7 1307.7 156.3 1309.9 157.4C1312 158.5 1315.6 161 1318.5 162.3C1321.3 163.6 1324.2 164.3 1327.1 165.1C1330 165.9 1332.8 166.3 1335.7 167.1C1338.6 168 1341 168.3 1344.3 170C1347.7 171.7 1352.5 175.7 1355.8 177.5C1359.2 179.3 1361.1 179.6 1364.4 180.9C1367.8 182.2 1372.1 183.9 1375.9 185.2C1379.7 186.6 1384.5 188.2 1387.4 189C1390.3 189.8 1391 189.1 1393.1 190.1C1395.3 191.2 1397.9 194.2 1400.3 195.3C1402.7 196.3 1404.4 196.4 1407.5 196.4C1410.6 196.4 1415.6 195.9 1419 195.3C1422.3 194.7 1424.7 193.6 1427.6 193C1430.5 192.4 1432.9 192.4 1436.2 191.8C1439.6 191.3 1444.4 189.8 1447.7 189.5C1451.1 189.3 1452.7 189.2 1456.3 190.4C1459.9 191.6 1467.1 195.7 1469.2 196.7" fill="none" stroke="#1f77b4" stroke-width="3.6" stroke-linejoin="round" stroke-linecap="butt"/></g>
<path d="M1134.1 206.2H1469.2 M1217.4 119.5V224" stroke="#000" stroke-width="2.6" fill="none"/>
<rect x="1134.1" y="119.5" width="335.1" height="104.5" fill="none" stroke="#000" stroke-width="1.4"/>
<path d="M1135.6 224v6.1M1217.4 224v6.1M1299.2 224v6.1M1381.1 224v6.1M1463 224v6.1M1134.1 206.2h-6.1M1134.1 154.8h-6.1" stroke="#000" stroke-width="1.4" fill="none"/>
<text x="1135.6" y="249.9" font-size="17.35" text-anchor="middle">−10</text>
<text x="1217.4" y="249.9" font-size="17.35" text-anchor="middle">0</text>
<text x="1299.2" y="249.9" font-size="17.35" text-anchor="middle">10</text>
<text x="1381.1" y="249.9" font-size="17.35" text-anchor="middle">20</text>
<text x="1463" y="249.9" font-size="17.35" text-anchor="middle">30</text>
<text x="1122" y="212.5" font-size="17.35" text-anchor="end">0</text>
<text x="1122" y="161.1" font-size="17.35" text-anchor="end">1</text>
<text x="1301.7" y="109.1" font-size="20.82" text-anchor="middle">AWBR (Stim)</text>
<text transform="translate(1098.5 171.8) rotate(-90)" font-size="17.35" text-anchor="middle">Δ<tspan font-style="italic">F</tspan>/<tspan font-style="italic">F</tspan><tspan font-size="12.14" dy="2.8">0</tspan></text>
<g clip-path="url(#h41)"><g filter="url(#vb)">
<rect x="1128.1" y="260.8" width="347.1" height="32.2" fill="url(#g42)"/>
<rect x="1128.1" y="293" width="347.1" height="25" fill="url(#g43)"/>
<rect x="1128.1" y="318" width="347.1" height="26" fill="url(#g44)"/>
<rect x="1128.1" y="344" width="347.1" height="31.9" fill="url(#g45)"/>
</g></g>
<path d="M1217.4 266.8V369.9" stroke="#000" stroke-width="2.3" fill="none"/>
<rect x="1134.1" y="266.8" width="335.1" height="103.1" fill="none" stroke="#000" stroke-width="1.4"/>
<path d="M1135.6 369.9v6.1M1217.4 369.9v6.1M1299.2 369.9v6.1M1381.1 369.9v6.1M1463 369.9v6.1M1134.1 279.7h-6.1M1134.1 305.5h-6.1M1134.1 331.2h-6.1M1134.1 357h-6.1" stroke="#000" stroke-width="1.4" fill="none"/>
<text x="1135.6" y="396.1" font-size="17.35" text-anchor="middle">-10</text>
<text x="1217.4" y="396.1" font-size="17.35" text-anchor="middle">0</text>
<text x="1299.2" y="396.1" font-size="17.35" text-anchor="middle">10</text>
<text x="1381.1" y="396.1" font-size="17.35" text-anchor="middle">20</text>
<text x="1463" y="396.1" font-size="17.35" text-anchor="middle">30</text>
<text x="1301.7" y="420.2" font-size="17.35" text-anchor="middle">Time (s)</text>
<text x="1122" y="286" font-size="17.35" text-anchor="end">1</text>
<text x="1122" y="311.8" font-size="17.35" text-anchor="end">2</text>
<text x="1122" y="337.6" font-size="17.35" text-anchor="end">3</text>
<text x="1122" y="363.3" font-size="17.35" text-anchor="end">4</text>
<text transform="translate(1099.9 318.4) rotate(-90)" font-size="17.35" text-anchor="middle"><tspan x="0" y="-19.4">Sorted</tspan><tspan x="0" y="0">Trials</tspan></text>
<g clip-path="url(#c46)"><path d="M1507.8 201C1511.8 201.3 1524.8 201.8 1531.7 202.5C1538.5 203.2 1540.3 205 1548.9 205.3C1557.5 205.7 1576.3 205 1583.4 204.5C1590.4 204 1587.3 203.5 1591.1 202.5C1594.9 201.4 1601.9 200.8 1606.3 198.2C1610.8 195.5 1614.5 190.5 1617.8 186.7C1621.2 182.8 1623.6 178.4 1626.4 175.2C1629.3 171.9 1632.2 169.1 1635.1 167.1C1637.9 165.2 1640.8 164 1643.7 163.7C1646.5 163.4 1648.9 164.1 1652.3 165.1C1655.6 166.2 1659.9 168.8 1663.8 170C1667.6 171.2 1671.4 171.6 1675.3 172.3C1679.1 173 1683.4 173.9 1686.8 174.3C1690.1 174.7 1692.5 173.5 1695.4 174.6C1698.2 175.7 1701.1 178 1704 180.9C1706.9 183.9 1709.7 189.3 1712.6 192.4C1715.5 195.5 1717.9 198.2 1721.2 199.6C1724.6 201 1728.4 201.5 1732.7 201C1737 200.6 1742.3 197.7 1747.1 196.7C1751.8 195.8 1756.2 195.3 1761.4 195.3C1766.7 195.3 1772 196.2 1778.7 196.7C1785.4 197.2 1794.9 197.2 1801.6 198.2C1808.3 199.1 1814.1 202.2 1818.9 202.5C1823.6 202.7 1826.4 200.3 1830.3 199.6C1834.3 198.9 1840.6 198.4 1842.7 198.2L1842.7 221.1C1840.6 220.7 1834.3 219.8 1830.3 218.3C1826.4 216.7 1823.6 213.6 1818.9 211.9C1814.1 210.3 1809.3 209.5 1801.6 208.2C1794 207 1781.5 204.6 1772.9 204.5C1764.3 204.3 1755.7 206.1 1749.9 207.4C1744.2 208.6 1742.3 211 1738.4 211.9C1734.6 212.9 1731.3 214 1727 213.1C1722.7 212.2 1716.9 208.5 1712.6 206.8C1708.3 205 1705.4 203.4 1701.1 202.5C1696.8 201.5 1691.1 201.3 1686.8 201C1682.4 200.8 1680.1 201.3 1675.3 201C1670.5 200.8 1663.3 199.8 1658 199.6C1652.8 199.4 1647.5 199.1 1643.7 199.6C1639.8 200.1 1637.9 201.3 1635.1 202.5C1632.2 203.7 1629.3 205.6 1626.4 206.8C1623.6 208 1621.2 208.9 1617.8 209.6C1614.5 210.4 1610.8 211.2 1606.3 211.1C1601.9 211 1594.9 208.9 1591.1 209.1C1587.3 209.2 1590.4 211.4 1583.4 211.9C1576.3 212.5 1557.5 213.3 1548.9 212.5C1540.3 211.8 1538.5 208.1 1531.7 207.4C1524.8 206.6 1511.8 208.1 1507.8 208.2Z" fill="#e8f1f8"/><path d="M1507.8 204.5C1509.9 204.3 1515.3 203.2 1520.2 203.3C1525.1 203.4 1532.6 204.1 1537.4 205.1C1542.2 206 1544.1 208.4 1548.9 209.1C1553.7 209.7 1560.4 209.3 1566.1 209.1C1571.9 208.9 1579.2 208.5 1583.4 207.9C1587.5 207.4 1588.2 206 1591.1 205.6C1594 205.2 1597.6 206 1600.6 205.6C1603.6 205.2 1606.3 204.5 1609.2 203.3C1612.1 202.2 1615 200.8 1617.8 198.7C1620.7 196.7 1623.6 193.3 1626.4 191C1629.3 188.6 1632.2 186.2 1635.1 184.7C1637.9 183.1 1640.8 181.8 1643.7 181.5C1646.5 181.2 1649.4 182.2 1652.3 182.7C1655.2 183.1 1658 183.9 1660.9 184.4C1663.8 184.9 1666.6 185.2 1669.5 185.8C1672.4 186.4 1675.3 187.6 1678.1 188.1C1681 188.6 1684.4 188.7 1686.8 188.7C1689.1 188.7 1690.1 187.6 1692.5 188.1C1694.9 188.6 1698.2 190.2 1701.1 191.8C1704 193.5 1706.9 196.3 1709.7 198.2C1712.6 200 1715.2 201.5 1718.3 202.8C1721.5 204 1725 205.7 1728.4 205.9C1731.7 206.1 1735.3 204.6 1738.4 203.9C1741.6 203.2 1743.7 202.5 1747.1 201.9C1750.4 201.3 1755.2 200.9 1758.6 200.5C1761.9 200 1763.8 199.1 1767.2 199C1770.5 199 1774.8 199.8 1778.7 200.2C1782.5 200.5 1786.3 200.5 1790.1 201C1794 201.6 1798.3 202.7 1801.6 203.3C1805 204 1807.4 204.4 1810.2 205.1C1813.1 205.7 1816 206.8 1818.9 207.4C1821.7 207.9 1824.6 208.3 1827.5 208.2C1830.3 208.1 1833.6 206.9 1836.1 206.8C1838.6 206.6 1841.6 207.3 1842.7 207.4" fill="none" stroke="#1f77b4" stroke-width="3.6" stroke-linejoin="round" stroke-linecap="butt"/></g>
<path d="M1507.8 206.2H1842.7 M1591.1 119.5V224" stroke="#000" stroke-width="2.6" fill="none"/>
<rect x="1507.8" y="119.5" width="334.9" height="104.5" fill="none" stroke="#000" stroke-width="1.4"/>
<path d="M1509.3 224v6.1M1591.1 224v6.1M1672.8 224v6.1M1754.6 224v6.1M1836.3 224v6.1M1507.8 206.2h-6.1M1507.8 154.8h-6.1" stroke="#000" stroke-width="1.4" fill="none"/>
<text x="1509.3" y="249.9" font-size="17.35" text-anchor="middle">−10</text>
<text x="1591.1" y="249.9" font-size="17.35" text-anchor="middle">0</text>
<text x="1672.8" y="249.9" font-size="17.35" text-anchor="middle">10</text>
<text x="1754.6" y="249.9" font-size="17.35" text-anchor="middle">20</text>
<text x="1836.3" y="249.9" font-size="17.35" text-anchor="middle">30</text>
<text x="1495.7" y="212.5" font-size="17.35" text-anchor="end">0</text>
<text x="1495.7" y="161.1" font-size="17.35" text-anchor="end">1</text>
<text x="1675.2" y="109.1" font-size="20.82" text-anchor="middle">AWBL (Resp)</text>
<g clip-path="url(#h47)"><g filter="url(#vb)">
<rect x="1501.8" y="260.8" width="346.9" height="32.2" fill="url(#g48)"/>
<rect x="1501.8" y="293" width="346.9" height="25" fill="url(#g49)"/>
<rect x="1501.8" y="318" width="346.9" height="26" fill="url(#g50)"/>
<rect x="1501.8" y="344" width="346.9" height="31.9" fill="url(#g51)"/>
</g></g>
<path d="M1591.1 266.8V369.9" stroke="#000" stroke-width="2.3" fill="none"/>
<rect x="1507.8" y="266.8" width="334.9" height="103.1" fill="none" stroke="#000" stroke-width="1.4"/>
<path d="M1509.3 369.9v6.1M1591.1 369.9v6.1M1672.8 369.9v6.1M1754.6 369.9v6.1M1836.3 369.9v6.1M1507.8 279.7h-6.1M1507.8 305.5h-6.1M1507.8 331.2h-6.1M1507.8 357h-6.1" stroke="#000" stroke-width="1.4" fill="none"/>
<text x="1509.3" y="396.1" font-size="17.35" text-anchor="middle">-10</text>
<text x="1591.1" y="396.1" font-size="17.35" text-anchor="middle">0</text>
<text x="1672.8" y="396.1" font-size="17.35" text-anchor="middle">10</text>
<text x="1754.6" y="396.1" font-size="17.35" text-anchor="middle">20</text>
<text x="1836.3" y="396.1" font-size="17.35" text-anchor="middle">30</text>
<text x="1675.2" y="420.2" font-size="17.35" text-anchor="middle">Time (s)</text>
<g clip-path="url(#c52)"><path d="M138.4 1066.1C140.2 1066.7 138.9 1068.7 149.3 1069.5C159.8 1070.4 189.5 1071.2 201 1071C212.5 1070.7 214.4 1069.8 218.3 1068.1C222.1 1066.4 221.6 1065.5 224 1060.9C226.4 1056.4 229.8 1048.5 232.6 1040.8C235.5 1033.2 238.4 1022.6 241.2 1015C244.1 1007.3 247 1000.6 249.9 994.9C252.7 989.1 255.6 983.8 258.5 980.5C261.3 977.3 264.2 975.8 267.1 975.3C270 974.9 273.1 975.6 275.7 977.6C278.3 979.7 280.5 983.9 282.9 987.7C285.3 991.5 287.4 996.8 290.1 1000.6C292.7 1004.4 295.8 1008 298.7 1010.7C301.6 1013.3 304.4 1015 307.3 1016.4C310.2 1017.9 312.6 1018.3 315.9 1019.3C319.3 1020.2 323.6 1021.4 327.4 1022.2C331.2 1022.9 335.1 1022.4 338.9 1023.6C342.7 1024.8 346.5 1027.2 350.4 1029.3C354.2 1031.5 358 1034.6 361.9 1036.5C365.7 1038.4 369.5 1039.6 373.3 1040.8C377.2 1042 380 1042.8 384.8 1043.7C389.6 1044.6 397.3 1045.4 402.1 1046C406.9 1046.6 409.7 1046.5 413.6 1047.4C417.4 1048.4 421.2 1050.7 425 1051.7C428.9 1052.8 432.7 1053.1 436.5 1053.8C440.4 1054.4 444.2 1055 448 1055.8C451.8 1056.5 455.7 1057.4 459.5 1058.1C463.3 1058.7 467.2 1058.8 471 1059.5C474.8 1060.2 480.3 1061.9 482.2 1062.4L482.2 1085.3C480.3 1085.2 475.7 1085 471 1084.5C466.3 1084 459.5 1083 453.8 1082.5C448 1081.9 442.3 1081.8 436.5 1081C430.8 1080.3 424.1 1079.1 419.3 1078.2C414.5 1077.2 412.6 1075.8 407.8 1075.3C403 1074.8 396.3 1075.9 390.6 1075.3C384.8 1074.7 378.1 1073 373.3 1071.8C368.6 1070.6 366.6 1069.7 361.9 1068.1C357.1 1066.5 349.4 1063.9 344.6 1062.4C339.8 1060.8 337.9 1059.4 333.1 1058.6C328.4 1057.8 320.7 1058.1 315.9 1057.5C311.1 1056.9 308.3 1056.1 304.4 1055.2C300.6 1054.2 296.8 1053.2 292.9 1051.7C289.1 1050.3 285.3 1048 281.4 1046.6C277.6 1045.1 273.8 1043.5 270 1043.1C266.1 1042.7 262.3 1043.2 258.5 1044.3C254.6 1045.3 250.3 1046.7 247 1049.4C243.6 1052.2 241.2 1057.6 238.4 1060.9C235.5 1064.3 232.1 1067.4 229.8 1069.5C227.4 1071.7 225.9 1072.8 224 1073.9C222.1 1074.9 222.1 1075.5 218.3 1075.9C214.4 1076.2 212.5 1076.2 201 1076.2C189.5 1076.1 159.8 1075.8 149.3 1075.3C138.9 1074.8 140.2 1073.4 138.4 1073Z" fill="#e8f1f8"/><path d="M138.4 1069.5C139.3 1069.5 141.3 1068.5 143.6 1069C145.9 1069.5 147.4 1071.7 152.2 1072.4C157 1073.1 165.1 1072.8 172.3 1073C179.5 1073.2 188.6 1073.4 195.3 1073.6C202 1073.8 208.5 1074.4 212.5 1074.1C216.6 1073.9 217.8 1072.8 219.7 1071.8C221.6 1070.8 222.3 1070.2 224 1068.1C225.7 1066.1 227.4 1063.6 229.8 1059.5C232.1 1055.4 235.5 1049 238.4 1043.7C241.2 1038.4 244.1 1032.7 247 1027.9C249.9 1023.1 253 1018 255.6 1015C258.2 1012 260.6 1010.9 262.8 1009.8C264.9 1008.8 266.4 1008.7 268.5 1008.7C270.7 1008.7 273.3 1009 275.7 1009.8C278.1 1010.6 280.5 1012 282.9 1013.5C285.3 1015.1 287.4 1017.2 290.1 1019.3C292.7 1021.3 295.8 1024 298.7 1025.9C301.6 1027.8 304.4 1029.2 307.3 1030.8C310.2 1032.3 313 1033.9 315.9 1035.1C318.8 1036.3 321.4 1037.1 324.5 1038C327.6 1038.8 331.2 1039.1 334.6 1040C337.9 1040.8 341 1041.9 344.6 1043.1C348.2 1044.4 352.3 1045.9 356.1 1047.4C359.9 1049 364.3 1050.9 367.6 1052.3C371 1053.7 373.3 1054.8 376.2 1055.8C379.1 1056.7 381.5 1057.3 384.8 1058.1C388.2 1058.8 392.5 1059.7 396.3 1060.1C400.2 1060.5 404.9 1060.1 407.8 1060.4C410.7 1060.6 411.2 1061.1 413.6 1061.8C415.9 1062.5 419.3 1063.8 422.2 1064.7C425 1065.6 427.9 1066.9 430.8 1067.2C433.7 1067.6 436.5 1066.4 439.4 1066.7C442.3 1066.9 445.1 1068.3 448 1068.7C450.9 1069 453.8 1068.4 456.6 1068.7C459.5 1068.9 462.4 1069.5 465.2 1070.1C468.1 1070.7 471 1071.8 473.9 1072.4C476.7 1073 480.8 1073.4 482.2 1073.6" fill="none" stroke="#1f77b4" stroke-width="3.7" stroke-linejoin="round" stroke-linecap="butt"/></g>
<path d="M138.4 1071.6H482.2 M224 969.6V1091.7" stroke="#000" stroke-width="2.7" fill="none"/>
<rect x="138.4" y="969.6" width="343.8" height="122.1" fill="none" stroke="#000" stroke-width="1.4"/>
<path d="M140 1091.7v6.2M224 1091.7v6.2M308 1091.7v6.2M392 1091.7v6.2M476 1091.7v6.2M138.4 1071.6h-6.2M138.4 1024.2h-6.2M138.4 976.8h-6.2" stroke="#000" stroke-width="1.4" fill="none"/>
<text x="140" y="1118.2" font-size="17.80" text-anchor="middle">−10</text>
<text x="224" y="1118.2" font-size="17.80" text-anchor="middle">0</text>
<text x="308" y="1118.2" font-size="17.80" text-anchor="middle">10</text>
<text x="392" y="1118.2" font-size="17.80" text-anchor="middle">20</text>
<text x="476" y="1118.2" font-size="17.80" text-anchor="middle">30</text>
<text x="125.9" y="1078.1" font-size="17.80" text-anchor="end">0</text>
<text x="125.9" y="1030.7" font-size="17.80" text-anchor="end">1</text>
<text x="125.9" y="983.3" font-size="17.80" text-anchor="end">2</text>
<text x="310.3" y="958.9" font-size="21.36" text-anchor="middle">I3 (Stim)</text>
<text transform="translate(102 1030.7) rotate(-90)" font-size="17.80" text-anchor="middle">Δ<tspan font-style="italic">F</tspan>/<tspan font-style="italic">F</tspan><tspan font-size="12.46" dy="2.8">0</tspan></text>
<g clip-path="url(#h53)"><g filter="url(#vb)">
<rect x="132.4" y="1129" width="355.8" height="32" fill="url(#g54)"/>
<rect x="132.4" y="1161" width="355.8" height="25" fill="url(#g55)"/>
<rect x="132.4" y="1186" width="355.8" height="26" fill="url(#g56)"/>
<rect x="132.4" y="1212" width="355.8" height="26" fill="url(#g57)"/>
<rect x="132.4" y="1238" width="355.8" height="25" fill="url(#g58)"/>
<rect x="132.4" y="1263" width="355.8" height="26" fill="url(#g59)"/>
<rect x="132.4" y="1289" width="355.8" height="31.5" fill="url(#g60)"/>
</g></g>
<path d="M224 1135V1314.5" stroke="#000" stroke-width="2.4" fill="none"/>
<rect x="138.4" y="1135" width="343.8" height="179.5" fill="none" stroke="#000" stroke-width="1.4"/>
<path d="M140 1314.5v6.2M224 1314.5v6.2M308 1314.5v6.2M392 1314.5v6.2M476 1314.5v6.2M138.4 1147.8h-6.2M138.4 1173.5h-6.2M138.4 1199.1h-6.2M138.4 1224.8h-6.2M138.4 1250.4h-6.2M138.4 1276h-6.2M138.4 1301.7h-6.2" stroke="#000" stroke-width="1.4" fill="none"/>
<text x="140" y="1341.4" font-size="17.80" text-anchor="middle">-10</text>
<text x="224" y="1341.4" font-size="17.80" text-anchor="middle">0</text>
<text x="308" y="1341.4" font-size="17.80" text-anchor="middle">10</text>
<text x="392" y="1341.4" font-size="17.80" text-anchor="middle">20</text>
<text x="476" y="1341.4" font-size="17.80" text-anchor="middle">30</text>
<text x="310.3" y="1366.1" font-size="17.80" text-anchor="middle">Time (s)</text>
<text x="125.9" y="1154.3" font-size="17.80" text-anchor="end">1</text>
<text x="125.9" y="1180" font-size="17.80" text-anchor="end">2</text>
<text x="125.9" y="1205.6" font-size="17.80" text-anchor="end">3</text>
<text x="125.9" y="1231.2" font-size="17.80" text-anchor="end">4</text>
<text x="125.9" y="1256.9" font-size="17.80" text-anchor="end">5</text>
<text x="125.9" y="1282.5" font-size="17.80" text-anchor="end">6</text>
<text x="125.9" y="1308.2" font-size="17.80" text-anchor="end">7</text>
<text transform="translate(103.3 1224.8) rotate(-90)" font-size="17.80" text-anchor="middle"><tspan x="0" y="-19.9">Sorted</tspan><tspan x="0" y="0">Trials</tspan></text>
<g clip-path="url(#c61)"><path d="M522.2 1069.5C525.7 1069.9 534.9 1071.9 543.2 1071.8C551.5 1071.7 563.3 1069.4 571.9 1069C580.5 1068.6 588.9 1069.5 594.9 1069.5C600.9 1069.6 604.4 1070.1 607.8 1069.5C611.2 1069 612.3 1068.1 615 1066.1C617.6 1064.1 620.7 1059.8 623.6 1057.5C626.5 1055.2 629.3 1053.9 632.2 1052.3C635.1 1050.7 638 1049.5 640.8 1048C643.7 1046.5 646.6 1044.3 649.4 1043.1C652.3 1041.9 654.7 1040.6 658.1 1040.8C661.4 1041 665.2 1043.4 669.5 1044.3C673.9 1045.1 678.6 1045.1 683.9 1046C689.2 1046.9 695.4 1048.4 701.1 1049.4C706.9 1050.5 712.6 1051.1 718.4 1052.3C724.1 1053.5 730.3 1055.8 735.6 1056.6C740.9 1057.5 744.7 1057.6 750 1057.5C755.2 1057.3 761.4 1055.9 767.2 1055.8C772.9 1055.6 778.2 1056.1 784.4 1056.6C790.6 1057.1 797.8 1057.8 804.5 1058.6C811.2 1059.4 819.4 1061.1 824.6 1061.5C829.9 1061.9 832.3 1060.5 836.1 1060.9C839.9 1061.4 842.6 1063.4 847.6 1064.4C852.6 1065.3 862.9 1066.3 866 1066.7L866 1074.1C863.9 1074.1 857.4 1074.6 853.3 1073.9C849.3 1073.1 846.6 1070.4 841.9 1069.5C837.1 1068.7 830.9 1069.4 824.6 1068.7C818.4 1068 811.2 1066.4 804.5 1065.5C797.8 1064.6 790.6 1063.6 784.4 1063.2C778.2 1062.8 773.9 1062.9 767.2 1063.2C760.5 1063.6 750.9 1065.4 744.2 1065.2C737.5 1065.1 732.7 1063.5 727 1062.4C721.2 1061.3 715.5 1059.6 709.8 1058.6C704 1057.7 698.3 1057.2 692.5 1056.6C686.8 1056 681 1055.8 675.3 1055.2C669.5 1054.6 662.8 1052.6 658.1 1052.9C653.3 1053.1 650.4 1055 646.6 1056.6C642.7 1058.2 638.4 1060.7 635.1 1062.4C631.7 1064 629.3 1065 626.5 1066.7C623.6 1068.3 621 1071.2 617.9 1072.4C614.7 1073.7 611.6 1073.9 607.8 1074.1C604 1074.4 600.9 1074 594.9 1074.1C588.9 1074.2 580.5 1074.2 571.9 1074.7C563.3 1075.2 551.5 1077.2 543.2 1077C534.9 1076.8 525.7 1074.1 522.2 1073.6Z" fill="#e8f1f8"/><path d="M522.2 1071.6C523.8 1071.8 528.2 1072.5 531.7 1073C535.2 1073.5 538.4 1074.3 543.2 1074.4C548 1074.6 555.6 1074.3 560.4 1073.9C565.2 1073.4 568.8 1072.1 571.9 1071.6C575 1071 575.3 1070.4 579.1 1070.4C582.9 1070.5 590.1 1071.6 594.9 1071.8C599.7 1072.1 604.4 1072.2 607.8 1071.8C611.2 1071.5 612.3 1071.1 615 1069.5C617.6 1068 620.7 1064.4 623.6 1062.4C626.5 1060.4 629.3 1058.8 632.2 1057.5C635.1 1056.2 638 1055.9 640.8 1054.6C643.7 1053.4 647 1051.2 649.4 1050C651.8 1048.8 653.3 1048 655.2 1047.4C657.1 1046.9 659 1046.8 660.9 1046.9C662.8 1047 664.3 1047.4 666.7 1048C669.1 1048.6 672.4 1050.2 675.3 1050.6C678.2 1051 681 1050 683.9 1050.3C686.8 1050.6 689.6 1051.8 692.5 1052.3C695.4 1052.8 698.3 1053.2 701.1 1053.5C704 1053.8 706.9 1053.6 709.8 1054C712.6 1054.5 715.5 1055.3 718.4 1056C721.2 1056.8 724.1 1057.7 727 1058.3C729.9 1059 732.7 1059.3 735.6 1059.8C738.5 1060.3 741.8 1061.3 744.2 1061.5C746.6 1061.7 747.6 1061.3 750 1060.9C752.4 1060.6 755.7 1059.8 758.6 1059.5C761.4 1059.2 764.3 1059.1 767.2 1059.2C770.1 1059.3 772.9 1060 775.8 1060.1C778.7 1060.1 781.1 1059.3 784.4 1059.5C787.8 1059.7 792.6 1061.1 795.9 1061.5C799.3 1061.9 801.2 1061.7 804.5 1062.1C807.9 1062.5 812.7 1063.3 816 1063.8C819.4 1064.3 821.3 1065.1 824.6 1065.2C828 1065.4 832.8 1064.3 836.1 1064.7C839.5 1065 841.9 1066.3 844.7 1067.2C847.6 1068.2 849.8 1069.6 853.3 1070.1C856.9 1070.6 863.9 1070.4 866 1070.4" fill="none" stroke="#1f77b4" stroke-width="3.7" stroke-linejoin="round" stroke-linecap="butt"/></g>
<path d="M522.2 1071.6H866 M607.8 969.6V1091.7" stroke="#000" stroke-width="2.7" fill="none"/>
<rect x="522.2" y="969.6" width="343.8" height="122.1" fill="none" stroke="#000" stroke-width="1.4"/>
<path d="M523.7 1091.7v6.2M607.8 1091.7v6.2M691.9 1091.7v6.2M776 1091.7v6.2M860.1 1091.7v6.2M522.2 1071.6h-6.2M522.2 1024.2h-6.2M522.2 976.8h-6.2" stroke="#000" stroke-width="1.4" fill="none"/>
<text x="523.7" y="1118.2" font-size="17.80" text-anchor="middle">−10</text>
<text x="607.8" y="1118.2" font-size="17.80" text-anchor="middle">0</text>
<text x="691.9" y="1118.2" font-size="17.80" text-anchor="middle">10</text>
<text x="776" y="1118.2" font-size="17.80" text-anchor="middle">20</text>
<text x="860.1" y="1118.2" font-size="17.80" text-anchor="middle">30</text>
<text x="509.7" y="1078.1" font-size="17.80" text-anchor="end">0</text>
<text x="509.7" y="1030.7" font-size="17.80" text-anchor="end">1</text>
<text x="509.7" y="983.3" font-size="17.80" text-anchor="end">2</text>
<text x="694.1" y="958.9" font-size="21.36" text-anchor="middle">M1 (Resp)</text>
<g clip-path="url(#h62)"><g filter="url(#vb)">
<rect x="516.2" y="1129" width="355.8" height="32" fill="url(#g63)"/>
<rect x="516.2" y="1161" width="355.8" height="25" fill="url(#g64)"/>
<rect x="516.2" y="1186" width="355.8" height="26" fill="url(#g65)"/>
<rect x="516.2" y="1212" width="355.8" height="26" fill="url(#g66)"/>
<rect x="516.2" y="1238" width="355.8" height="25" fill="url(#g67)"/>
<rect x="516.2" y="1263" width="355.8" height="26" fill="url(#g68)"/>
<rect x="516.2" y="1289" width="355.8" height="31.5" fill="url(#g69)"/>
</g></g>
<path d="M607.8 1135V1314.5" stroke="#000" stroke-width="2.4" fill="none"/>
<rect x="522.2" y="1135" width="343.8" height="179.5" fill="none" stroke="#000" stroke-width="1.4"/>
<path d="M523.7 1314.5v6.2M607.8 1314.5v6.2M691.9 1314.5v6.2M776 1314.5v6.2M860.1 1314.5v6.2M522.2 1147.8h-6.2M522.2 1173.5h-6.2M522.2 1199.1h-6.2M522.2 1224.8h-6.2M522.2 1250.4h-6.2M522.2 1276h-6.2M522.2 1301.7h-6.2" stroke="#000" stroke-width="1.4" fill="none"/>
<text x="523.7" y="1341.4" font-size="17.80" text-anchor="middle">-10</text>
<text x="607.8" y="1341.4" font-size="17.80" text-anchor="middle">0</text>
<text x="691.9" y="1341.4" font-size="17.80" text-anchor="middle">10</text>
<text x="776" y="1341.4" font-size="17.80" text-anchor="middle">20</text>
<text x="860.1" y="1341.4" font-size="17.80" text-anchor="middle">30</text>
<text x="694.1" y="1366.1" font-size="17.80" text-anchor="middle">Time (s)</text>
<g clip-path="url(#c70)"><path d="M1160.5 1026.4C1162.9 1024.7 1169.6 1018 1174.9 1016.3C1180.1 1014.6 1187.9 1017.5 1192.1 1016.3C1196.3 1015.1 1197.5 1008.9 1200.1 1009.1C1202.8 1009.4 1204.5 1014.2 1207.9 1017.7C1211.3 1021.3 1216.3 1029.7 1220.8 1030.7C1225.4 1031.6 1231.4 1026.6 1235.2 1023.5C1239 1020.4 1240.2 1016.6 1243.8 1012C1247.4 1007.5 1252.9 997.4 1256.7 996.2C1260.6 995 1263.2 1007 1266.8 1004.8C1270.4 1002.7 1275.4 988.1 1278.3 983.3C1281.1 978.5 1281.6 978.5 1284 976.1C1286.4 973.7 1289.3 970.7 1292.6 968.9C1296 967.2 1300.8 966.4 1304.1 965.5C1307.5 964.5 1310.3 962.4 1312.7 963.2C1315.1 964 1316.1 968.4 1318.5 970.4C1320.9 972.4 1324.2 975.5 1327.1 975.2C1330 975 1333.1 970.6 1335.7 968.9C1338.3 967.3 1340.7 964.5 1342.9 965.5C1345 966.4 1347 971 1348.6 974.7C1350.3 978.4 1351.5 984 1352.9 987.6C1354.4 991.2 1355.3 994.8 1357.2 996.2C1359.2 997.6 1362 998.1 1364.4 996.2C1366.8 994.3 1367.5 986.9 1371.6 984.7C1375.7 982.6 1385.2 984.5 1388.8 983.3C1392.4 982.1 1391.2 978.6 1393.1 977.5C1395.1 976.5 1397.9 975.8 1400.3 977C1402.7 978.2 1404.9 979.8 1407.5 984.7C1410.1 989.6 1413.5 1003.6 1416.1 1006.3C1418.7 1008.9 1420.4 1002.2 1423.3 1000.5C1426.2 998.8 1429.3 995.5 1433.3 996.2C1437.4 996.9 1442.9 1002.7 1447.7 1004.8C1452.5 1007 1458 1007.6 1462.1 1009.1C1466.1 1010.7 1468.3 1014.1 1472.1 1014.3C1475.9 1014.5 1481.4 1012.9 1485 1010.6C1488.7 1008.3 1492.7 1002.2 1494.2 1000.5L1494.2 1006.8C1492.7 1008.6 1488.7 1015 1485 1017.2C1481.4 1019.4 1475.9 1020.4 1472.1 1020C1468.3 1019.7 1466.1 1016.5 1462.1 1014.9C1458 1013.3 1452.5 1012.7 1447.7 1010.6C1442.9 1008.4 1437.9 1001.5 1433.3 1002C1428.8 1002.4 1423.3 1009.8 1420.4 1013.4C1417.6 1017.1 1418 1022.6 1416.1 1024.1C1414.2 1025.5 1411.3 1024.5 1408.9 1022.1C1406.5 1019.6 1404.2 1013.2 1401.8 1009.1C1399.4 1005.1 1396.7 1001 1394.6 997.6C1392.4 994.3 1392.7 990.2 1388.8 989C1385 987.8 1375.7 988.1 1371.6 990.5C1367.5 992.9 1366.8 1001.5 1364.4 1003.4C1362 1005.3 1359.2 1001.2 1357.2 1002C1355.3 1002.7 1354.6 1005.5 1352.9 1007.7C1351.3 1009.9 1350.1 1013.2 1347.2 1014.9C1344.3 1016.6 1339.5 1015.8 1335.7 1017.7C1331.9 1019.7 1327.6 1023.7 1324.2 1026.4C1320.9 1029 1318.5 1033.9 1315.6 1033.5C1312.7 1033.2 1309.9 1027.2 1307 1024.1C1304.1 1021 1301.2 1017.6 1298.4 1014.9C1295.5 1012.1 1293.1 1010.3 1289.8 1007.7C1286.4 1005.1 1282.1 997.9 1278.3 999.1C1274.4 1000.3 1270.4 1012.6 1266.8 1014.9C1263.2 1017.1 1260.6 1011.7 1256.7 1012.6C1252.9 1013.4 1247.4 1017.5 1243.8 1020C1240.2 1022.6 1239 1025.1 1235.2 1027.8C1231.4 1030.5 1225.4 1037.1 1220.8 1036.4C1216.3 1035.7 1211.3 1026.1 1207.9 1023.5C1204.5 1020.9 1202.8 1020.7 1200.1 1020.6C1197.5 1020.5 1196.3 1022.8 1192.1 1022.9C1187.9 1023 1180.1 1019.9 1174.9 1021.2C1169.6 1022.5 1162.9 1029.1 1160.5 1030.7Z" fill="#e8f1f8"/><path d="M1160.5 1028.7C1162 1028.7 1166.7 1030.3 1169.1 1028.7C1171.5 1027 1172.5 1020.2 1174.9 1018.6C1177.3 1017 1180.6 1019 1183.5 1019.2C1186.4 1019.4 1189.3 1020.4 1192.1 1019.8C1194.9 1019.1 1197.8 1015.4 1200.1 1015.5C1202.5 1015.5 1204.2 1017.7 1206.5 1020C1208.7 1022.3 1211.3 1027 1213.6 1029.2C1215.9 1031.5 1217.9 1033.8 1220.3 1033.5C1222.6 1033.3 1225.5 1029.1 1228 1027.8C1230.5 1026.5 1233.3 1026.2 1235.2 1025.5C1237.1 1024.8 1238.1 1025 1239.5 1023.5C1240.9 1022 1242.1 1018 1243.8 1016.3C1245.5 1014.6 1247.4 1015.4 1249.5 1013.4C1251.7 1011.5 1254.1 1005.3 1256.7 1004.8C1259.4 1004.3 1263.2 1010.1 1265.3 1010.6C1267.5 1011 1267.5 1010.9 1269.6 1007.7C1271.8 1004.5 1275.9 994.4 1278.3 991.3C1280.7 988.2 1282.1 989.2 1284 989C1285.9 988.9 1287.6 990.5 1289.8 990.5C1291.9 990.5 1294.8 988.8 1296.9 989C1299.1 989.3 1300.5 991 1302.7 991.9C1304.8 992.8 1307.5 993.1 1309.9 994.2C1312.2 995.3 1314.6 997.1 1317 998.2C1319.4 999.4 1322.3 1000.9 1324.2 1001.1C1326.1 1001.3 1326.6 1001.1 1328.5 999.7C1330.4 998.2 1333.3 993.7 1335.7 992.5C1338.1 991.3 1340.7 992.7 1342.9 992.5C1345 992.3 1346.2 990.2 1348.6 991.3C1351 992.4 1354.6 997.7 1357.2 999.1C1359.9 1000.5 1362 1001.6 1364.4 999.7C1366.8 997.7 1369.7 989.8 1371.6 987.6C1373.5 985.3 1373 986.4 1375.9 986.2C1378.8 985.9 1385.7 985.1 1388.8 986.2C1391.9 987.2 1391.9 990.5 1394.6 992.5C1397.2 994.5 1402 995.9 1404.6 998.2C1407.3 1000.5 1408.7 1004.2 1410.4 1006.3C1412 1008.3 1413.5 1009.9 1414.7 1010.6C1415.9 1011.2 1416.1 1011.2 1417.6 1010C1419 1008.8 1420.7 1005.2 1423.3 1003.4C1425.9 1001.6 1430.2 999.2 1433.3 999.1C1436.5 999 1439.6 1001.4 1442 1002.8C1444.4 1004.3 1445.6 1006.6 1447.7 1007.7C1449.9 1008.7 1452.7 1008.4 1454.9 1009.1C1457 1009.9 1458.7 1011.3 1460.6 1012C1462.5 1012.7 1464.5 1012.6 1466.4 1013.4C1468.3 1014.3 1470 1017.3 1472.1 1017.2C1474.3 1017.1 1477.1 1013.4 1479.3 1012.9C1481.5 1012.3 1483.5 1015.5 1485 1014C1486.6 1012.5 1487.2 1005.7 1488.8 1004C1490.3 1002.2 1493.3 1003.5 1494.2 1003.4" fill="none" stroke="#1f77b4" stroke-width="3.6" stroke-linejoin="round" stroke-linecap="butt"/></g>
<path d="M1160.5 1026.7H1494.2 M1243.8 958V1049.6" stroke="#000" stroke-width="2.6" fill="none"/>
<rect x="1160.5" y="958" width="333.7" height="91.6" fill="none" stroke="#000" stroke-width="1.4"/>
<path d="M1162.4 1049.6v6M1243.8 1049.6v6M1325.2 1049.6v6M1406.6 1049.6v6M1488 1049.6v6M1160.5 1026.7h-6M1160.5 960.3h-6" stroke="#000" stroke-width="1.4" fill="none"/>
<text x="1162.4" y="1075.1" font-size="17.10" text-anchor="middle">−10</text>
<text x="1243.8" y="1075.1" font-size="17.10" text-anchor="middle">0</text>
<text x="1325.2" y="1075.1" font-size="17.10" text-anchor="middle">10</text>
<text x="1406.6" y="1075.1" font-size="17.10" text-anchor="middle">20</text>
<text x="1488" y="1075.1" font-size="17.10" text-anchor="middle">30</text>
<text x="1148.5" y="1032.9" font-size="17.10" text-anchor="end">0</text>
<text x="1148.5" y="966.5" font-size="17.10" text-anchor="end">1</text>
<text x="1327.3" y="947.7" font-size="20.52" text-anchor="middle">I3 (Stim)</text>
<text transform="translate(1125.4 1003.8) rotate(-90)" font-size="17.10" text-anchor="middle">Δ<tspan font-style="italic">F</tspan>/<tspan font-style="italic">F</tspan><tspan font-size="11.97" dy="2.7">0</tspan></text>
<g clip-path="url(#h71)"><g filter="url(#vb)">
<rect x="1154.5" y="1085" width="345.7" height="36" fill="url(#g72)"/>
<rect x="1154.5" y="1121" width="345.7" height="36" fill="url(#g73)"/>
</g></g>
<path d="M1243.8 1091V1151" stroke="#000" stroke-width="2.3" fill="none"/>
<rect x="1160.5" y="1091" width="333.7" height="60" fill="none" stroke="#000" stroke-width="1.4"/>
<path d="M1162.4 1151v6M1243.8 1151v6M1325.2 1151v6M1406.6 1151v6M1488 1151v6M1160.5 1106h-6M1160.5 1136h-6" stroke="#000" stroke-width="1.4" fill="none"/>
<text x="1162.4" y="1176.8" font-size="17.10" text-anchor="middle">-10</text>
<text x="1243.8" y="1176.8" font-size="17.10" text-anchor="middle">0</text>
<text x="1325.2" y="1176.8" font-size="17.10" text-anchor="middle">10</text>
<text x="1406.6" y="1176.8" font-size="17.10" text-anchor="middle">20</text>
<text x="1488" y="1176.8" font-size="17.10" text-anchor="middle">30</text>
<text x="1327.3" y="1200.6" font-size="17.10" text-anchor="middle">Time (s)</text>
<text x="1148.5" y="1112.2" font-size="17.10" text-anchor="end">1</text>
<text x="1148.5" y="1142.2" font-size="17.10" text-anchor="end">2</text>
<text transform="translate(1126.8 1121) rotate(-90)" font-size="17.10" text-anchor="middle"><tspan x="0" y="-19.2">Sorted</tspan><tspan x="0" y="0">Trials</tspan></text>
<g clip-path="url(#c74)"><path d="M1532.8 1020.6C1534.5 1021.8 1538.1 1027.4 1543.2 1027.8C1548.2 1028.2 1556.3 1023.3 1563.3 1022.9C1570.2 1022.5 1578.1 1023.8 1584.8 1025.2C1591.5 1026.7 1598.3 1031.3 1603.5 1031.5C1608.6 1031.7 1612.2 1029.6 1615.8 1026.4C1619.4 1023.1 1621.6 1019.4 1625 1012C1628.5 1004.6 1632.7 989.3 1636.5 981.8C1640.3 974.4 1644.4 970.1 1648 967.5C1651.6 964.9 1655.2 965.3 1658 966.1C1660.9 966.8 1662.3 967.5 1665.2 971.8C1668.1 976.1 1671.7 985.7 1675.3 991.9C1678.9 998.1 1682.7 1004.3 1686.8 1009.1C1690.8 1013.9 1694.9 1018.8 1699.7 1020.6C1704.5 1022.4 1708.8 1020.5 1715.5 1020C1722.2 1019.6 1733.2 1017.3 1739.9 1017.7C1746.6 1018.2 1749.2 1021.2 1755.7 1022.9C1762.1 1024.6 1771 1026.7 1778.7 1027.8C1786.3 1028.9 1794.2 1028.4 1801.6 1029.2C1809 1030 1816 1031.2 1823.2 1032.7C1830.3 1034.2 1837.5 1037.8 1844.7 1038.4C1851.9 1039 1862.7 1036.8 1866.2 1036.4L1866.2 1043.6C1862.7 1043.7 1851.9 1044.9 1844.7 1044.2C1837.5 1043.5 1830.3 1040.7 1823.2 1039.3C1816 1037.9 1809 1036.4 1801.6 1035.6C1794.2 1034.7 1786.3 1035.6 1778.7 1034.4C1771 1033.3 1762.1 1030.4 1755.7 1028.7C1749.2 1026.9 1745.6 1024.4 1739.9 1024.1C1734.1 1023.7 1726.2 1024.9 1721.2 1026.4C1716.2 1027.8 1713.3 1032.2 1709.7 1032.7C1706.1 1033.2 1703.5 1031.7 1699.7 1029.2C1695.8 1026.7 1690.3 1021.1 1686.8 1017.7C1683.2 1014.4 1681 1013.4 1678.1 1009.1C1675.3 1004.8 1672.9 997.9 1669.5 991.9C1666.2 985.9 1661.6 976.1 1658 973.2C1654.4 970.4 1651.6 971.8 1648 974.7C1644.4 977.5 1640.3 982.8 1636.5 990.5C1632.7 998.1 1628.5 1013.4 1625 1020.6C1621.6 1027.8 1619.4 1030.8 1615.8 1033.5C1612.2 1036.3 1608.6 1037.8 1603.5 1037.3C1598.3 1036.8 1591.5 1032.1 1584.8 1030.7C1578.1 1029.2 1570.2 1028.2 1563.3 1028.7C1556.3 1029.1 1548.2 1033.9 1543.2 1033.5C1538.1 1033.2 1534.5 1027.6 1532.8 1026.4Z" fill="#e8f1f8"/><path d="M1532.8 1023.5C1533.6 1024 1535.7 1025.2 1537.4 1026.4C1539.1 1027.6 1541 1030.1 1543.2 1030.7C1545.3 1031.2 1548.2 1030 1550.3 1029.8C1552.5 1029.7 1553.9 1030.5 1556.1 1029.8C1558.2 1029.1 1560.9 1026.7 1563.3 1025.8C1565.7 1024.9 1568 1024.6 1570.4 1024.6C1572.8 1024.6 1575.2 1025.3 1577.6 1025.8C1580 1026.3 1582.6 1027.1 1584.8 1027.8C1587 1028.5 1588.6 1028.9 1590.5 1029.8C1592.5 1030.7 1594.1 1032.2 1596.3 1033C1598.4 1033.7 1601.3 1034.4 1603.5 1034.4C1605.6 1034.4 1607.2 1033.7 1609.2 1033C1611.3 1032.2 1614 1030.9 1615.8 1029.8C1617.6 1028.7 1618.6 1028.6 1620.1 1026.4C1621.7 1024.1 1623.2 1020.9 1625 1016.3C1626.8 1011.8 1628.8 1004.1 1630.8 999.1C1632.7 994.1 1634.6 990 1636.5 986.2C1638.4 982.3 1640.3 978.6 1642.2 976.1C1644.2 973.6 1646.1 972.3 1648 971.2C1649.9 970.2 1651.3 969.5 1653.7 969.8C1656.1 970.1 1659.7 970.5 1662.3 973.2C1665 976 1667.4 982.1 1669.5 986.2C1671.7 990.2 1673.4 994.1 1675.3 997.6C1677.2 1001.2 1679.1 1005.2 1681 1007.7C1682.9 1010.2 1684.6 1010.8 1686.8 1012.9C1688.9 1014.9 1691.8 1018.2 1693.9 1020C1696.1 1021.9 1697.5 1023.2 1699.7 1024.1C1701.8 1025 1704.5 1025.7 1706.9 1025.5C1709.2 1025.3 1711.6 1023.4 1714 1022.9C1716.4 1022.4 1718.3 1022.5 1721.2 1022.6C1724.1 1022.7 1728.2 1023.8 1731.3 1023.5C1734.4 1023.2 1737 1021 1739.9 1020.6C1742.8 1020.2 1745.9 1020.4 1748.5 1021.2C1751.1 1022 1753.3 1024.5 1755.7 1025.5C1758.1 1026.5 1760.5 1026.9 1762.9 1027.2C1765.3 1027.5 1767.4 1026.7 1770 1027.2C1772.7 1027.8 1775.8 1029.6 1778.7 1030.7C1781.5 1031.7 1784.6 1033.3 1787.3 1033.5C1789.9 1033.8 1792.1 1032.3 1794.4 1032.1C1796.8 1031.9 1799.2 1031.5 1801.6 1032.1C1804 1032.7 1806.4 1034.7 1808.8 1035.6C1811.2 1036.4 1813.6 1037.2 1816 1037.3C1818.4 1037.3 1821 1036.2 1823.2 1035.8C1825.3 1035.5 1826.8 1034.6 1828.9 1035C1831.1 1035.3 1833.5 1036.8 1836.1 1037.9C1838.7 1038.9 1842.3 1040.7 1844.7 1041.3C1847.1 1041.9 1848.3 1041.8 1850.5 1041.6C1852.6 1041.3 1855 1040.1 1857.6 1039.9C1860.3 1039.6 1864.8 1039.9 1866.2 1039.9" fill="none" stroke="#1f77b4" stroke-width="3.6" stroke-linejoin="round" stroke-linecap="butt"/></g>
<path d="M1532.8 1026.7H1866.2 M1615.8 958V1049.6" stroke="#000" stroke-width="2.6" fill="none"/>
<rect x="1532.8" y="958" width="333.4" height="91.6" fill="none" stroke="#000" stroke-width="1.4"/>
<path d="M1534.4 1049.6v6M1615.8 1049.6v6M1697.2 1049.6v6M1778.6 1049.6v6M1860 1049.6v6M1532.8 1026.7h-6M1532.8 960.3h-6" stroke="#000" stroke-width="1.4" fill="none"/>
<text x="1534.4" y="1075.1" font-size="17.10" text-anchor="middle">−10</text>
<text x="1615.8" y="1075.1" font-size="17.10" text-anchor="middle">0</text>
<text x="1697.2" y="1075.1" font-size="17.10" text-anchor="middle">10</text>
<text x="1778.6" y="1075.1" font-size="17.10" text-anchor="middle">20</text>
<text x="1860" y="1075.1" font-size="17.10" text-anchor="middle">30</text>
<text x="1520.8" y="1032.9" font-size="17.10" text-anchor="end">0</text>
<text x="1520.8" y="966.5" font-size="17.10" text-anchor="end">1</text>
<text x="1699.5" y="947.7" font-size="20.52" text-anchor="middle">M1 (Resp)</text>
<g clip-path="url(#h75)"><g filter="url(#vb)">
<rect x="1526.8" y="1085" width="345.4" height="36" fill="url(#g76)"/>
<rect x="1526.8" y="1121" width="345.4" height="36" fill="url(#g77)"/>
</g></g>
<path d="M1615.8 1091V1151" stroke="#000" stroke-width="2.3" fill="none"/>
<rect x="1532.8" y="1091" width="333.4" height="60" fill="none" stroke="#000" stroke-width="1.4"/>
<path d="M1534.4 1151v6M1615.8 1151v6M1697.2 1151v6M1778.6 1151v6M1860 1151v6M1532.8 1106h-6M1532.8 1136h-6" stroke="#000" stroke-width="1.4" fill="none"/>
<text x="1534.4" y="1176.8" font-size="17.10" text-anchor="middle">-10</text>
<text x="1615.8" y="1176.8" font-size="17.10" text-anchor="middle">0</text>
<text x="1697.2" y="1176.8" font-size="17.10" text-anchor="middle">10</text>
<text x="1778.6" y="1176.8" font-size="17.10" text-anchor="middle">20</text>
<text x="1860" y="1176.8" font-size="17.10" text-anchor="middle">30</text>
<text x="1699.5" y="1200.6" font-size="17.10" text-anchor="middle">Time (s)</text>
<g clip-path="url(#c78)"><path d="M141.6 1571.8C144.3 1571.5 152.8 1568.9 158 1569.5C163.1 1570.2 168 1574.4 172.3 1575.9C176.6 1577.3 179 1577.9 183.8 1578.2C188.6 1578.4 195.3 1578.1 201 1577.6C206.8 1577.1 214 1577.6 218.3 1575.3C222.6 1573 223.5 1565.5 226.9 1563.8C230.2 1562.1 234.5 1565.5 238.4 1565.2C242.2 1565 246.5 1565 249.9 1562.4C253.2 1559.7 255.6 1555.4 258.5 1549.4C261.3 1543.5 264.2 1534.6 267.1 1526.5C270 1518.3 272.8 1507.3 275.7 1500.6C278.6 1493.9 281.4 1490 284.3 1486.3C287.2 1482.5 290.1 1479.7 292.9 1478.2C295.8 1476.8 298.7 1476.5 301.6 1477.6C304.4 1478.7 306.8 1482.7 310.2 1484.8C313.5 1487 317.8 1488.9 321.7 1490.6C325.5 1492.2 329.8 1494.9 333.1 1494.9C336.5 1494.9 339.1 1491.8 341.8 1490.6C344.4 1489.4 346.1 1487.7 348.9 1487.7C351.8 1487.7 355.4 1489.4 359 1490.6C362.6 1491.8 367.1 1493.9 370.5 1494.9C373.8 1495.8 376.2 1494.6 379.1 1496.3C382 1498 384.4 1502.8 387.7 1504.9C391.1 1507.1 395.4 1508 399.2 1509.2C403 1510.4 406.9 1511.2 410.7 1512.1C414.5 1513.1 418.3 1514.7 422.2 1515C426 1515.2 430.3 1513.8 433.7 1513.5C437 1513.3 438.9 1512.3 442.3 1513.5C445.6 1514.7 449.9 1519 453.8 1520.7C457.6 1522.4 462 1522.6 465.2 1523.6C468.5 1524.6 472 1526 473.3 1526.5L473.3 1576.7C472 1576.4 468.5 1575.3 465.2 1574.7C462 1574.1 457.6 1573.4 453.8 1573C449.9 1572.6 446.6 1573 442.3 1572.4C438 1571.8 432.2 1570.7 427.9 1569.5C423.6 1568.3 419.8 1566.9 416.4 1565.2C413.1 1563.6 411.2 1560.9 407.8 1559.5C404.5 1558.1 400.2 1557.6 396.3 1556.6C392.5 1555.7 388.7 1554.5 384.8 1553.8C381 1553 377.7 1553 373.3 1552.3C369 1551.6 363.8 1549.5 359 1549.4C354.2 1549.3 348.9 1551.4 344.6 1551.7C340.3 1552.1 337 1552.1 333.1 1551.7C329.3 1551.4 325.5 1550.1 321.7 1549.4C317.8 1548.8 313.5 1547.8 310.2 1548C306.8 1548.2 304.4 1549.7 301.6 1550.9C298.7 1552.1 295.8 1553 292.9 1555.2C290.1 1557.3 287.2 1560.8 284.3 1563.8C281.4 1566.8 279.1 1571.1 275.7 1573C272.4 1574.9 268.5 1574.9 264.2 1575.3C259.9 1575.7 254.2 1575.3 249.9 1575.3C245.5 1575.3 242.2 1575.7 238.4 1575.3C234.5 1574.9 230.2 1571.8 226.9 1573C223.5 1574.2 222.6 1580.2 218.3 1582.5C214 1584.8 206.8 1585.8 201 1586.8C195.3 1587.7 188.6 1588.5 183.8 1588.2C179 1588 176.6 1586.6 172.3 1585.3C168 1584 163.1 1581.6 158 1580.5C152.8 1579.4 144.3 1579 141.6 1578.7Z" fill="#e8f1f8"/><path d="M141.6 1575.3C142.9 1575.2 146.6 1574.6 149.3 1574.7C152.1 1574.8 155.1 1575.2 158 1575.9C160.8 1576.5 163.7 1577.9 166.6 1578.7C169.4 1579.6 172.6 1580.3 175.2 1581C177.8 1581.8 180.2 1582.9 182.4 1583C184.5 1583.2 186 1582 188.1 1581.9C190.3 1581.8 192.7 1582.7 195.3 1582.5C197.9 1582.2 201 1581.1 203.9 1580.5C206.8 1579.8 210.1 1579 212.5 1578.7C214.9 1578.4 216.6 1579.3 218.3 1578.7C219.9 1578.2 221.1 1577.1 222.6 1575.3C224 1573.5 225.7 1569.4 226.9 1568.1C228.1 1566.8 228.3 1567.2 229.8 1567.5C231.2 1567.9 233.1 1569.8 235.5 1570.1C237.9 1570.5 241.2 1569.9 244.1 1569.5C247 1569.2 250.3 1568.9 252.7 1568.1C255.1 1567.3 256.6 1566.2 258.5 1564.7C260.4 1563.1 262.3 1560.7 264.2 1558.6C266.1 1556.6 268.3 1554.6 270 1552.3C271.6 1550.1 272.8 1547.8 274.3 1545.1C275.7 1542.5 277.1 1539.1 278.6 1536.5C280 1534 281.4 1531.6 282.9 1529.9C284.3 1528.2 285.8 1528 287.2 1526.5C288.6 1524.9 290.1 1522.4 291.5 1520.7C292.9 1519 294.4 1517.5 295.8 1516.4C297.2 1515.3 298.7 1514.6 300.1 1514.1C301.6 1513.6 302.5 1513.3 304.4 1513.5C306.3 1513.8 309.2 1515.1 311.6 1515.8C314 1516.6 316.1 1517 318.8 1517.9C321.4 1518.7 324.5 1519.8 327.4 1520.7C330.3 1521.7 333.4 1523.6 336 1523.6C338.6 1523.6 341 1521.5 343.2 1520.7C345.3 1519.9 346.8 1519 348.9 1518.7C351.1 1518.5 353.5 1518.9 356.1 1519.3C358.7 1519.7 361.9 1520.7 364.7 1521.3C367.6 1521.9 370.5 1522 373.3 1522.7C376.2 1523.5 379.1 1524.5 382 1525.6C384.8 1526.7 387.7 1528.3 390.6 1529.3C393.5 1530.3 396.8 1530.9 399.2 1531.6C401.6 1532.4 403 1533.1 404.9 1533.6C406.9 1534.2 408.8 1534.2 410.7 1535.1C412.6 1535.9 414.5 1537.6 416.4 1538.8C418.3 1540 419.8 1541.6 422.2 1542.3C424.6 1542.9 427.4 1542.8 430.8 1542.8C434.1 1542.9 438.9 1542 442.3 1542.6C445.6 1543.1 448.5 1545.1 450.9 1546C453.3 1546.9 454.7 1547.6 456.6 1548C458.5 1548.4 460.5 1548.3 462.4 1548.6C464.3 1548.8 466.3 1549.1 468.1 1549.4C469.9 1549.8 472.4 1550.6 473.3 1550.9" fill="none" stroke="#1f77b4" stroke-width="3.7" stroke-linejoin="round" stroke-linecap="butt"/></g>
<path d="M141.6 1577.6H473.3 M224.3 1471.3V1600.3" stroke="#000" stroke-width="2.7" fill="none"/>
<rect x="141.6" y="1471.3" width="331.7" height="129" fill="none" stroke="#000" stroke-width="1.4"/>
<path d="M143.3 1600.3v6.2M224.3 1600.3v6.2M305.3 1600.3v6.2M386.3 1600.3v6.2M467.3 1600.3v6.2M141.6 1577.6h-6.2M141.6 1532h-6.2M141.6 1486.5h-6.2" stroke="#000" stroke-width="1.4" fill="none"/>
<text x="143.3" y="1626.6" font-size="17.67" text-anchor="middle">−10</text>
<text x="224.3" y="1626.6" font-size="17.67" text-anchor="middle">0</text>
<text x="305.3" y="1626.6" font-size="17.67" text-anchor="middle">10</text>
<text x="386.3" y="1626.6" font-size="17.67" text-anchor="middle">20</text>
<text x="467.3" y="1626.6" font-size="17.67" text-anchor="middle">30</text>
<text x="129.2" y="1584" font-size="17.67" text-anchor="end">0.0</text>
<text x="129.2" y="1538.5" font-size="17.67" text-anchor="end">0.5</text>
<text x="129.2" y="1492.9" font-size="17.67" text-anchor="end">1.0</text>
<text x="307.4" y="1460.7" font-size="21.20" text-anchor="middle">RMDL (Stim)</text>
<text transform="translate(88.6 1535.8) rotate(-90)" font-size="17.67" text-anchor="middle">Δ<tspan font-style="italic">F</tspan>/<tspan font-style="italic">F</tspan><tspan font-size="12.37" dy="2.8">0</tspan></text>
<g clip-path="url(#h79)"><g filter="url(#vb)">
<rect x="135.6" y="1638.8" width="343.7" height="31.2" fill="url(#g80)"/>
<rect x="135.6" y="1670" width="343.7" height="25" fill="url(#g81)"/>
<rect x="135.6" y="1695" width="343.7" height="25" fill="url(#g82)"/>
<rect x="135.6" y="1720" width="343.7" height="25" fill="url(#g83)"/>
<rect x="135.6" y="1745" width="343.7" height="25" fill="url(#g84)"/>
<rect x="135.6" y="1770" width="343.7" height="25" fill="url(#g85)"/>
<rect x="135.6" y="1795" width="343.7" height="25" fill="url(#g86)"/>
<rect x="135.6" y="1820" width="343.7" height="25" fill="url(#g87)"/>
<rect x="135.6" y="1845" width="343.7" height="31.5" fill="url(#g88)"/>
</g></g>
<path d="M224.3 1644.8V1870.5" stroke="#000" stroke-width="2.4" fill="none"/>
<rect x="141.6" y="1644.8" width="331.7" height="225.7" fill="none" stroke="#000" stroke-width="1.4"/>
<path d="M143.3 1870.5v6.2M224.3 1870.5v6.2M305.3 1870.5v6.2M386.3 1870.5v6.2M467.3 1870.5v6.2M141.6 1657.3h-6.2M141.6 1682.4h-6.2M141.6 1707.5h-6.2M141.6 1732.6h-6.2M141.6 1757.7h-6.2M141.6 1782.7h-6.2M141.6 1807.8h-6.2M141.6 1832.9h-6.2M141.6 1858h-6.2" stroke="#000" stroke-width="1.4" fill="none"/>
<text x="143.3" y="1897.2" font-size="17.67" text-anchor="middle">-10</text>
<text x="224.3" y="1897.2" font-size="17.67" text-anchor="middle">0</text>
<text x="305.3" y="1897.2" font-size="17.67" text-anchor="middle">10</text>
<text x="386.3" y="1897.2" font-size="17.67" text-anchor="middle">20</text>
<text x="467.3" y="1897.2" font-size="17.67" text-anchor="middle">30</text>
<text x="307.4" y="1921.7" font-size="17.67" text-anchor="middle">Time (s)</text>
<text x="129.2" y="1663.8" font-size="17.67" text-anchor="end">1</text>
<text x="129.2" y="1688.9" font-size="17.67" text-anchor="end">2</text>
<text x="129.2" y="1713.9" font-size="17.67" text-anchor="end">3</text>
<text x="129.2" y="1739" font-size="17.67" text-anchor="end">4</text>
<text x="129.2" y="1764.1" font-size="17.67" text-anchor="end">5</text>
<text x="129.2" y="1789.2" font-size="17.67" text-anchor="end">6</text>
<text x="129.2" y="1814.3" font-size="17.67" text-anchor="end">7</text>
<text x="129.2" y="1839.3" font-size="17.67" text-anchor="end">8</text>
<text x="129.2" y="1864.4" font-size="17.67" text-anchor="end">9</text>
<text transform="translate(106.8 1757.7) rotate(-90)" font-size="17.67" text-anchor="middle"><tspan x="0" y="-19.8">Sorted</tspan><tspan x="0" y="0">Trials</tspan></text>
<g clip-path="url(#c89)"><path d="M530.3 1573.9C532.2 1574.1 535.8 1575.1 541.7 1575.3C547.7 1575.5 559.7 1575.2 566.2 1575.3C572.6 1575.4 575.7 1575.4 580.5 1575.9C585.3 1576.3 590.6 1578 594.9 1578.2C599.2 1578.3 603.4 1577.4 606.4 1576.7C609.3 1576 609.8 1574.6 612.7 1573.9C615.6 1573.1 619.9 1572.9 623.6 1572.4C627.3 1571.9 631.7 1571.9 635.1 1571C638.4 1570 640.8 1568.6 643.7 1566.7C646.6 1564.8 649 1561.9 652.3 1559.5C655.7 1557.1 660 1554.7 663.8 1552.3C667.6 1549.9 671.5 1547.3 675.3 1545.1C679.1 1543 682.9 1541.8 686.8 1539.4C690.6 1537 694.4 1533.2 698.3 1530.8C702.1 1528.4 706.4 1526.4 709.8 1525C713.1 1523.7 715.5 1522.6 718.4 1522.7C721.2 1522.9 723.6 1524.6 727 1525.9C730.3 1527.2 734.6 1529.5 738.5 1530.8C742.3 1532.1 746.1 1532.9 750 1533.6C753.8 1534.4 757.6 1534.6 761.4 1535.1C765.3 1535.6 769.1 1536 772.9 1536.5C776.8 1537 780.6 1537.2 784.4 1538C788.3 1538.7 792.1 1539.9 795.9 1540.8C799.7 1541.8 803.6 1543 807.4 1543.7C811.2 1544.4 815.1 1545 818.9 1545.1C822.7 1545.2 826.1 1544.5 830.4 1544.3C834.7 1544 840.9 1543.4 844.7 1543.7C848.6 1544 850.5 1545.4 853.3 1546C856.2 1546.6 860.5 1547 862 1547.1L862 1594C859.6 1593.8 852.4 1593.4 847.6 1593.1C842.8 1592.8 838 1592.5 833.2 1591.9C828.5 1591.4 824.2 1590.4 818.9 1589.6C813.6 1588.9 807.4 1588.3 801.7 1587.4C795.9 1586.4 790.2 1584.7 784.4 1583.9C778.7 1583.1 772.9 1582.6 767.2 1582.5C761.4 1582.4 754.7 1583.6 750 1583.3C745.2 1583.1 742.8 1582.9 738.5 1581C734.2 1579.2 728.9 1574.1 724.1 1572.4C719.3 1570.7 714.1 1571.1 709.8 1571C705.4 1570.9 703.1 1570.6 698.3 1571.8C693.5 1573 685.8 1576.4 681 1578.2C676.2 1579.9 673.4 1581.3 669.5 1582.5C665.7 1583.7 661.9 1584.5 658.1 1585.3C654.2 1586.2 650.4 1587.4 646.6 1587.4C642.7 1587.4 638.9 1586 635.1 1585.3C631.3 1584.7 627.3 1583.8 623.6 1583.3C619.9 1582.9 615.6 1581.8 612.7 1582.5C609.8 1583.1 609.3 1586.5 606.4 1587.4C603.4 1588.2 599.2 1588.2 594.9 1587.4C590.6 1586.5 585.3 1583.7 580.5 1582.5C575.7 1581.3 572.6 1580.3 566.2 1580.2C559.7 1580 547.7 1581.7 541.7 1581.6C535.8 1581.5 532.2 1579.9 530.3 1579.6Z" fill="#e8f1f8"/><path d="M530.3 1576.7C531.2 1576.6 534.1 1575.5 536 1575.9C537.9 1576.2 538.6 1578.2 541.7 1578.7C544.9 1579.3 550.6 1579.3 554.7 1579C558.7 1578.8 562.8 1577.4 566.2 1577.3C569.5 1577.2 572.4 1577.8 574.8 1578.2C577.2 1578.5 578.4 1578.7 580.5 1579.6C582.7 1580.5 585.3 1582.5 587.7 1583.3C590.1 1584.1 592.2 1584.3 594.9 1584.5C597.5 1584.7 601.1 1584.8 603.5 1584.5C605.9 1584.1 607.7 1583.5 609.2 1582.5C610.8 1581.4 610.8 1579 612.7 1578.2C614.6 1577.3 618.4 1577.6 620.7 1577.6C623 1577.6 624.3 1578.3 626.5 1578.2C628.6 1578.1 631.3 1577 633.6 1577C636 1577 638.2 1578.4 640.8 1578.2C643.5 1577.9 646.8 1576.2 649.4 1575.3C652.1 1574.3 654.2 1573.3 656.6 1572.4C659 1571.6 661.4 1571.5 663.8 1570.1C666.2 1568.8 668.6 1565.8 671 1564.4C673.4 1562.9 675.8 1562.3 678.2 1561.5C680.6 1560.7 682.9 1560.3 685.3 1559.5C687.7 1558.7 690.1 1557.8 692.5 1556.6C694.9 1555.4 697.3 1553.6 699.7 1552.3C702.1 1551 704.5 1549.7 706.9 1548.9C709.3 1548.1 711.7 1547.6 714.1 1547.4C716.5 1547.3 718.8 1547.8 721.2 1548C723.6 1548.2 726 1548.2 728.4 1548.9C730.8 1549.6 733 1550.9 735.6 1552.3C738.2 1553.8 741.6 1556.5 744.2 1557.5C746.8 1558.4 749 1557.7 751.4 1558.1C753.8 1558.4 756.2 1559.3 758.6 1559.5C761 1559.7 763.4 1559.4 765.8 1559.5C768.1 1559.6 770.5 1560.1 772.9 1560.4C775.3 1560.6 778 1560.9 780.1 1560.9C782.3 1560.9 783.7 1560.1 785.9 1560.4C788 1560.6 790.4 1561.7 793 1562.4C795.7 1563 798.8 1563.8 801.7 1564.4C804.5 1565 807.9 1565.8 810.3 1566.1C812.7 1566.4 813.6 1565.9 816 1566.1C818.4 1566.3 821.8 1567.2 824.6 1567.5C827.5 1567.9 830.6 1568 833.2 1568.1C835.9 1568.2 838.3 1568.2 840.4 1568.1C842.6 1568 844 1567.2 846.2 1567.5C848.3 1567.9 850.7 1569.5 853.3 1570.1C856 1570.7 860.5 1570.8 862 1571" fill="none" stroke="#1f77b4" stroke-width="3.7" stroke-linejoin="round" stroke-linecap="butt"/></g>
<path d="M530.3 1577.6H862 M612.7 1471.3V1600.3" stroke="#000" stroke-width="2.7" fill="none"/>
<rect x="530.3" y="1471.3" width="331.7" height="129" fill="none" stroke="#000" stroke-width="1.4"/>
<path d="M531.6 1600.3v6.2M612.7 1600.3v6.2M693.8 1600.3v6.2M774.9 1600.3v6.2M856 1600.3v6.2M530.3 1577.6h-6.2M530.3 1532h-6.2M530.3 1486.5h-6.2" stroke="#000" stroke-width="1.4" fill="none"/>
<text x="531.6" y="1626.6" font-size="17.67" text-anchor="middle">−10</text>
<text x="612.7" y="1626.6" font-size="17.67" text-anchor="middle">0</text>
<text x="693.8" y="1626.6" font-size="17.67" text-anchor="middle">10</text>
<text x="774.9" y="1626.6" font-size="17.67" text-anchor="middle">20</text>
<text x="856" y="1626.6" font-size="17.67" text-anchor="middle">30</text>
<text x="517.9" y="1584" font-size="17.67" text-anchor="end">0.0</text>
<text x="517.9" y="1538.5" font-size="17.67" text-anchor="end">0.5</text>
<text x="517.9" y="1492.9" font-size="17.67" text-anchor="end">1.0</text>
<text x="696.1" y="1460.7" font-size="21.20" text-anchor="middle">AVEL (Resp)</text>
<g clip-path="url(#h90)"><g filter="url(#vb)">
<rect x="524.3" y="1638.8" width="343.7" height="31.2" fill="url(#g91)"/>
<rect x="524.3" y="1670" width="343.7" height="25" fill="url(#g92)"/>
<rect x="524.3" y="1695" width="343.7" height="25" fill="url(#g93)"/>
<rect x="524.3" y="1720" width="343.7" height="25" fill="url(#g94)"/>
<rect x="524.3" y="1745" width="343.7" height="25" fill="url(#g95)"/>
<rect x="524.3" y="1770" width="343.7" height="25" fill="url(#g96)"/>
<rect x="524.3" y="1795" width="343.7" height="25" fill="url(#g97)"/>
<rect x="524.3" y="1820" width="343.7" height="25" fill="url(#g98)"/>
<rect x="524.3" y="1845" width="343.7" height="31.5" fill="url(#g99)"/>
</g></g>
<path d="M612.7 1644.8V1870.5" stroke="#000" stroke-width="2.4" fill="none"/>
<rect x="530.3" y="1644.8" width="331.7" height="225.7" fill="none" stroke="#000" stroke-width="1.4"/>
<path d="M531.6 1870.5v6.2M612.7 1870.5v6.2M693.8 1870.5v6.2M774.9 1870.5v6.2M856 1870.5v6.2M530.3 1657.3h-6.2M530.3 1682.4h-6.2M530.3 1707.5h-6.2M530.3 1732.6h-6.2M530.3 1757.7h-6.2M530.3 1782.7h-6.2M530.3 1807.8h-6.2M530.3 1832.9h-6.2M530.3 1858h-6.2" stroke="#000" stroke-width="1.4" fill="none"/>
<text x="531.6" y="1897.2" font-size="17.67" text-anchor="middle">-10</text>
<text x="612.7" y="1897.2" font-size="17.67" text-anchor="middle">0</text>
<text x="693.8" y="1897.2" font-size="17.67" text-anchor="middle">10</text>
<text x="774.9" y="1897.2" font-size="17.67" text-anchor="middle">20</text>
<text x="856" y="1897.2" font-size="17.67" text-anchor="middle">30</text>
<text x="696.1" y="1921.7" font-size="17.67" text-anchor="middle">Time (s)</text>
<g clip-path="url(#c100)"><path d="M1107.1 1549.8C1109.9 1550.2 1117.4 1552.2 1123.5 1552.1C1129.6 1552 1138.1 1550.6 1143.6 1549.2C1149.1 1547.9 1151.7 1544.3 1156.5 1544.1C1161.3 1543.8 1167.3 1546.7 1172.3 1547.8C1177.3 1548.9 1183.2 1550.9 1186.7 1550.7C1190.1 1550.4 1190.6 1549 1193 1546.4C1195.4 1543.7 1198.3 1536.8 1201 1534.9C1203.8 1533 1205.3 1534.9 1209.6 1534.9C1214 1534.9 1221.1 1535.8 1226.9 1534.9C1232.6 1533.9 1239.1 1532.5 1244.1 1529.1C1249.1 1525.8 1252.7 1520.3 1257 1514.8C1261.3 1509.3 1265.7 1501.6 1270 1496.1C1274.3 1490.6 1279.1 1484.6 1282.9 1481.7C1286.7 1478.9 1289.3 1478.4 1292.9 1478.9C1296.5 1479.4 1300.6 1483.3 1304.4 1484.6C1308.3 1485.9 1312.1 1485.9 1315.9 1486.6C1319.7 1487.3 1323.8 1486.6 1327.4 1488.9C1331 1491.2 1333.9 1497.8 1337.4 1500.4C1341 1503 1344.6 1504.5 1348.9 1504.7C1353.2 1505 1359.2 1505 1363.3 1501.8C1367.4 1498.7 1370.7 1489.5 1373.3 1486.1C1376 1482.6 1376.9 1480.6 1379.1 1480.9C1381.2 1481.1 1383.9 1484.5 1386.3 1487.5C1388.7 1490.5 1390.3 1494.9 1393.5 1499C1396.6 1503 1401.6 1508.6 1404.9 1511.9C1408.3 1515.3 1410.4 1518.4 1413.6 1519.1C1416.7 1519.8 1420.3 1517.5 1423.6 1516.2C1427 1514.9 1430.3 1511.1 1433.7 1511.3C1437 1511.6 1440.7 1516.6 1443.7 1517.6C1446.7 1518.7 1450.2 1517.6 1451.5 1517.6L1451.5 1524.8C1450.2 1525 1446.2 1524.7 1443.7 1525.7C1441.2 1526.6 1439.2 1530.9 1436.5 1530.6C1433.9 1530.3 1431.3 1524.4 1427.9 1524C1424.6 1523.5 1419.8 1527.8 1416.4 1527.7C1413.1 1527.6 1410.9 1525.5 1407.8 1523.4C1404.7 1521.2 1401.6 1517.6 1397.8 1514.8C1393.9 1511.9 1388.9 1507.8 1384.8 1506.2C1380.8 1504.5 1376.9 1504 1373.3 1504.7C1369.8 1505.4 1367.4 1509.4 1363.3 1510.5C1359.2 1511.6 1353.2 1511.5 1348.9 1511.3C1344.6 1511.2 1341.5 1510.5 1337.4 1509.6C1333.4 1508.7 1328.1 1505.5 1324.5 1506.2C1320.9 1506.8 1319.3 1512.9 1315.9 1513.3C1312.6 1513.8 1308.3 1510.7 1304.4 1509C1300.6 1507.4 1296.5 1505 1292.9 1503.3C1289.3 1501.6 1286.7 1498.3 1282.9 1499C1279.1 1499.7 1274.3 1503.3 1270 1507.6C1265.7 1511.9 1261.3 1520 1257 1524.8C1252.7 1529.6 1249.1 1533.4 1244.1 1536.3C1239.1 1539.2 1232.6 1540.1 1226.9 1542.1C1221.1 1544 1214 1545.6 1209.6 1547.8C1205.3 1550 1203.4 1552.6 1201 1555C1198.6 1557.4 1197.7 1561.7 1195.3 1562.2C1192.9 1562.6 1190.5 1559.4 1186.7 1557.9C1182.8 1556.3 1177.3 1553.9 1172.3 1552.7C1167.3 1551.5 1161.3 1550.3 1156.5 1550.7C1151.7 1551.1 1149.1 1554 1143.6 1555C1138.1 1555.9 1129.6 1556.5 1123.5 1556.4C1117.4 1556.3 1109.9 1554.7 1107.1 1554.4Z" fill="#e8f1f8"/><path d="M1107.1 1552.1C1108.4 1552.2 1112.1 1552.3 1114.9 1552.7C1117.6 1553 1120.1 1554.1 1123.5 1554.1C1126.8 1554.1 1131.6 1553 1135 1552.7C1138.3 1552.3 1141.2 1552.6 1143.6 1552.1C1146 1551.6 1147.2 1550.6 1149.3 1549.8C1151.5 1549 1154.1 1547.5 1156.5 1547.2C1158.9 1547 1161.3 1547.9 1163.7 1548.4C1166.1 1548.9 1168.2 1549.6 1170.9 1550.1C1173.5 1550.6 1176.9 1550.9 1179.5 1551.5C1182.1 1552.2 1184.4 1553.8 1186.7 1554.1C1188.9 1554.5 1191.1 1554.3 1193 1553.5C1194.9 1552.8 1196.3 1551 1198.2 1549.8C1200 1548.6 1202 1547.4 1203.9 1546.4C1205.8 1545.3 1208 1544.1 1209.6 1543.5C1211.3 1542.9 1212.3 1543.2 1214 1542.6C1215.6 1542.1 1217.5 1540.8 1219.7 1540C1221.9 1539.3 1224.2 1539.2 1226.9 1538.3C1229.5 1537.5 1232.6 1535.8 1235.5 1534.9C1238.4 1533.9 1241.7 1533.8 1244.1 1532.6C1246.5 1531.4 1247.7 1529.8 1249.9 1527.7C1252 1525.6 1254.6 1522.8 1257 1519.9C1259.4 1517.1 1262.1 1513.5 1264.2 1510.5C1266.4 1507.4 1268 1504.4 1270 1501.8C1271.9 1499.3 1273.5 1497.1 1275.7 1495.2C1277.9 1493.4 1280.7 1491.5 1282.9 1490.9C1285 1490.4 1286.7 1491.7 1288.6 1491.8C1290.5 1491.8 1292.5 1490.8 1294.4 1491.2C1296.3 1491.6 1298.2 1493 1300.1 1494.1C1302 1495.1 1303.9 1496.8 1305.9 1497.5C1307.8 1498.3 1309.7 1498.2 1311.6 1498.4C1313.5 1498.6 1315.2 1499 1317.3 1499C1319.5 1498.9 1322.4 1497.7 1324.5 1498.1C1326.7 1498.5 1328.1 1500.1 1330.3 1501.3C1332.4 1502.5 1335.3 1504.1 1337.4 1505.3C1339.6 1506.4 1341.3 1507.8 1343.2 1508.2C1345.1 1508.6 1346.5 1507.4 1348.9 1507.6C1351.3 1507.7 1355.2 1509.3 1357.6 1509C1359.9 1508.8 1361.4 1507.6 1363.3 1506.2C1365.2 1504.7 1367.1 1501.9 1369 1500.4C1371 1498.9 1373.1 1497.5 1374.8 1497C1376.5 1496.4 1377.4 1496.5 1379.1 1497C1380.8 1497.4 1382.9 1498.3 1384.8 1499.6C1386.8 1500.8 1388.4 1502.9 1390.6 1504.7C1392.7 1506.5 1395.4 1508.4 1397.8 1510.5C1400.2 1512.5 1402.5 1515 1404.9 1517.1C1407.3 1519.1 1410 1521.8 1412.1 1522.8C1414.3 1523.9 1415.9 1523.9 1417.9 1523.4C1419.8 1522.9 1421.7 1520.8 1423.6 1519.9C1425.5 1519.1 1427.7 1518.5 1429.4 1518.5C1431 1518.5 1432.5 1519.3 1433.7 1519.9C1434.9 1520.6 1434.9 1522 1436.5 1522.2C1438.2 1522.5 1441.2 1521.8 1443.7 1521.7C1446.2 1521.5 1450.2 1521.4 1451.5 1521.4" fill="none" stroke="#1f77b4" stroke-width="3.7" stroke-linejoin="round" stroke-linecap="butt"/></g>
<path d="M1107.1 1553.8H1451.5 M1193 1473.4V1568.5" stroke="#000" stroke-width="2.7" fill="none"/>
<rect x="1107.1" y="1473.4" width="344.4" height="95.1" fill="none" stroke="#000" stroke-width="1.4"/>
<path d="M1108.9 1568.5v6.2M1193 1568.5v6.2M1277.1 1568.5v6.2M1361.2 1568.5v6.2M1445.3 1568.5v6.2M1107.1 1553.8h-6.2M1107.1 1486.9h-6.2" stroke="#000" stroke-width="1.4" fill="none"/>
<text x="1108.9" y="1594.9" font-size="17.70" text-anchor="middle">−10</text>
<text x="1193" y="1594.9" font-size="17.70" text-anchor="middle">0</text>
<text x="1277.1" y="1594.9" font-size="17.70" text-anchor="middle">10</text>
<text x="1361.2" y="1594.9" font-size="17.70" text-anchor="middle">20</text>
<text x="1445.3" y="1594.9" font-size="17.70" text-anchor="middle">30</text>
<text x="1094.7" y="1560.3" font-size="17.70" text-anchor="end">0</text>
<text x="1094.7" y="1493.4" font-size="17.70" text-anchor="end">1</text>
<text x="1279.3" y="1462.8" font-size="21.24" text-anchor="middle">RMDL (Stim)</text>
<text transform="translate(1070.9 1521) rotate(-90)" font-size="17.70" text-anchor="middle">Δ<tspan font-style="italic">F</tspan>/<tspan font-style="italic">F</tspan><tspan font-size="12.39" dy="2.8">0</tspan></text>
<g clip-path="url(#h101)"><g filter="url(#vb)">
<rect x="1101.1" y="1605" width="356.4" height="37" fill="url(#g102)"/>
<rect x="1101.1" y="1642" width="356.4" height="37" fill="url(#g103)"/>
</g></g>
<path d="M1193 1611V1673" stroke="#000" stroke-width="2.4" fill="none"/>
<rect x="1107.1" y="1611" width="344.4" height="62" fill="none" stroke="#000" stroke-width="1.4"/>
<path d="M1108.9 1673v6.2M1193 1673v6.2M1277.1 1673v6.2M1361.2 1673v6.2M1445.3 1673v6.2M1107.1 1626.5h-6.2M1107.1 1657.5h-6.2" stroke="#000" stroke-width="1.4" fill="none"/>
<text x="1108.9" y="1699.7" font-size="17.70" text-anchor="middle">-10</text>
<text x="1193" y="1699.7" font-size="17.70" text-anchor="middle">0</text>
<text x="1277.1" y="1699.7" font-size="17.70" text-anchor="middle">10</text>
<text x="1361.2" y="1699.7" font-size="17.70" text-anchor="middle">20</text>
<text x="1445.3" y="1699.7" font-size="17.70" text-anchor="middle">30</text>
<text x="1279.3" y="1724.3" font-size="17.70" text-anchor="middle">Time (s)</text>
<text x="1094.7" y="1633" font-size="17.70" text-anchor="end">1</text>
<text x="1094.7" y="1664" font-size="17.70" text-anchor="end">2</text>
<text transform="translate(1072.2 1642) rotate(-90)" font-size="17.70" text-anchor="middle"><tspan x="0" y="-19.8">Sorted</tspan><tspan x="0" y="0">Trials</tspan></text>
<g clip-path="url(#c104)"><path d="M1491.5 1546.4C1493.4 1547.6 1498.4 1551.7 1503 1553.5C1507.5 1555.4 1514 1558.2 1518.7 1557.3C1523.5 1556.3 1528.1 1549.6 1531.7 1547.8C1535.3 1546 1536.9 1545.9 1540.3 1546.4C1543.6 1546.8 1547.2 1548.9 1551.8 1550.7C1556.3 1552.5 1563.4 1556.2 1567.6 1557.3C1571.8 1558.4 1573.5 1558.6 1577 1557.3C1580.6 1555.9 1584.7 1551.5 1589.1 1549.2C1593.5 1546.9 1598.7 1545.3 1603.5 1543.5C1608.3 1541.7 1613 1540.5 1617.8 1538.3C1622.6 1536.2 1627.6 1534.7 1632.2 1530.6C1636.7 1526.4 1640.6 1518.7 1645.1 1513.3C1649.7 1507.9 1654.9 1500.7 1659.5 1498.1C1664 1495.5 1667.8 1496.4 1672.4 1497.5C1676.9 1498.6 1682 1503.3 1686.8 1504.7C1691.5 1506.2 1696.6 1505.3 1701.1 1506.2C1705.7 1507 1709.5 1507.7 1714 1509.6C1718.6 1511.5 1723.4 1516.3 1728.4 1517.6C1733.4 1519 1739.6 1519.3 1744.2 1517.6C1748.7 1516 1752.6 1509.7 1755.7 1507.6C1758.8 1505.4 1760.5 1504.7 1762.9 1504.7C1765.3 1504.7 1767.9 1505.7 1770 1507.6C1772.2 1509.5 1772.4 1514.1 1775.8 1516.2C1779.1 1518.4 1785.4 1518.7 1790.1 1520.5C1794.9 1522.3 1800.2 1526.1 1804.5 1526.8C1808.8 1527.6 1811.9 1524.5 1816 1524.8C1820.1 1525.1 1825.7 1527.9 1828.9 1528.6C1832.2 1529.2 1834.4 1528.6 1835.5 1528.6L1835.5 1533.4C1834.4 1533.6 1832.2 1534 1828.9 1534.3C1825.7 1534.6 1820.1 1535.7 1816 1535.5C1811.9 1535.2 1808.8 1534 1804.5 1532.6C1800.2 1531.1 1794.9 1528 1790.1 1526.8C1785.4 1525.7 1779.1 1525.3 1775.8 1525.7C1772.4 1526.1 1772.2 1528.9 1770 1529.1C1767.9 1529.3 1765.3 1527.6 1762.9 1526.8C1760.5 1526.1 1758.8 1525.4 1755.7 1524.8C1752.6 1524.3 1748.7 1523.7 1744.2 1523.4C1739.6 1523.1 1733.4 1524.3 1728.4 1522.8C1723.4 1521.4 1718.6 1516.7 1714 1514.8C1709.5 1512.9 1705.7 1512.2 1701.1 1511.3C1696.6 1510.5 1691.5 1510.9 1686.8 1509.6C1682 1508.3 1676.9 1504.2 1672.4 1503.3C1667.8 1502.3 1664 1501.1 1659.5 1503.9C1654.9 1506.6 1649.7 1514 1645.1 1519.7C1640.6 1525.3 1636.7 1533.8 1632.2 1537.7C1627.6 1541.7 1622.6 1541.7 1617.8 1543.5C1613 1545.3 1608.3 1546.6 1603.5 1548.4C1598.7 1550.2 1593.5 1551.9 1589.1 1554.4C1584.7 1556.9 1580.6 1562.3 1577 1563.6C1573.5 1564.9 1571.8 1563.5 1567.6 1562.2C1563.4 1560.8 1556.3 1556.8 1551.8 1555.6C1547.2 1554.4 1543.6 1554.8 1540.3 1555C1536.9 1555.1 1535.3 1555.1 1531.7 1556.4C1528.1 1557.8 1523.5 1562.5 1518.7 1563C1514 1563.5 1507.5 1561.3 1503 1559.3C1498.4 1557.2 1493.4 1552.1 1491.5 1550.7Z" fill="#e8f1f8"/><path d="M1491.5 1548.4C1492.4 1548.8 1495.3 1549.3 1497.2 1550.7C1499.1 1552 1500.8 1555 1503 1556.4C1505.1 1557.9 1507.5 1558.7 1510.1 1559.3C1512.8 1559.9 1516.4 1560.4 1518.7 1560.1C1521.1 1559.9 1522.3 1559.2 1524.5 1557.9C1526.6 1556.5 1529.3 1553.3 1531.7 1552.1C1534.1 1550.9 1536.5 1550.9 1538.8 1550.7C1541.2 1550.4 1543.9 1550.3 1546 1550.7C1548.2 1551.1 1549.4 1552.3 1551.8 1553C1554.2 1553.6 1557.8 1553.4 1560.4 1554.4C1563 1555.5 1565.4 1558.2 1567.6 1559.3C1569.7 1560.3 1571.7 1560.6 1573.3 1560.7C1574.9 1560.9 1575.6 1561 1577 1560.1C1578.5 1559.3 1579.9 1557 1581.9 1555.6C1583.9 1554.1 1586.7 1552.7 1589.1 1551.5C1591.5 1550.4 1593.9 1549.7 1596.3 1548.7C1598.7 1547.7 1600.8 1546.1 1603.5 1545.5C1606.1 1544.9 1609.7 1545.7 1612.1 1544.9C1614.5 1544.1 1615.7 1542.2 1617.8 1540.6C1620 1539.1 1622.6 1536.9 1625 1535.7C1627.4 1534.5 1630 1534.8 1632.2 1533.4C1634.3 1532.1 1635.8 1530.6 1637.9 1527.7C1640.1 1524.8 1642.7 1519.8 1645.1 1516.2C1647.5 1512.6 1649.9 1508.7 1652.3 1506.2C1654.7 1503.6 1657.3 1502.1 1659.5 1501C1661.6 1499.9 1663.1 1499.6 1665.2 1499.6C1667.4 1499.5 1670 1499.8 1672.4 1500.4C1674.8 1501 1677.2 1502.2 1679.6 1503.3C1682 1504.3 1684.4 1505.8 1686.8 1506.7C1689.1 1507.7 1691.5 1508.7 1693.9 1509C1696.3 1509.3 1699 1508.7 1701.1 1508.5C1703.3 1508.2 1704.7 1507 1706.9 1507.6C1709 1508.2 1711.6 1510 1714 1511.9C1716.4 1513.8 1718.8 1517.8 1721.2 1519.1C1723.6 1520.4 1726.2 1519.4 1728.4 1519.7C1730.5 1519.9 1732 1520.4 1734.1 1520.5C1736.3 1520.7 1738.7 1520.8 1741.3 1520.5C1744 1520.3 1747.3 1519.8 1749.9 1519.1C1752.6 1518.4 1755 1516.8 1757.1 1516.2C1759.3 1515.6 1760.9 1515.4 1762.9 1515.6C1764.8 1515.9 1766.7 1516.8 1768.6 1517.6C1770.5 1518.5 1772.2 1520.2 1774.3 1520.5C1776.5 1520.9 1778.9 1519.2 1781.5 1519.7C1784.2 1520.1 1787.5 1522 1790.1 1523.4C1792.8 1524.7 1794.9 1526.6 1797.3 1527.7C1799.7 1528.7 1801.9 1529.3 1804.5 1529.7C1807.1 1530.1 1810.2 1529.8 1813.1 1530C1816 1530.2 1819.1 1530.6 1821.7 1530.9C1824.4 1531.1 1826.6 1531.5 1828.9 1531.4C1831.2 1531.4 1834.4 1530.7 1835.5 1530.6" fill="none" stroke="#1f77b4" stroke-width="3.7" stroke-linejoin="round" stroke-linecap="butt"/></g>
<path d="M1491.5 1553.8H1835.5 M1577 1473.4V1568.5" stroke="#000" stroke-width="2.7" fill="none"/>
<rect x="1491.5" y="1473.4" width="344" height="95.1" fill="none" stroke="#000" stroke-width="1.4"/>
<path d="M1492.9 1568.5v6.2M1577 1568.5v6.2M1661.1 1568.5v6.2M1745.2 1568.5v6.2M1829.3 1568.5v6.2M1491.5 1553.8h-6.2M1491.5 1486.9h-6.2" stroke="#000" stroke-width="1.4" fill="none"/>
<text x="1492.9" y="1594.9" font-size="17.70" text-anchor="middle">−10</text>
<text x="1577" y="1594.9" font-size="17.70" text-anchor="middle">0</text>
<text x="1661.1" y="1594.9" font-size="17.70" text-anchor="middle">10</text>
<text x="1745.2" y="1594.9" font-size="17.70" text-anchor="middle">20</text>
<text x="1829.3" y="1594.9" font-size="17.70" text-anchor="middle">30</text>
<text x="1479.1" y="1560.3" font-size="17.70" text-anchor="end">0</text>
<text x="1479.1" y="1493.4" font-size="17.70" text-anchor="end">1</text>
<text x="1663.5" y="1462.8" font-size="21.24" text-anchor="middle">AVEL (Resp)</text>
<g clip-path="url(#h105)"><g filter="url(#vb)">
<rect x="1485.5" y="1605" width="356" height="37" fill="url(#g106)"/>
<rect x="1485.5" y="1642" width="356" height="37" fill="url(#g107)"/>
</g></g>
<path d="M1577 1611V1673" stroke="#000" stroke-width="2.4" fill="none"/>
<rect x="1491.5" y="1611" width="344" height="62" fill="none" stroke="#000" stroke-width="1.4"/>
<path d="M1492.9 1673v6.2M1577 1673v6.2M1661.1 1673v6.2M1745.2 1673v6.2M1829.3 1673v6.2M1491.5 1626.5h-6.2M1491.5 1657.5h-6.2" stroke="#000" stroke-width="1.4" fill="none"/>
<text x="1492.9" y="1699.7" font-size="17.70" text-anchor="middle">-10</text>
<text x="1577" y="1699.7" font-size="17.70" text-anchor="middle">0</text>
<text x="1661.1" y="1699.7" font-size="17.70" text-anchor="middle">10</text>
<text x="1745.2" y="1699.7" font-size="17.70" text-anchor="middle">20</text>
<text x="1829.3" y="1699.7" font-size="17.70" text-anchor="middle">30</text>
<text x="1663.5" y="1724.3" font-size="17.70" text-anchor="middle">Time (s)</text>
<g clip-path="url(#c108)"><path d="M125.5 2092.2C127.3 2091.5 132.4 2087.9 136.4 2087.9C140.4 2087.9 143.4 2091 149.3 2092.2C155.3 2093.4 164.7 2095.1 172.3 2095.1C180 2095.1 189.1 2093.9 195.3 2092.2C201.5 2090.5 205.3 2087.4 209.6 2085C214 2082.6 216.8 2079.5 221.1 2077.9C225.4 2076.2 231.2 2077.4 235.5 2075C239.8 2072.6 243.6 2068.3 247 2063.5C250.3 2058.7 252.7 2052 255.6 2046.3C258.5 2040.5 261.3 2033.6 264.2 2029C267.1 2024.5 269.5 2021.6 272.8 2019C276.2 2016.3 280.5 2014.5 284.3 2013.2C288.1 2011.9 292 2012.4 295.8 2011.2C299.6 2010 303.9 2006.5 307.3 2006.1C310.6 2005.6 312.6 2006.9 315.9 2008.4C319.3 2009.8 324 2011.7 327.4 2014.7C330.7 2017.6 333.4 2022.6 336 2026.2C338.6 2029.7 340.8 2033.6 343.2 2036.2C345.6 2038.8 347.3 2041.5 350.4 2042C353.5 2042.4 358 2040.8 361.9 2039.1C365.7 2037.4 369.8 2034.6 373.3 2031.9C376.9 2029.2 380 2024.1 383.4 2022.7C386.8 2021.3 390.3 2021.8 393.5 2023.3C396.6 2024.8 399.2 2029 402.1 2031.9C404.9 2034.8 407.3 2037.9 410.7 2040.5C414 2043.1 418.3 2045.5 422.2 2047.7C426 2049.9 429.8 2053.1 433.7 2053.4C437.5 2053.8 441.3 2050.2 445.1 2049.7C449 2049.2 453.8 2049.9 456.6 2050.6C459.5 2051.2 461.4 2053 462.4 2053.4L462.4 2096.5C460 2096.3 453.3 2095.3 448 2095.1C442.8 2094.8 436.1 2095.3 430.8 2095.1C425.5 2094.8 421.2 2094.4 416.4 2093.6C411.6 2092.9 406.4 2092 402.1 2090.8C397.8 2089.6 394.9 2087.4 390.6 2086.5C386.3 2085.5 381 2085.6 376.2 2085C371.4 2084.5 366.2 2083.8 361.9 2083C357.6 2082.2 354.2 2080.4 350.4 2080.1C346.5 2079.9 343.2 2080.8 338.9 2081.3C334.6 2081.8 329.3 2083.1 324.5 2083C319.7 2082.9 315 2081.7 310.2 2080.7C305.4 2079.8 300.1 2078.5 295.8 2077.3C291.5 2076.1 288.1 2073.4 284.3 2073.5C280.5 2073.6 276.7 2076.2 272.8 2077.9C269 2079.5 265.2 2081.7 261.3 2083.6C257.5 2085.5 254.2 2087.2 249.9 2089.3C245.5 2091.5 240.8 2095.3 235.5 2096.5C230.2 2097.7 223.1 2095.1 218.3 2096.5C213.5 2098 210.6 2104.2 206.8 2105.1C202.9 2106.1 201 2102.4 195.3 2102.3C189.5 2102.1 180 2104.8 172.3 2104.3C164.7 2103.8 155.3 2100.8 149.3 2099.4C143.4 2098 140.4 2095.9 136.4 2095.7C132.4 2095.4 127.3 2097.6 125.5 2098Z" fill="#e8f1f8"/><path d="M125.5 2095.1C126.4 2094.5 128.9 2092.3 130.7 2091.6C132.5 2091 134.5 2090.8 136.4 2091.3C138.3 2091.9 140 2094.4 142.2 2095.1C144.3 2095.8 146.9 2095.5 149.3 2095.7C151.7 2095.8 154.1 2095.5 156.5 2095.9C158.9 2096.4 161.1 2097.8 163.7 2098.5C166.3 2099.2 169.4 2099.9 172.3 2100.3C175.2 2100.6 178.5 2101.2 180.9 2100.8C183.3 2100.4 184.5 2098.3 186.7 2098C188.8 2097.6 191.5 2098.6 193.9 2098.5C196.2 2098.4 198.9 2098 201 2097.4C203.2 2096.8 205.3 2096 206.8 2095.1C208.2 2094.1 208.3 2093 209.6 2091.6C211 2090.3 212.9 2087.5 214.8 2087C216.7 2086.6 219.1 2088.2 221.1 2088.8C223.1 2089.3 225.2 2090.1 226.9 2090.2C228.6 2090.3 229.8 2090 231.2 2089.3C232.6 2088.7 233.6 2087.4 235.5 2086.5C237.4 2085.5 240.8 2084.6 242.7 2083.6C244.6 2082.6 245.3 2082.4 247 2080.7C248.7 2079 250.6 2075.9 252.7 2073.5C254.9 2071.2 257.8 2069 259.9 2066.4C262.1 2063.7 263.7 2060.2 265.7 2057.7C267.6 2055.3 269.5 2053.1 271.4 2051.4C273.3 2049.8 275.2 2048.7 277.1 2047.7C279.1 2046.7 280.7 2046 282.9 2045.4C285 2044.8 287.9 2044.2 290.1 2044C292.2 2043.8 293.4 2044.3 295.8 2044.3C298.2 2044.3 302 2044.2 304.4 2044C306.8 2043.7 308.3 2042.7 310.2 2042.8C312.1 2043 314 2043.9 315.9 2044.8C317.8 2045.7 319.7 2047.4 321.7 2048.3C323.6 2049.1 325.2 2049.1 327.4 2050C329.6 2050.9 332.2 2052.5 334.6 2053.4C337 2054.4 339.4 2054.8 341.8 2055.7C344.2 2056.7 346.5 2058.4 348.9 2059.2C351.3 2060 353.7 2060.5 356.1 2060.6C358.5 2060.8 360.9 2060.4 363.3 2060C365.7 2059.7 368.3 2058.8 370.5 2058.3C372.6 2057.8 374.3 2057.8 376.2 2057.2C378.1 2056.5 380 2054.8 382 2054.3C383.9 2053.8 385.6 2053.8 387.7 2054C389.9 2054.3 392.7 2054.7 394.9 2055.7C397 2056.7 398.7 2058.5 400.6 2060C402.5 2061.6 404.2 2063.6 406.4 2064.9C408.5 2066.2 411.2 2066.8 413.6 2067.8C415.9 2068.8 418.3 2069.7 420.7 2070.7C423.1 2071.6 425.5 2072.6 427.9 2073.5C430.3 2074.5 432.9 2076.4 435.1 2076.4C437.2 2076.4 438.9 2074.2 440.8 2073.5C442.8 2072.9 444.7 2072.4 446.6 2072.7C448.5 2072.9 450.7 2074.7 452.3 2075C454 2075.2 455 2074 456.6 2074.1C458.3 2074.2 461.4 2075.3 462.4 2075.6" fill="none" stroke="#1f77b4" stroke-width="3.7" stroke-linejoin="round" stroke-linecap="butt"/></g>
<path d="M125.5 2096.2H462.4 M209.6 2000.3V2115.2" stroke="#000" stroke-width="2.6" fill="none"/>
<rect x="125.5" y="2000.3" width="336.9" height="114.9" fill="none" stroke="#000" stroke-width="1.4"/>
<path d="M127.4 2115.2v6.1M209.6 2115.2v6.1M291.8 2115.2v6.1M373.9 2115.2v6.1M456 2115.2v6.1M125.5 2096.2h-6.1M125.5 2023h-6.1" stroke="#000" stroke-width="1.4" fill="none"/>
<text x="127.4" y="2141.2" font-size="17.43" text-anchor="middle">−10</text>
<text x="209.6" y="2141.2" font-size="17.43" text-anchor="middle">0</text>
<text x="291.8" y="2141.2" font-size="17.43" text-anchor="middle">10</text>
<text x="373.9" y="2141.2" font-size="17.43" text-anchor="middle">20</text>
<text x="456" y="2141.2" font-size="17.43" text-anchor="middle">30</text>
<text x="113.3" y="2102.6" font-size="17.43" text-anchor="end">0</text>
<text x="113.3" y="2029.4" font-size="17.43" text-anchor="end">1</text>
<text x="293.9" y="1989.8" font-size="20.92" text-anchor="middle">SAAVR (Stim)</text>
<text transform="translate(89.8 2057.8) rotate(-90)" font-size="17.43" text-anchor="middle">Δ<tspan font-style="italic">F</tspan>/<tspan font-style="italic">F</tspan><tspan font-size="12.20" dy="2.8">0</tspan></text>
<g clip-path="url(#h109)"><g filter="url(#vb)">
<rect x="119.5" y="2152.8" width="348.9" height="31.2" fill="url(#g110)"/>
<rect x="119.5" y="2184" width="348.9" height="25" fill="url(#g111)"/>
<rect x="119.5" y="2209" width="348.9" height="25" fill="url(#g112)"/>
<rect x="119.5" y="2234" width="348.9" height="25" fill="url(#g113)"/>
<rect x="119.5" y="2259" width="348.9" height="25" fill="url(#g114)"/>
<rect x="119.5" y="2284" width="348.9" height="31" fill="url(#g115)"/>
</g></g>
<path d="M209.6 2158.8V2309" stroke="#000" stroke-width="2.4" fill="none"/>
<rect x="125.5" y="2158.8" width="336.9" height="150.2" fill="none" stroke="#000" stroke-width="1.4"/>
<path d="M127.4 2309v6.1M209.6 2309v6.1M291.8 2309v6.1M373.9 2309v6.1M456 2309v6.1M125.5 2171.3h-6.1M125.5 2196.4h-6.1M125.5 2221.4h-6.1M125.5 2246.4h-6.1M125.5 2271.4h-6.1M125.5 2296.5h-6.1" stroke="#000" stroke-width="1.4" fill="none"/>
<text x="127.4" y="2335.3" font-size="17.43" text-anchor="middle">-10</text>
<text x="209.6" y="2335.3" font-size="17.43" text-anchor="middle">0</text>
<text x="291.8" y="2335.3" font-size="17.43" text-anchor="middle">10</text>
<text x="373.9" y="2335.3" font-size="17.43" text-anchor="middle">20</text>
<text x="456" y="2335.3" font-size="17.43" text-anchor="middle">30</text>
<text x="293.9" y="2359.5" font-size="17.43" text-anchor="middle">Time (s)</text>
<text x="113.3" y="2177.7" font-size="17.43" text-anchor="end">1</text>
<text x="113.3" y="2202.7" font-size="17.43" text-anchor="end">2</text>
<text x="113.3" y="2227.7" font-size="17.43" text-anchor="end">3</text>
<text x="113.3" y="2252.8" font-size="17.43" text-anchor="end">4</text>
<text x="113.3" y="2277.8" font-size="17.43" text-anchor="end">5</text>
<text x="113.3" y="2302.8" font-size="17.43" text-anchor="end">6</text>
<text transform="translate(91.1 2233.9) rotate(-90)" font-size="17.43" text-anchor="middle"><tspan x="0" y="-19.5">Sorted</tspan><tspan x="0" y="0">Trials</tspan></text>
<g clip-path="url(#c116)"><path d="M501.5 2091.6C504.2 2092.1 511.4 2094.4 517.3 2094.5C523.3 2094.6 531.7 2092.7 537.4 2092.2C543.2 2091.7 547 2091.6 551.8 2091.6C556.6 2091.6 561.8 2092.6 566.2 2092.2C570.5 2091.8 574.4 2089.9 577.6 2089.3C580.9 2088.8 581.6 2089.5 585.4 2088.8C589.2 2088 596.2 2086.4 600.6 2085C605.1 2083.7 608.3 2082.9 612.1 2080.7C615.9 2078.6 620.2 2075.9 623.6 2072.1C626.9 2068.3 629.3 2061.8 632.2 2057.7C635.1 2053.7 637.5 2049.6 640.8 2047.7C644.2 2045.8 648.5 2046.9 652.3 2046.3C656.1 2045.6 660 2043.9 663.8 2044C667.6 2044.1 671.9 2047.5 675.3 2046.8C678.6 2046.2 681 2041.4 683.9 2039.9C686.8 2038.5 689.2 2037.4 692.5 2038.2C695.9 2039 699.7 2043.1 704 2044.8C708.3 2046.5 714.5 2047.1 718.4 2048.6C722.2 2050 723.6 2051.7 727 2053.4C730.3 2055.2 734.6 2058.9 738.5 2059.2C742.3 2059.4 746.1 2056.6 750 2054.9C753.8 2053.2 757.6 2049.6 761.4 2049.1C765.3 2048.7 769.1 2050.1 772.9 2052C776.8 2053.9 780.6 2058.7 784.4 2060.6C788.3 2062.5 792.1 2061.8 795.9 2063.5C799.7 2065.2 804 2069.2 807.4 2070.7C810.7 2072.1 813.1 2073.1 816 2072.1C818.9 2071.2 822 2066.8 824.6 2064.9C827.3 2063 829.6 2060.4 831.8 2060.6C834.1 2060.9 837.1 2065.4 838.1 2066.4L838.1 2105.1C837.1 2105.6 834.1 2107.8 831.8 2108C829.6 2108.2 828.2 2107.4 824.6 2106.6C821 2105.8 815.1 2104 810.3 2103.1C805.5 2102.3 801.2 2101.8 795.9 2101.4C790.6 2101 783.5 2100 778.7 2100.8C773.9 2101.7 771.5 2105.1 767.2 2106.6C762.9 2108 756.7 2109.7 752.8 2109.4C749 2109.2 747.6 2106.6 744.2 2105.1C740.9 2103.7 737.5 2101.8 732.7 2100.8C727.9 2099.9 721.2 2099.4 715.5 2099.4C709.8 2099.4 703.1 2099.7 698.3 2100.8C693.5 2101.9 690.1 2105.8 686.8 2106C683.4 2106.2 681.5 2103.7 678.2 2102.3C674.8 2100.8 671 2097.9 666.7 2097.4C662.4 2096.9 657.6 2098.8 652.3 2099.4C647 2100 640.8 2100.2 635.1 2100.8C629.3 2101.4 623.6 2102.4 617.9 2103.1C612.1 2103.8 606 2105 600.6 2105.1C595.2 2105.2 589.2 2103.8 585.4 2103.7C581.6 2103.6 580.9 2104.4 577.6 2104.3C574.4 2104.2 570.5 2103.6 566.2 2103.1C561.8 2102.6 556.6 2101.2 551.8 2101.4C547 2101.6 543.2 2104.1 537.4 2104.3C531.7 2104.4 523.3 2103.3 517.3 2102.3C511.4 2101.2 504.2 2098.7 501.5 2098Z" fill="#e8f1f8"/><path d="M501.5 2094.5C502.7 2094.8 506.1 2095.9 508.7 2096.5C511.4 2097.1 514.2 2097.4 517.3 2098C520.4 2098.5 524 2099.6 527.4 2099.7C530.7 2099.8 534.6 2098.7 537.4 2098.5C540.3 2098.4 542.2 2099.2 544.6 2098.8C547 2098.4 549.4 2096.3 551.8 2095.9C554.2 2095.6 556.6 2096.3 559 2096.5C561.4 2096.8 563 2097.3 566.2 2097.4C569.3 2097.5 574.4 2097.2 577.6 2097.1C580.9 2097 583 2097 585.4 2096.8C587.8 2096.6 589.5 2096.1 592 2095.7C594.5 2095.2 597.7 2094.8 600.6 2094.2C603.5 2093.6 606.4 2093 609.2 2092.2C612.1 2091.4 615.5 2090.2 617.9 2089.3C620.2 2088.5 621.7 2088.5 623.6 2087C625.5 2085.6 627.2 2082.5 629.3 2080.7C631.5 2079 634.1 2077.6 636.5 2076.4C638.9 2075.3 641.1 2074.4 643.7 2073.8C646.3 2073.3 649.4 2073.4 652.3 2073C655.2 2072.6 658.1 2071.9 660.9 2071.5C663.8 2071.2 666.7 2070.3 669.5 2070.7C672.4 2071 675.8 2073.3 678.2 2073.5C680.6 2073.8 681.5 2072.4 683.9 2072.1C686.3 2071.8 689.2 2071.6 692.5 2071.5C695.9 2071.5 700.4 2071.7 704 2071.8C707.6 2072 710.7 2072.4 714.1 2072.4C717.4 2072.3 721.5 2071.2 724.1 2071.5C726.7 2071.9 727.5 2073.1 729.9 2074.4C732.2 2075.7 736.1 2078.2 738.5 2079.3C740.9 2080.3 742.1 2080.1 744.2 2080.7C746.4 2081.3 749 2083 751.4 2082.7C753.8 2082.5 755.9 2080.1 758.6 2079.3C761.2 2078.5 764.6 2078.2 767.2 2077.9C769.8 2077.5 772 2077 774.4 2077.3C776.8 2077.5 779.2 2078.6 781.6 2079.3C783.9 2080 786.1 2081.3 788.7 2081.6C791.4 2081.9 794.7 2080.6 797.3 2081.3C800 2082 801.7 2084.8 804.5 2085.9C807.4 2087 811.7 2087.8 814.6 2087.9C817.4 2088 819.8 2087 821.8 2086.5C823.7 2085.9 824.4 2084.7 826.1 2084.5C827.7 2084.2 829.8 2084.8 831.8 2085C833.8 2085.3 837.1 2085.7 838.1 2085.9" fill="none" stroke="#1f77b4" stroke-width="3.7" stroke-linejoin="round" stroke-linecap="butt"/></g>
<path d="M501.5 2096.2H838.1 M585.4 2000.3V2115.2" stroke="#000" stroke-width="2.6" fill="none"/>
<rect x="501.5" y="2000.3" width="336.6" height="114.9" fill="none" stroke="#000" stroke-width="1.4"/>
<path d="M503.2 2115.2v6.1M585.4 2115.2v6.1M667.5 2115.2v6.1M749.7 2115.2v6.1M831.8 2115.2v6.1M501.5 2096.2h-6.1M501.5 2023h-6.1" stroke="#000" stroke-width="1.4" fill="none"/>
<text x="503.2" y="2141.2" font-size="17.43" text-anchor="middle">−10</text>
<text x="585.4" y="2141.2" font-size="17.43" text-anchor="middle">0</text>
<text x="667.5" y="2141.2" font-size="17.43" text-anchor="middle">10</text>
<text x="749.7" y="2141.2" font-size="17.43" text-anchor="middle">20</text>
<text x="831.8" y="2141.2" font-size="17.43" text-anchor="middle">30</text>
<text x="489.3" y="2102.6" font-size="17.43" text-anchor="end">0</text>
<text x="489.3" y="2029.4" font-size="17.43" text-anchor="end">1</text>
<text x="669.8" y="1989.8" font-size="20.92" text-anchor="middle">AVAR (Resp)</text>
<g clip-path="url(#h117)"><g filter="url(#vb)">
<rect x="495.5" y="2152.8" width="348.6" height="31.2" fill="url(#g118)"/>
<rect x="495.5" y="2184" width="348.6" height="25" fill="url(#g119)"/>
<rect x="495.5" y="2209" width="348.6" height="25" fill="url(#g120)"/>
<rect x="495.5" y="2234" width="348.6" height="25" fill="url(#g121)"/>
<rect x="495.5" y="2259" width="348.6" height="25" fill="url(#g122)"/>
<rect x="495.5" y="2284" width="348.6" height="31" fill="url(#g123)"/>
</g></g>
<path d="M585.4 2158.8V2309" stroke="#000" stroke-width="2.4" fill="none"/>
<rect x="501.5" y="2158.8" width="336.6" height="150.2" fill="none" stroke="#000" stroke-width="1.4"/>
<path d="M503.2 2309v6.1M585.4 2309v6.1M667.5 2309v6.1M749.7 2309v6.1M831.8 2309v6.1M501.5 2171.3h-6.1M501.5 2196.4h-6.1M501.5 2221.4h-6.1M501.5 2246.4h-6.1M501.5 2271.4h-6.1M501.5 2296.5h-6.1" stroke="#000" stroke-width="1.4" fill="none"/>
<text x="503.2" y="2335.3" font-size="17.43" text-anchor="middle">-10</text>
<text x="585.4" y="2335.3" font-size="17.43" text-anchor="middle">0</text>
<text x="667.5" y="2335.3" font-size="17.43" text-anchor="middle">10</text>
<text x="749.7" y="2335.3" font-size="17.43" text-anchor="middle">20</text>
<text x="831.8" y="2335.3" font-size="17.43" text-anchor="middle">30</text>
<text x="669.8" y="2359.5" font-size="17.43" text-anchor="middle">Time (s)</text>
<g clip-path="url(#c124)"><path d="M1094.8 2070.7C1098.1 2070.9 1110.3 2071.6 1114.9 2072.1C1119.4 2072.6 1118.9 2073.8 1122.1 2073.5C1125.2 2073.3 1128 2071 1133.5 2070.7C1139 2070.3 1148.6 2071.7 1155.1 2071.5C1161.5 2071.4 1168.5 2071.2 1172.3 2069.8C1176.1 2068.5 1175.7 2065.3 1178.1 2063.5C1180.5 2061.7 1183.1 2059.9 1186.7 2059.2C1190.3 2058.5 1195.3 2061.3 1199.6 2059.2C1203.9 2057 1208.7 2051.8 1212.5 2046.3C1216.4 2040.8 1219.7 2032.4 1222.6 2026.2C1225.4 2019.9 1227.8 2012.4 1229.8 2008.9C1231.7 2005.5 1232.6 2004.5 1234.1 2005.5C1235.5 2006.4 1236.2 2011.7 1238.4 2014.7C1240.5 2017.6 1243.9 2021.6 1247 2023.3C1250.1 2025 1253.9 2022.8 1257 2024.7C1260.1 2026.6 1262.3 2034.5 1265.7 2034.8C1269 2035 1273.5 2029.7 1277.1 2026.2C1280.7 2022.6 1283.6 2015.6 1287.2 2013.2C1290.8 2010.8 1295.8 2013.7 1298.7 2011.8C1301.6 2009.9 1302.7 2003.9 1304.4 2001.7C1306.1 1999.6 1307.1 1997.9 1308.7 1998.9C1310.4 1999.8 1312.3 2004.1 1314.5 2007.5C1316.6 2010.8 1319 2016.6 1321.7 2019C1324.3 2021.4 1326.4 2020.9 1330.3 2021.8C1334.1 2022.8 1339.4 2024 1344.6 2024.7C1349.9 2025.4 1357.1 2025 1361.9 2026.2C1366.6 2027.4 1369.5 2030.2 1373.3 2031.9C1377.2 2033.6 1380 2034.5 1384.8 2036.2C1389.6 2037.9 1397.3 2041 1402.1 2042C1406.9 2042.9 1409.2 2040.8 1413.6 2042C1417.9 2043.1 1425.5 2047.9 1427.9 2049.1L1427.9 2057.7C1425.5 2056.9 1417.9 2053.3 1413.6 2052.6C1409.2 2051.9 1406.9 2054.3 1402.1 2053.4C1397.3 2052.6 1389.6 2049.6 1384.8 2047.7C1380 2045.8 1377.2 2043.4 1373.3 2042C1369.5 2040.5 1366.6 2039.3 1361.9 2039.1C1357.1 2038.8 1349.9 2040.5 1344.6 2040.5C1339.4 2040.5 1334.8 2039.3 1330.3 2039.1C1325.7 2038.8 1320.9 2039.8 1317.3 2039.1C1313.8 2038.4 1311.8 2036.2 1308.7 2034.8C1305.6 2033.3 1302.3 2031.4 1298.7 2030.5C1295.1 2029.5 1290.8 2028.3 1287.2 2029C1283.6 2029.7 1280.7 2032.6 1277.1 2034.8C1273.5 2036.9 1269 2042.2 1265.7 2042C1262.3 2041.7 1260.1 2035.1 1257 2033.3C1253.9 2031.6 1250.1 2031.8 1247 2031.3C1243.9 2030.8 1241.2 2030.4 1238.4 2030.5C1235.5 2030.6 1232.4 2030 1229.8 2031.9C1227.1 2033.8 1225.4 2037.9 1222.6 2042C1219.7 2046 1216.4 2052.2 1212.5 2056.3C1208.7 2060.4 1203.9 2064.4 1199.6 2066.4C1195.3 2068.3 1190.3 2066.6 1186.7 2067.8C1183.1 2069 1180.5 2072.3 1178.1 2073.5C1175.7 2074.8 1176.1 2075.1 1172.3 2075.6C1168.5 2076 1161.5 2076.1 1155.1 2076.1C1148.6 2076.1 1139 2074.9 1133.5 2075.6C1128 2076.2 1125.2 2079.8 1122.1 2080.1C1118.9 2080.5 1119.4 2078.7 1114.9 2077.9C1110.3 2077 1098.1 2075.5 1094.8 2075Z" fill="#e8f1f8"/><path d="M1094.8 2073C1095.7 2072.8 1098.4 2072.2 1100.5 2072.1C1102.7 2072.1 1105.3 2072.2 1107.7 2072.7C1110.1 2073.2 1112.5 2074.3 1114.9 2075C1117.3 2075.7 1119.9 2076.9 1122.1 2077C1124.2 2077.1 1125.9 2076.2 1127.8 2075.6C1129.7 2074.9 1130.9 2073.3 1133.5 2073C1136.2 2072.7 1140 2073.7 1143.6 2073.8C1147.2 2074 1151.3 2073.8 1155.1 2073.8C1158.9 2073.9 1163.7 2074.3 1166.6 2074.1C1169.4 2073.9 1170.6 2073.5 1172.3 2072.7C1174 2071.9 1175.2 2070.4 1176.6 2069.2C1178.1 2068 1179.3 2066.5 1180.9 2065.5C1182.6 2064.5 1184.5 2063.6 1186.7 2063.5C1188.8 2063.4 1191.7 2065 1193.9 2064.9C1196 2064.8 1197.7 2064 1199.6 2062.9C1201.5 2061.8 1203.2 2060.2 1205.3 2058.3C1207.5 2056.4 1210.1 2054.2 1212.5 2051.4C1214.9 2048.7 1217.5 2045.2 1219.7 2042C1221.9 2038.7 1223.5 2035.3 1225.4 2031.9C1227.4 2028.6 1229.5 2024 1231.2 2021.8C1232.9 2019.7 1234.1 2018.7 1235.5 2019C1236.9 2019.2 1238.1 2021.8 1239.8 2023.3C1241.5 2024.7 1243.4 2027.1 1245.5 2027.6C1247.7 2028.1 1250.8 2025.9 1252.7 2026.2C1254.6 2026.4 1255.6 2027.5 1257 2029C1258.5 2030.6 1259.9 2033.8 1261.3 2035.3C1262.8 2036.9 1264 2038.4 1265.7 2038.5C1267.3 2038.7 1269.5 2037.5 1271.4 2036.2C1273.3 2034.9 1275.2 2032.5 1277.1 2030.5C1279.1 2028.4 1281.2 2025.4 1282.9 2023.9C1284.6 2022.3 1285.3 2021.2 1287.2 2021C1289.1 2020.7 1292 2022.4 1294.4 2022.4C1296.8 2022.4 1299.2 2021.7 1301.6 2021C1303.9 2020.3 1307.1 2018.6 1308.7 2018.4C1310.4 2018.2 1310.2 2018.9 1311.6 2019.8C1313 2020.7 1315.2 2022.4 1317.3 2023.9C1319.5 2025.3 1322.4 2027.4 1324.5 2028.5C1326.7 2029.6 1328.1 2030.2 1330.3 2030.5C1332.4 2030.7 1335.1 2029.7 1337.4 2029.9C1339.8 2030.1 1341.8 2031.5 1344.6 2031.9C1347.5 2032.3 1351.8 2032.5 1354.7 2032.5C1357.6 2032.5 1359.7 2031.9 1361.9 2031.9C1364 2031.9 1365.7 2031.8 1367.6 2032.5C1369.5 2033.2 1371.7 2035 1373.3 2036.2C1375 2037.4 1375.7 2038.8 1377.7 2039.7C1379.6 2040.5 1382.2 2040.7 1384.8 2041.4C1387.5 2042.1 1390.8 2042.9 1393.5 2044C1396.1 2045 1398.5 2047.1 1400.6 2047.7C1402.8 2048.3 1404.5 2047.8 1406.4 2047.7C1408.3 2047.6 1410.2 2046.4 1412.1 2046.8C1414 2047.3 1415.9 2049.8 1417.9 2050.6C1419.8 2051.3 1421.9 2051 1423.6 2051.4C1425.3 2051.9 1427.2 2053.1 1427.9 2053.4" fill="none" stroke="#1f77b4" stroke-width="3.6" stroke-linejoin="round" stroke-linecap="butt"/></g>
<path d="M1094.8 2073H1427.9 M1178.1 1996V2087.9" stroke="#000" stroke-width="2.6" fill="none"/>
<rect x="1094.8" y="1996" width="333.1" height="91.9" fill="none" stroke="#000" stroke-width="1.4"/>
<path d="M1096.8 2087.9v6M1178.1 2087.9v6M1259.4 2087.9v6M1340.7 2087.9v6M1422 2087.9v6M1094.8 2073h-6M1094.8 2027.6h-6" stroke="#000" stroke-width="1.4" fill="none"/>
<text x="1096.8" y="2113.5" font-size="17.16" text-anchor="middle">−10</text>
<text x="1178.1" y="2113.5" font-size="17.16" text-anchor="middle">0</text>
<text x="1259.4" y="2113.5" font-size="17.16" text-anchor="middle">10</text>
<text x="1340.7" y="2113.5" font-size="17.16" text-anchor="middle">20</text>
<text x="1422" y="2113.5" font-size="17.16" text-anchor="middle">30</text>
<text x="1082.8" y="2079.3" font-size="17.16" text-anchor="end">0</text>
<text x="1082.8" y="2033.9" font-size="17.16" text-anchor="end">1</text>
<text x="1261.3" y="1985.7" font-size="20.59" text-anchor="middle">SAAVR (Stim)</text>
<text transform="translate(1059.6 2042) rotate(-90)" font-size="17.16" text-anchor="middle">Δ<tspan font-style="italic">F</tspan>/<tspan font-style="italic">F</tspan><tspan font-size="12.01" dy="2.7">0</tspan></text>
<g clip-path="url(#h125)"><g filter="url(#vb)">
<rect x="1088.8" y="2122.8" width="345.1" height="36.2" fill="url(#g126)"/>
<rect x="1088.8" y="2159" width="345.1" height="36.1" fill="url(#g127)"/>
</g></g>
<path d="M1178.1 2128.8V2189.1" stroke="#000" stroke-width="2.3" fill="none"/>
<rect x="1094.8" y="2128.8" width="333.1" height="60.3" fill="none" stroke="#000" stroke-width="1.4"/>
<path d="M1096.8 2189.1v6M1178.1 2189.1v6M1259.4 2189.1v6M1340.7 2189.1v6M1422 2189.1v6M1094.8 2143.9h-6M1094.8 2174h-6" stroke="#000" stroke-width="1.4" fill="none"/>
<text x="1096.8" y="2215" font-size="17.16" text-anchor="middle">-10</text>
<text x="1178.1" y="2215" font-size="17.16" text-anchor="middle">0</text>
<text x="1259.4" y="2215" font-size="17.16" text-anchor="middle">10</text>
<text x="1340.7" y="2215" font-size="17.16" text-anchor="middle">20</text>
<text x="1422" y="2215" font-size="17.16" text-anchor="middle">30</text>
<text x="1261.3" y="2238.9" font-size="17.16" text-anchor="middle">Time (s)</text>
<text x="1082.8" y="2150.1" font-size="17.16" text-anchor="end">1</text>
<text x="1082.8" y="2180.3" font-size="17.16" text-anchor="end">2</text>
<text transform="translate(1061 2158.9) rotate(-90)" font-size="17.16" text-anchor="middle"><tspan x="0" y="-19.2">Sorted</tspan><tspan x="0" y="0">Trials</tspan></text>
<g clip-path="url(#c128)"><path d="M1466.2 2072.7C1468.5 2072.3 1473.4 2071 1480 2070.7C1486.6 2070.3 1497.2 2070.9 1505.8 2070.7C1514.4 2070.4 1525.2 2070.2 1531.7 2069.2C1538.1 2068.3 1541.7 2066.4 1544.6 2064.9C1547.5 2063.5 1544.4 2061.6 1549.2 2060.6C1554 2059.7 1565.2 2059.1 1573.3 2059.2C1581.4 2059.3 1589.3 2060.7 1597.7 2061.2C1606.1 2061.7 1615 2062.2 1623.6 2062.1C1632.2 2062 1643.7 2062.3 1649.4 2060.6C1655.2 2058.9 1655.2 2053.9 1658 2052C1660.9 2050.1 1663.8 2049.4 1666.6 2049.1C1669.5 2048.9 1671.9 2049.6 1675.3 2050.6C1678.6 2051.5 1682.7 2053.6 1686.8 2054.9C1690.8 2056.2 1695.8 2057.4 1699.7 2058.3C1703.5 2059.3 1706.6 2061.2 1709.7 2060.6C1712.8 2060 1715.5 2055.6 1718.3 2054.9C1721.2 2054.2 1723.4 2055.8 1727 2056.3C1730.5 2056.8 1735.1 2056.8 1739.9 2057.7C1744.7 2058.7 1750.9 2060.9 1755.7 2062.1C1760.5 2063.3 1764.8 2065.2 1768.6 2064.9C1772.4 2064.7 1775.5 2061.8 1778.7 2060.6C1781.8 2059.4 1784.6 2058.1 1787.3 2057.7C1789.9 2057.4 1792.4 2057.4 1794.4 2058.3C1796.5 2059.3 1798.5 2062.6 1799.3 2063.5L1799.3 2079.3C1798.5 2080 1796.5 2082.8 1794.4 2083.6C1792.4 2084.4 1789.9 2084.6 1787.3 2084.2C1784.6 2083.7 1781.8 2082.3 1778.7 2080.7C1775.5 2079.2 1772.4 2076.2 1768.6 2075C1764.8 2073.8 1760.5 2074.3 1755.7 2073.5C1750.9 2072.8 1744.7 2071.4 1739.9 2070.7C1735.1 2070 1730.5 2069.7 1727 2069.2C1723.4 2068.8 1721.2 2067.7 1718.3 2067.8C1715.5 2067.9 1712.8 2069.7 1709.7 2069.8C1706.6 2070 1703.5 2069.1 1699.7 2068.7C1695.8 2068.2 1690.8 2066.9 1686.8 2066.9C1682.7 2066.9 1678.6 2068.8 1675.3 2068.7C1671.9 2068.6 1669.5 2067 1666.6 2066.4C1663.8 2065.7 1660.9 2064.8 1658 2064.9C1655.2 2065.1 1655.2 2066.7 1649.4 2067.2C1643.7 2067.7 1632.2 2067.9 1623.6 2067.8C1615 2067.7 1606.1 2066.8 1597.7 2066.4C1589.3 2065.9 1581.4 2064.9 1573.3 2064.9C1565.2 2064.9 1554 2065.4 1549.2 2066.4C1544.4 2067.3 1547.5 2069.3 1544.6 2070.7C1541.7 2072 1538.1 2073.7 1531.7 2074.4C1525.2 2075.1 1514.4 2074.9 1505.8 2075C1497.2 2075.1 1486.6 2074.5 1480 2075C1473.4 2075.5 1468.5 2077.4 1466.2 2077.9Z" fill="#e8f1f8"/><path d="M1466.2 2075.6C1467.1 2075.4 1469.1 2074.9 1471.4 2074.4C1473.7 2073.9 1477.1 2073 1480 2072.7C1482.8 2072.3 1485.7 2072.5 1488.6 2072.4C1491.5 2072.3 1494.3 2072 1497.2 2072.1C1500.1 2072.2 1503 2072.9 1505.8 2073C1508.7 2073.1 1511.6 2072.6 1514.4 2072.7C1517.3 2072.7 1520.2 2073.4 1523.1 2073.3C1525.9 2073.1 1528.8 2072.1 1531.7 2071.5C1534.5 2071 1538.1 2070.5 1540.3 2069.8C1542.4 2069.1 1543.1 2068.3 1544.6 2067.2C1546.1 2066.2 1547.3 2064.3 1549.2 2063.5C1551.1 2062.7 1553.5 2062.8 1556.1 2062.6C1558.7 2062.4 1561.8 2062.5 1564.7 2062.3C1567.6 2062.2 1570.7 2061.7 1573.3 2061.8C1575.9 2061.8 1577.9 2062.2 1580.5 2062.6C1583.1 2063 1586.2 2063.9 1589.1 2064.1C1592 2064.2 1594.9 2063.8 1597.7 2063.5C1600.6 2063.2 1603.5 2062.4 1606.3 2062.3C1609.2 2062.2 1612.1 2062.5 1615 2062.9C1617.8 2063.3 1620.7 2064.7 1623.6 2064.9C1626.4 2065.2 1629.3 2064.5 1632.2 2064.4C1635.1 2064.2 1637.9 2064.1 1640.8 2064.1C1643.7 2064 1647 2064.6 1649.4 2064.1C1651.8 2063.5 1653.2 2061.6 1655.2 2060.6C1657.1 2059.6 1659 2058.5 1660.9 2058C1662.8 2057.6 1664.3 2057.6 1666.6 2057.7C1669 2057.9 1672.4 2058.5 1675.3 2059.2C1678.1 2059.9 1681 2061.1 1683.9 2061.8C1686.8 2062.5 1689.9 2063 1692.5 2063.5C1695.1 2064 1697.3 2064.3 1699.7 2064.6C1702.1 2065 1704.7 2066 1706.9 2065.8C1709 2065.6 1710.7 2064 1712.6 2063.5C1714.5 2063 1716.2 2062.9 1718.3 2062.9C1720.5 2062.9 1723.1 2063.1 1725.5 2063.5C1727.9 2063.9 1730.3 2064.9 1732.7 2065.2C1735.1 2065.6 1737.5 2065.2 1739.9 2065.5C1742.3 2065.8 1744.4 2066.7 1747.1 2067.2C1749.7 2067.8 1753.3 2068.3 1755.7 2068.7C1758.1 2069 1759.3 2069 1761.4 2069.2C1763.6 2069.4 1766.2 2069.5 1768.6 2069.8C1771 2070.1 1773.1 2070.7 1775.8 2071C1778.4 2071.2 1781.5 2071.3 1784.4 2071.5C1787.3 2071.7 1790.5 2072.1 1793 2072.1C1795.5 2072.1 1798.3 2071.6 1799.3 2071.5" fill="none" stroke="#1f77b4" stroke-width="3.6" stroke-linejoin="round" stroke-linecap="butt"/></g>
<path d="M1466.2 2073H1799.3 M1549.2 1996V2087.9" stroke="#000" stroke-width="2.6" fill="none"/>
<rect x="1466.2" y="1996" width="333.1" height="91.9" fill="none" stroke="#000" stroke-width="1.4"/>
<path d="M1467.9 2087.9v6M1549.2 2087.9v6M1630.5 2087.9v6M1711.8 2087.9v6M1793.1 2087.9v6M1466.2 2073h-6M1466.2 2027.6h-6" stroke="#000" stroke-width="1.4" fill="none"/>
<text x="1467.9" y="2113.5" font-size="17.16" text-anchor="middle">−10</text>
<text x="1549.2" y="2113.5" font-size="17.16" text-anchor="middle">0</text>
<text x="1630.5" y="2113.5" font-size="17.16" text-anchor="middle">10</text>
<text x="1711.8" y="2113.5" font-size="17.16" text-anchor="middle">20</text>
<text x="1793.1" y="2113.5" font-size="17.16" text-anchor="middle">30</text>
<text x="1454.2" y="2079.3" font-size="17.16" text-anchor="end">0</text>
<text x="1454.2" y="2033.9" font-size="17.16" text-anchor="end">1</text>
<text x="1632.8" y="1985.7" font-size="20.59" text-anchor="middle">AVAR (Resp)</text>
<g clip-path="url(#h129)"><g filter="url(#vb)">
<rect x="1460.2" y="2122.8" width="345.1" height="36.2" fill="url(#g130)"/>
<rect x="1460.2" y="2159" width="345.1" height="36.1" fill="url(#g131)"/>
</g></g>
<path d="M1549.2 2128.8V2189.1" stroke="#000" stroke-width="2.3" fill="none"/>
<rect x="1466.2" y="2128.8" width="333.1" height="60.3" fill="none" stroke="#000" stroke-width="1.4"/>
<path d="M1467.9 2189.1v6M1549.2 2189.1v6M1630.5 2189.1v6M1711.8 2189.1v6M1793.1 2189.1v6M1466.2 2143.9h-6M1466.2 2174h-6" stroke="#000" stroke-width="1.4" fill="none"/>
<text x="1467.9" y="2215" font-size="17.16" text-anchor="middle">-10</text>
<text x="1549.2" y="2215" font-size="17.16" text-anchor="middle">0</text>
<text x="1630.5" y="2215" font-size="17.16" text-anchor="middle">10</text>
<text x="1711.8" y="2215" font-size="17.16" text-anchor="middle">20</text>
<text x="1793.1" y="2215" font-size="17.16" text-anchor="middle">30</text>
<text x="1632.8" y="2238.9" font-size="17.16" text-anchor="middle">Time (s)</text>
<rect x="92.3" y="39.1" width="788" height="7.9" fill="#231f20"/>
<rect x="1118" y="40.5" width="832" height="7.9" fill="#231f20"/>
<rect x="883.2" y="293.2" width="18.1" height="356.5" fill="url(#cb132)" stroke="#000" stroke-width="1.5"/>
<path d="M901.3 293.2h6.7M901.3 471.5h6.7M901.3 649.7h6.7" stroke="#000" stroke-width="1.5" fill="none"/>
<text x="914.7" y="300.7" font-size="19.13" text-anchor="start">&gt; 1.2</text>
<text x="914.7" y="478.9" font-size="19.13" text-anchor="start">0</text>
<text x="914.7" y="657.2" font-size="19.13" text-anchor="start">&lt; -1.2</text>
<rect x="1863.7" y="182" width="7.7" height="125.6" fill="url(#cb133)" stroke="#000" stroke-width="1.4"/>
<path d="M1871.4 182h6.1M1871.4 244.8h6.1M1871.4 307.6h6.1" stroke="#000" stroke-width="1.4" fill="none"/>
<text x="1883" y="188.8" font-size="17.35" text-anchor="start">&gt; 1.2</text>
<text x="1883" y="251.6" font-size="17.35" text-anchor="start">0</text>
<text x="1883" y="314.4" font-size="17.35" text-anchor="start">&lt; -1.2</text>
<rect x="887.8" y="1055.8" width="9.2" height="172.6" fill="url(#cb134)" stroke="#000" stroke-width="1.4"/>
<path d="M897 1055.8h6.2M897 1142.1h6.2M897 1228.4h6.2" stroke="#000" stroke-width="1.4" fill="none"/>
<text x="909.8" y="1062.8" font-size="17.80" text-anchor="start">&gt; 1.2</text>
<text x="909.8" y="1149.1" font-size="17.80" text-anchor="start">0</text>
<text x="909.8" y="1235.4" font-size="17.80" text-anchor="start">&lt; -1.2</text>
<rect x="1887.2" y="1006.3" width="5.5" height="96.7" fill="url(#cb135)" stroke="#000" stroke-width="1.4"/>
<path d="M1892.7 1006.3h6M1892.7 1054.7h6M1892.7 1103h6" stroke="#000" stroke-width="1.4" fill="none"/>
<text x="1904" y="1013" font-size="17.10" text-anchor="start">&gt; 1.2</text>
<text x="1904" y="1061.4" font-size="17.10" text-anchor="start">0</text>
<text x="1904" y="1109.7" font-size="17.10" text-anchor="start">&lt; -1.2</text>
<rect x="883.5" y="1571" width="10.3" height="200.2" fill="url(#cb136)" stroke="#000" stroke-width="1.4"/>
<path d="M893.8 1571h6.2M893.8 1671.1h6.2M893.8 1771.2h6.2" stroke="#000" stroke-width="1.4" fill="none"/>
<text x="906.3" y="1577.9" font-size="17.67" text-anchor="start">&gt; 1.2</text>
<text x="906.3" y="1678" font-size="17.67" text-anchor="start">0</text>
<text x="906.3" y="1778.1" font-size="17.67" text-anchor="start">&lt; -1.2</text>
<rect x="1857.9" y="1523.4" width="4.9" height="99.9" fill="url(#cb137)" stroke="#000" stroke-width="1.4"/>
<path d="M1862.8 1523.4h6.2M1862.8 1573.3h6.2M1862.8 1623.3h6.2" stroke="#000" stroke-width="1.4" fill="none"/>
<text x="1875.9" y="1530.4" font-size="17.70" text-anchor="start">&gt; 1.2</text>
<text x="1875.9" y="1580.3" font-size="17.70" text-anchor="start">0</text>
<text x="1875.9" y="1630.3" font-size="17.70" text-anchor="start">&lt; -1.2</text>
<rect x="859.7" y="2077" width="8" height="155" fill="url(#cb138)" stroke="#000" stroke-width="1.4"/>
<path d="M867.7 2077h6.1M867.7 2154.5h6.1M867.7 2232h6.1" stroke="#000" stroke-width="1.4" fill="none"/>
<text x="879.6" y="2083.9" font-size="17.43" text-anchor="start">&gt; 1.2</text>
<text x="879.6" y="2161.4" font-size="17.43" text-anchor="start">0</text>
<text x="879.6" y="2238.9" font-size="17.43" text-anchor="start">&lt; -1.2</text>
<rect x="1820.6" y="2044.8" width="5.4" height="96.2" fill="url(#cb139)" stroke="#000" stroke-width="1.4"/>
<path d="M1826 2044.8h6M1826 2092.9h6M1826 2141h6" stroke="#000" stroke-width="1.4" fill="none"/>
<text x="1838" y="2051.6" font-size="17.16" text-anchor="start">&gt; 1.2</text>
<text x="1838" y="2099.7" font-size="17.16" text-anchor="start">0</text>
<text x="1838" y="2147.8" font-size="17.16" text-anchor="start">&lt; -1.2</text>
<text x="514.5" y="21.4" font-size="26.4" text-anchor="middle" style="font-family:'Liberation Sans',sans-serif">WT</text>
<text x="1523" y="24.4" font-size="27" text-anchor="middle" font-style="italic" style="font-family:'Liberation Sans',sans-serif">unc-31</text>
<text x="-3" y="40.7" font-size="73" font-weight="bold" text-anchor="start" style="font-family:'Liberation Sans',sans-serif;fill:#231f20">a</text>
<text x="-2.5" y="933.3" font-size="73" font-weight="bold" text-anchor="start" style="font-family:'Liberation Sans',sans-serif;fill:#231f20">b</text>
<text x="-3" y="1414.7" font-size="73" font-weight="bold" text-anchor="start" style="font-family:'Liberation Sans',sans-serif;fill:#231f20">c</text>
<text x="-3" y="1985.6" font-size="73" font-weight="bold" text-anchor="start" style="font-family:'Liberation Sans',sans-serif;fill:#231f20">d</text></svg></body></html>
